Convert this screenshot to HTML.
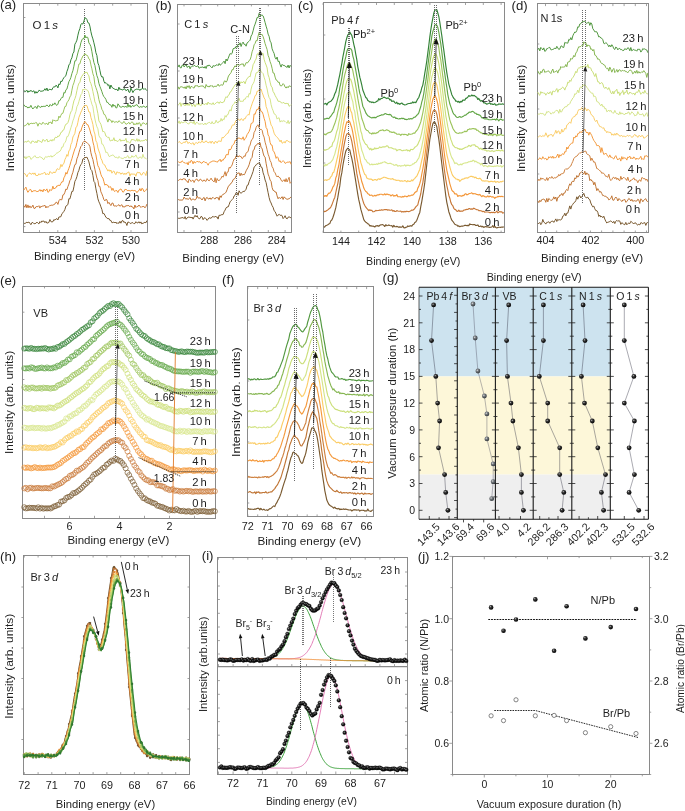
<!DOCTYPE html>
<html><head><meta charset="utf-8"><style>
html,body{margin:0;padding:0;background:#fff;}
svg{display:block;font-family:"Liberation Sans",sans-serif;will-change:transform;}
</style></head><body>
<svg width="685" height="811" viewBox="0 0 685 811">
<rect width="685" height="811" fill="#fff"/>
<rect x="23.5" y="3.5" width="124" height="229" fill="none" stroke="#8a8a8a" stroke-width="1.0"/>
<line x1="131" y1="3.5" x2="131" y2="5.7" stroke="#8a8a8a" stroke-width="0.8" />
<line x1="112.7" y1="3.5" x2="112.7" y2="5.7" stroke="#8a8a8a" stroke-width="0.8" />
<line x1="94.4" y1="3.5" x2="94.4" y2="5.7" stroke="#8a8a8a" stroke-width="0.8" />
<line x1="76.1" y1="3.5" x2="76.1" y2="5.7" stroke="#8a8a8a" stroke-width="0.8" />
<line x1="57.8" y1="3.5" x2="57.8" y2="5.7" stroke="#8a8a8a" stroke-width="0.8" />
<line x1="39.5" y1="3.5" x2="39.5" y2="5.7" stroke="#8a8a8a" stroke-width="0.8" />
<line x1="131" y1="232.3" x2="131" y2="230.1" stroke="#8a8a8a" stroke-width="0.8" />
<line x1="112.7" y1="232.3" x2="112.7" y2="230.1" stroke="#8a8a8a" stroke-width="0.8" />
<line x1="94.4" y1="232.3" x2="94.4" y2="230.1" stroke="#8a8a8a" stroke-width="0.8" />
<line x1="76.1" y1="232.3" x2="76.1" y2="230.1" stroke="#8a8a8a" stroke-width="0.8" />
<line x1="57.8" y1="232.3" x2="57.8" y2="230.1" stroke="#8a8a8a" stroke-width="0.8" />
<line x1="39.5" y1="232.3" x2="39.5" y2="230.1" stroke="#8a8a8a" stroke-width="0.8" />
<line x1="23.4" y1="17.5" x2="25.4" y2="17.5" stroke="#8a8a8a" stroke-width="0.8" />
<line x1="23.4" y1="91.8" x2="25.4" y2="91.8" stroke="#8a8a8a" stroke-width="0.8" />
<line x1="23.4" y1="157.3" x2="25.4" y2="157.3" stroke="#8a8a8a" stroke-width="0.8" />
<line x1="23.4" y1="226.6" x2="25.4" y2="226.6" stroke="#8a8a8a" stroke-width="0.8" />
<text x="57.8" y="243.5" font-size="10.8" fill="#1e1e1e" text-anchor="middle">534</text>
<text x="94.4" y="243.5" font-size="10.8" fill="#1e1e1e" text-anchor="middle">532</text>
<text x="131" y="243.5" font-size="10.8" fill="#1e1e1e" text-anchor="middle">530</text>
<line x1="84.5" y1="9" x2="84.5" y2="190" stroke="#444" stroke-width="0.8" stroke-dasharray="1 1"/>
<path d="M23.9,223.2L24.9,223.5 25.9,222.9 26.9,222.2 27.9,222.7 28.9,222 29.9,223.3 30.9,224.7 31.9,222.6 32.9,222.5 33.9,223.7 34.9,223.6 35.9,223.3 36.9,222.1 37.9,223.1 38.9,223.9 39.9,221.6 40.9,222.6 41.9,220.9 42.9,221.6 43.9,220.9 44.9,222.7 45.9,221.4 46.9,223.1 47.9,222.9 48.9,222.4 49.9,219.5 50.9,221.6 51.9,221.9 52.9,221.7 53.9,219.5 54.9,220.2 55.9,219.1 56.9,218.6 57.9,220 58.9,217 59.9,216.9 60.9,216.7 61.9,213.7 62.9,212.8 63.9,211.4 64.9,209.5 65.9,206.1 66.9,205.4 67.9,204.6 68.9,198.7 69.9,198.9 70.9,195.2 71.9,191.4 72.9,191.4 73.9,186.8 74.9,181.3 75.9,179.4 76.9,176.7 77.9,172.5 78.9,170.3 79.9,166.5 80.9,164.6 81.9,163.2 82.9,158.9 83.9,158.6 84.9,157.1 85.9,157.8 86.9,157.1 87.9,159.3 88.9,161.9 89.9,166 90.9,169.7 91.9,170.7 92.9,175.4 93.9,181.4 94.9,182.7 95.9,188.8 96.9,193.4 97.9,198.8 98.9,201.8 99.9,203.9 100.9,206.8 101.9,209.5 102.9,213.8 103.9,213.4 104.9,215.2 105.9,217.3 106.9,217.9 107.9,218.8 108.9,218.5 109.9,220.4 110.9,220.4 111.9,222.7 112.9,222.5 113.9,222 114.9,223 115.9,222 116.9,223.7 117.9,222.6 118.9,223.4 119.9,221.3 120.9,223.2 121.9,220.9 122.9,220.5 123.9,222.5 124.9,221.9 125.9,223.1 126.9,225.5 127.9,222 128.9,222.2 129.9,223.2 130.9,223.5 131.9,222.7 132.9,222.7 133.9,223.7 134.9,223.5 135.9,221.7 136.9,222.8 137.9,223 138.9,221.7 139.9,223.2 140.9,221.9 141.9,224 142.9,223.1 143.9,223 144.9,222.2 145.9,222.8 146.9,220.6" fill="none" stroke="#7a5a30" stroke-width="1.0" stroke-linejoin="round" />
<path d="M23.9,205.6L24.9,207.3 25.9,204.4 26.9,207.9 27.9,204.9 28.9,207.8 29.9,205.9 30.9,207.8 31.9,207 32.9,205.1 33.9,208.3 34.9,208.5 35.9,206.8 36.9,206.5 37.9,206.7 38.9,205.7 39.9,208.1 40.9,206.2 41.9,206.7 42.9,205.8 43.9,206 44.9,205.2 45.9,208 46.9,206.3 47.9,207.5 48.9,206.3 49.9,205.3 50.9,205.5 51.9,205 52.9,205.3 53.9,204.5 54.9,204.1 55.9,202.3 56.9,202.3 57.9,204.4 58.9,200.8 59.9,199.3 60.9,199.8 61.9,199.7 62.9,194.9 63.9,194.6 64.9,192.3 65.9,189 66.9,189.7 67.9,186.5 68.9,184.1 69.9,180.5 70.9,179.1 71.9,175 72.9,172.3 73.9,168 74.9,164.6 75.9,164.2 76.9,158.8 77.9,156.4 78.9,152.8 79.9,149.3 80.9,146.5 81.9,145.5 82.9,142.5 83.9,141.4 84.9,140.9 85.9,142.3 86.9,142.5 87.9,143.6 88.9,144.7 89.9,146.6 90.9,152.7 91.9,156.6 92.9,159.5 93.9,164.6 94.9,169.3 95.9,173.7 96.9,178 97.9,180.4 98.9,186.3 99.9,186.4 100.9,191.8 101.9,193.9 102.9,196.6 103.9,199.7 104.9,200.9 105.9,199.3 106.9,199.8 107.9,203.6 108.9,202.3 109.9,204.1 110.9,205.6 111.9,203.2 112.9,203 113.9,206 114.9,206 115.9,205.8 116.9,206.3 117.9,205.3 118.9,204.7 119.9,206.3 120.9,205.4 121.9,204.7 122.9,207.2 123.9,206.5 124.9,207.1 125.9,205.5 126.9,205.9 127.9,205.5 128.9,205.6 129.9,206.9 130.9,205.7 131.9,207 132.9,207 133.9,209 134.9,205 135.9,207.6 136.9,206.5 137.9,206.6 138.9,205 139.9,206.1 140.9,207.5 141.9,206.5 142.9,206.7 143.9,206.3 144.9,207.9 145.9,206.6 146.9,204.1" fill="none" stroke="#c87838" stroke-width="1.0" stroke-linejoin="round" />
<path d="M23.9,190L24.9,188.5 25.9,187.1 26.9,190.2 27.9,192.3 28.9,190.8 29.9,189.4 30.9,189.7 31.9,192.1 32.9,191 33.9,190.8 34.9,190.7 35.9,190.8 36.9,191.7 37.9,191.4 38.9,191 39.9,189.5 40.9,191.3 41.9,189.9 42.9,191.9 43.9,189.1 44.9,190.4 45.9,190.5 46.9,188.9 47.9,192.3 48.9,191.8 49.9,189.4 50.9,190.6 51.9,189.9 52.9,186.2 53.9,189 54.9,188.2 55.9,187.8 56.9,185.8 57.9,185.9 58.9,185.1 59.9,185.6 60.9,183.4 61.9,181.7 62.9,181.9 63.9,177.8 64.9,176.1 65.9,172.4 66.9,174.1 67.9,170.9 68.9,168.3 69.9,165.3 70.9,161.7 71.9,158.8 72.9,155.1 73.9,151.9 74.9,148.8 75.9,147 76.9,142.5 77.9,138.4 78.9,134.5 79.9,131.3 80.9,131.1 81.9,127.4 82.9,124.9 83.9,123.1 84.9,121.5 85.9,122.8 86.9,124.6 87.9,124.7 88.9,127.2 89.9,130.1 90.9,134 91.9,136 92.9,141.9 93.9,145.7 94.9,152.2 95.9,154.8 96.9,160.6 97.9,165.8 98.9,167.4 99.9,170.5 100.9,174.4 101.9,176.9 102.9,178 103.9,181.7 104.9,185.2 105.9,184 106.9,185.2 107.9,185.3 108.9,187.6 109.9,186.5 110.9,187.2 111.9,190.4 112.9,188.2 113.9,190.8 114.9,191.5 115.9,190.3 116.9,190.7 117.9,192.5 118.9,190.1 119.9,189.7 120.9,188.9 121.9,190.5 122.9,192.2 123.9,191.6 124.9,189.4 125.9,189.5 126.9,189.9 127.9,190.9 128.9,190.3 129.9,190.8 130.9,190.9 131.9,190.2 132.9,190.5 133.9,190.8 134.9,190.4 135.9,191.1 136.9,192.7 137.9,191.2 138.9,190.6 139.9,188.6 140.9,191 141.9,188.3 142.9,188.9 143.9,191.5 144.9,191.3 145.9,190.3 146.9,188.5" fill="none" stroke="#f39638" stroke-width="1.0" stroke-linejoin="round" />
<path d="M23.9,173.9L24.9,173.5 25.9,175 26.9,176.9 27.9,174.5 28.9,173.4 29.9,172.9 30.9,174.2 31.9,174.1 32.9,172.9 33.9,174.4 34.9,172.9 35.9,175.5 36.9,175.5 37.9,175.5 38.9,173.7 39.9,174.8 40.9,174 41.9,173.7 42.9,173.8 43.9,172.6 44.9,172.4 45.9,174.9 46.9,173.7 47.9,174 48.9,174.8 49.9,171.5 50.9,172.4 51.9,173.2 52.9,173.1 53.9,171.8 54.9,173 55.9,171.4 56.9,169.1 57.9,168.7 58.9,169.7 59.9,168.3 60.9,164.4 61.9,166.7 62.9,164.3 63.9,163.5 64.9,159.6 65.9,157.6 66.9,154.5 67.9,156.3 68.9,150.6 69.9,149.8 70.9,144.4 71.9,142.3 72.9,137 73.9,135.2 74.9,133.3 75.9,127.3 76.9,126.6 77.9,122.3 78.9,117.4 79.9,115 80.9,112.2 81.9,110.2 82.9,107.7 83.9,106.1 84.9,106 85.9,105.2 86.9,105.6 87.9,108.6 88.9,112 89.9,112.1 90.9,117.4 91.9,120.6 92.9,124.5 93.9,131.1 94.9,134.1 95.9,140.9 96.9,142.6 97.9,148 98.9,151 99.9,153.8 100.9,158.4 101.9,160.2 102.9,163.4 103.9,164.6 104.9,165.1 105.9,167.7 106.9,169 107.9,171.1 108.9,169.7 109.9,171.4 110.9,170 111.9,173.2 112.9,171.5 113.9,171 114.9,173.2 115.9,174.7 116.9,171.8 117.9,172.5 118.9,172.9 119.9,172.6 120.9,174.3 121.9,173 122.9,173.1 123.9,174.7 124.9,173.1 125.9,174.5 126.9,172.9 127.9,172.6 128.9,171.9 129.9,176.2 130.9,173.7 131.9,174.3 132.9,174 133.9,174.2 134.9,174.1 135.9,176.2 136.9,172.8 137.9,172.2 138.9,172.9 139.9,172.5 140.9,174.9 141.9,175 142.9,172.9 143.9,172.4 144.9,173.6 145.9,175.6 146.9,170.8" fill="none" stroke="#fbcb62" stroke-width="1.0" stroke-linejoin="round" />
<path d="M23.9,158.4L24.9,156.6 25.9,159 26.9,156.6 27.9,157.5 28.9,156.1 29.9,156.7 30.9,159.4 31.9,158.7 32.9,157.3 33.9,156.8 34.9,155.6 35.9,157.3 36.9,157.7 37.9,157.6 38.9,157.6 39.9,156.4 40.9,157.6 41.9,157.6 42.9,159.1 43.9,159.7 44.9,157.4 45.9,156.6 46.9,157.3 47.9,156.6 48.9,156.3 49.9,156.9 50.9,155.5 51.9,157.2 52.9,156 53.9,156 54.9,155 55.9,153.8 56.9,152.9 57.9,152.9 58.9,151.6 59.9,151.4 60.9,149.9 61.9,147 62.9,147.1 63.9,143.7 64.9,142.6 65.9,140.9 66.9,136.6 67.9,136.6 68.9,134.1 69.9,131 70.9,127.7 71.9,124.7 72.9,120.8 73.9,118.2 74.9,114.5 75.9,111.7 76.9,106.7 77.9,104.9 78.9,101.5 79.9,98 80.9,94.8 81.9,93.5 82.9,89 83.9,90.1 84.9,89.1 85.9,89.2 86.9,90.1 87.9,90.5 88.9,93.2 89.9,97.3 90.9,100.6 91.9,104.3 92.9,106.7 93.9,113.6 94.9,119 95.9,123.3 96.9,126.8 97.9,128.8 98.9,135.5 99.9,137.7 100.9,138.1 101.9,144.1 102.9,144.3 103.9,146.5 104.9,149 105.9,152.7 106.9,152 107.9,153.7 108.9,156.2 109.9,156.7 110.9,155.3 111.9,155.6 112.9,154.8 113.9,155.7 114.9,157.3 115.9,157.4 116.9,157.2 117.9,158.4 118.9,156.4 119.9,157.3 120.9,158.3 121.9,158.1 122.9,158.7 123.9,158 124.9,157.2 125.9,157.9 126.9,156.4 127.9,155.6 128.9,158.2 129.9,157.5 130.9,157.9 131.9,155.6 132.9,157.1 133.9,156.8 134.9,156.5 135.9,154.9 136.9,157.1 137.9,158.6 138.9,158 139.9,156.8 140.9,157.5 141.9,158.4 142.9,154.3 143.9,157.4 144.9,158.1 145.9,158.3 146.9,159.5" fill="none" stroke="#d8e78e" stroke-width="1.0" stroke-linejoin="round" />
<path d="M23.9,142.6L24.9,141.7 25.9,141.6 26.9,142.2 27.9,140.7 28.9,141.2 29.9,142.3 30.9,143.5 31.9,141.1 32.9,141.2 33.9,141.5 34.9,142.8 35.9,141.2 36.9,142.9 37.9,140.1 38.9,141 39.9,141 40.9,142.1 41.9,142.4 42.9,139.4 43.9,140 44.9,141.4 45.9,140.2 46.9,139.1 47.9,142 48.9,141.2 49.9,141 50.9,139.7 51.9,141.2 52.9,139.4 53.9,140.5 54.9,137.7 55.9,137.2 56.9,137.7 57.9,135.9 58.9,136.5 59.9,135 60.9,132.4 61.9,132.1 62.9,130.1 63.9,129.8 64.9,126.1 65.9,124.2 66.9,123.9 67.9,122.6 68.9,119.7 69.9,114.7 70.9,111.9 71.9,110.4 72.9,105.2 73.9,100.9 74.9,98.7 75.9,95.6 76.9,90.7 77.9,86.3 78.9,83.2 79.9,82.5 80.9,78 81.9,76.2 82.9,74.7 83.9,73.7 84.9,71.9 85.9,72.9 86.9,72.1 87.9,74.3 88.9,75.9 89.9,81.3 90.9,83.5 91.9,86.8 92.9,91.6 93.9,96.3 94.9,101.9 95.9,103.8 96.9,108.8 97.9,113.7 98.9,120.9 99.9,122.5 100.9,124.3 101.9,128 102.9,131.9 103.9,131.3 104.9,132.8 105.9,136.1 106.9,136.5 107.9,137.7 108.9,137.1 109.9,140.6 110.9,140.9 111.9,140 112.9,140.5 113.9,137.7 114.9,141 115.9,140.2 116.9,141.1 117.9,141.5 118.9,140.4 119.9,138.9 120.9,141.3 121.9,140.1 122.9,140.6 123.9,140.3 124.9,140.6 125.9,138.4 126.9,142.4 127.9,141.3 128.9,142.3 129.9,143.3 130.9,141.1 131.9,139 132.9,140 133.9,139.6 134.9,140.5 135.9,141.1 136.9,138.7 137.9,141.4 138.9,139.3 139.9,141.4 140.9,140.9 141.9,140.7 142.9,140.9 143.9,140.4 144.9,140.3 145.9,139.1 146.9,141" fill="none" stroke="#cde07a" stroke-width="1.0" stroke-linejoin="round" />
<path d="M23.9,125.7L24.9,125.9 25.9,125.1 26.9,124.4 27.9,122.8 28.9,125.2 29.9,123.5 30.9,123.5 31.9,123.2 32.9,123.7 33.9,123.1 34.9,123.5 35.9,122.3 36.9,123.1 37.9,126.2 38.9,123.5 39.9,123.2 40.9,124.1 41.9,124.3 42.9,122.2 43.9,123.2 44.9,124.4 45.9,123.6 46.9,123.3 47.9,124.9 48.9,122.2 49.9,122.8 50.9,121.9 51.9,124 52.9,119.7 53.9,120.7 54.9,120.4 55.9,121.2 56.9,120.4 57.9,120.5 58.9,116.1 59.9,117.7 60.9,115.3 61.9,113.4 62.9,113.3 63.9,109.8 64.9,106.5 65.9,106.4 66.9,102.8 67.9,101.3 68.9,99.8 69.9,96.9 70.9,95.4 71.9,90.2 72.9,85.4 73.9,82.9 74.9,79.2 75.9,75.4 76.9,73.7 77.9,69 78.9,64 79.9,63.9 80.9,60.1 81.9,58.2 82.9,55.9 83.9,55.1 84.9,53.7 85.9,55.1 86.9,55 87.9,56.5 88.9,58.9 89.9,59.8 90.9,64.9 91.9,68.8 92.9,73.8 93.9,76.6 94.9,84.7 95.9,87.6 96.9,90.5 97.9,94.1 98.9,99.6 99.9,103.3 100.9,105.7 101.9,109.4 102.9,110.9 103.9,114.3 104.9,114.6 105.9,116.9 106.9,119.2 107.9,122.1 108.9,118.8 109.9,120.1 110.9,120.2 111.9,122.6 112.9,120.7 113.9,121.8 114.9,122.5 115.9,121.6 116.9,121.8 117.9,122.5 118.9,120.7 119.9,121.5 120.9,122.7 121.9,123.4 122.9,123.1 123.9,121.3 124.9,122.8 125.9,124.2 126.9,124 127.9,123.2 128.9,122.3 129.9,124.1 130.9,122.7 131.9,122 132.9,122.4 133.9,125 134.9,123.6 135.9,124.7 136.9,122.8 137.9,124.4 138.9,122.6 139.9,123.1 140.9,126.2 141.9,124.2 142.9,122.7 143.9,123.2 144.9,123.7 145.9,124.7 146.9,122.7" fill="none" stroke="#9cc45c" stroke-width="1.0" stroke-linejoin="round" />
<path d="M23.9,104.6L24.9,106.3 25.9,106.6 26.9,106.7 27.9,108.1 28.9,107 29.9,107.5 30.9,105.3 31.9,107.6 32.9,109 33.9,107.5 34.9,106.9 35.9,106.7 36.9,108.6 37.9,105.5 38.9,106.4 39.9,107 40.9,107.4 41.9,106 42.9,106.8 43.9,106.1 44.9,106.5 45.9,106.1 46.9,104.9 47.9,106 48.9,106.9 49.9,104.6 50.9,105.2 51.9,106 52.9,103.7 53.9,104.7 54.9,102.8 55.9,104.7 56.9,105.4 57.9,104.2 58.9,100.7 59.9,100.7 60.9,98.8 61.9,97.3 62.9,97.4 63.9,92.4 64.9,93.1 65.9,89.8 66.9,89.1 67.9,85.3 68.9,81.6 69.9,79.9 70.9,77.4 71.9,73.5 72.9,70.7 73.9,66.2 74.9,60.8 75.9,60.8 76.9,57 77.9,52.9 78.9,49.4 79.9,47.3 80.9,42.7 81.9,39.9 82.9,38.5 83.9,38.7 84.9,35.1 85.9,38 86.9,36.8 87.9,37.8 88.9,42.9 89.9,44.3 90.9,46.6 91.9,51.7 92.9,57.6 93.9,62.5 94.9,65.4 95.9,70.9 96.9,75.7 97.9,78.3 98.9,83.3 99.9,86.4 100.9,88.9 101.9,91.7 102.9,94.7 103.9,96.7 104.9,97.8 105.9,99.4 106.9,102.4 107.9,102.4 108.9,104 109.9,105 110.9,104.9 111.9,107.3 112.9,104.1 113.9,106.3 114.9,105.2 115.9,107.9 116.9,107.8 117.9,103.8 118.9,105 119.9,106.9 120.9,107.1 121.9,107.1 122.9,106.2 123.9,106.8 124.9,107.1 125.9,106.2 126.9,107.5 127.9,103.7 128.9,107.1 129.9,105.1 130.9,107.4 131.9,106.1 132.9,105.3 133.9,106.8 134.9,105.3 135.9,105.3 136.9,104.5 137.9,106.3 138.9,106.9 139.9,107.5 140.9,106.2 141.9,107.5 142.9,106.3 143.9,106.2 144.9,107 145.9,107.5 146.9,105.9" fill="none" stroke="#62a646" stroke-width="1.0" stroke-linejoin="round" />
<path d="M23.9,91L24.9,91.1 25.9,91.4 26.9,90.2 27.9,92.4 28.9,90.8 29.9,91.7 30.9,90.2 31.9,91.6 32.9,91.6 33.9,90.7 34.9,93.4 35.9,91.5 36.9,93.1 37.9,92.2 38.9,90.3 39.9,90.6 40.9,91.5 41.9,91 42.9,91 43.9,90.5 44.9,88.7 45.9,90.4 46.9,88 47.9,90.9 48.9,89.5 49.9,89.3 50.9,89.6 51.9,89.9 52.9,87.6 53.9,86.8 54.9,87 55.9,85.3 56.9,85.8 57.9,87.9 58.9,83.9 59.9,84.7 60.9,81.1 61.9,81.6 62.9,79.3 63.9,77.7 64.9,76.5 65.9,75.7 66.9,71.5 67.9,68.9 68.9,64.9 69.9,63.8 70.9,59.8 71.9,57.8 72.9,53.5 73.9,52 74.9,44.2 75.9,42.5 76.9,40.2 77.9,35.2 78.9,31.2 79.9,28.6 80.9,24.3 81.9,23.5 82.9,24.1 83.9,21.2 84.9,17.9 85.9,18.1 86.9,19.5 87.9,22.7 88.9,23 89.9,26.2 90.9,31.7 91.9,35.9 92.9,38.9 93.9,42.8 94.9,47 95.9,52.7 96.9,55.5 97.9,63.1 98.9,65.5 99.9,70.3 100.9,75.1 101.9,77.1 102.9,76.8 103.9,81.2 104.9,83.3 105.9,82.6 106.9,83.6 107.9,85.6 108.9,84.7 109.9,88.9 110.9,85 111.9,87 112.9,88.3 113.9,88.6 114.9,89.3 115.9,89.6 116.9,89.2 117.9,90.9 118.9,87.2 119.9,89.7 120.9,88.9 121.9,89.9 122.9,90 123.9,88.7 124.9,89 125.9,90.7 126.9,90.2 127.9,89 128.9,92.1 129.9,92.4 130.9,88.1 131.9,90.1 132.9,92.6 133.9,90.6 134.9,89.9 135.9,89.4 136.9,89 137.9,89.4 138.9,89 139.9,90.5 140.9,89.1 141.9,89.1 142.9,88.2 143.9,89.5 144.9,88.5 145.9,89.3 146.9,90.7" fill="none" stroke="#338236" stroke-width="1.0" stroke-linejoin="round" />
<text x="132.2" y="219" font-size="11.2" fill="#1e1e1e" text-anchor="middle">0 h</text>
<text x="132.2" y="201.4" font-size="11.2" fill="#1e1e1e" text-anchor="middle">2 h</text>
<text x="132.2" y="184.8" font-size="11.2" fill="#1e1e1e" text-anchor="middle">4 h</text>
<text x="132.2" y="168.1" font-size="11.2" fill="#1e1e1e" text-anchor="middle">7 h</text>
<text x="133.3" y="152.4" font-size="11.2" fill="#1e1e1e" text-anchor="middle">10 h</text>
<text x="133.3" y="134.9" font-size="11.2" fill="#1e1e1e" text-anchor="middle">12 h</text>
<text x="133.3" y="120.1" font-size="11.2" fill="#1e1e1e" text-anchor="middle">15 h</text>
<text x="133.3" y="104" font-size="11.2" fill="#1e1e1e" text-anchor="middle">19 h</text>
<text x="133.3" y="87.7" font-size="11.2" fill="#1e1e1e" text-anchor="middle">23 h</text>
<text x="32.4" y="28.6" font-size="11.5" fill="#1e1e1e">O 1 <tspan font-style="italic">s</tspan></text>
<rect x="177.5" y="4.5" width="114" height="228" fill="none" stroke="#8a8a8a" stroke-width="1.0"/>
<line x1="285.1" y1="4.2" x2="285.1" y2="6.4" stroke="#8a8a8a" stroke-width="0.8" />
<line x1="268.3" y1="4.2" x2="268.3" y2="6.4" stroke="#8a8a8a" stroke-width="0.8" />
<line x1="251.4" y1="4.2" x2="251.4" y2="6.4" stroke="#8a8a8a" stroke-width="0.8" />
<line x1="234.6" y1="4.2" x2="234.6" y2="6.4" stroke="#8a8a8a" stroke-width="0.8" />
<line x1="217.7" y1="4.2" x2="217.7" y2="6.4" stroke="#8a8a8a" stroke-width="0.8" />
<line x1="200.9" y1="4.2" x2="200.9" y2="6.4" stroke="#8a8a8a" stroke-width="0.8" />
<line x1="184" y1="4.2" x2="184" y2="6.4" stroke="#8a8a8a" stroke-width="0.8" />
<line x1="285.1" y1="232.2" x2="285.1" y2="230" stroke="#8a8a8a" stroke-width="0.8" />
<line x1="268.3" y1="232.2" x2="268.3" y2="230" stroke="#8a8a8a" stroke-width="0.8" />
<line x1="251.4" y1="232.2" x2="251.4" y2="230" stroke="#8a8a8a" stroke-width="0.8" />
<line x1="234.6" y1="232.2" x2="234.6" y2="230" stroke="#8a8a8a" stroke-width="0.8" />
<line x1="217.7" y1="232.2" x2="217.7" y2="230" stroke="#8a8a8a" stroke-width="0.8" />
<line x1="200.9" y1="232.2" x2="200.9" y2="230" stroke="#8a8a8a" stroke-width="0.8" />
<line x1="184" y1="232.2" x2="184" y2="230" stroke="#8a8a8a" stroke-width="0.8" />
<line x1="177.6" y1="24" x2="179.6" y2="24" stroke="#8a8a8a" stroke-width="0.8" />
<line x1="177.6" y1="71" x2="179.6" y2="71" stroke="#8a8a8a" stroke-width="0.8" />
<line x1="177.6" y1="118" x2="179.6" y2="118" stroke="#8a8a8a" stroke-width="0.8" />
<line x1="177.6" y1="165" x2="179.6" y2="165" stroke="#8a8a8a" stroke-width="0.8" />
<line x1="177.6" y1="212" x2="179.6" y2="212" stroke="#8a8a8a" stroke-width="0.8" />
<text x="209.3" y="244.4" font-size="10.8" fill="#1e1e1e" text-anchor="middle">288</text>
<text x="243" y="244.4" font-size="10.8" fill="#1e1e1e" text-anchor="middle">286</text>
<text x="276.7" y="244.4" font-size="10.8" fill="#1e1e1e" text-anchor="middle">284</text>
<path d="M178.1,218.2L179.1,218.4 180.1,218.2 181.1,217.9 182.1,217.7 183.1,217.5 184.1,218.7 185.1,216.6 186.1,219.3 187.1,217.9 188.1,217 189.1,217.3 190.1,217.1 191.1,218 192.1,217 193.1,219.1 194.1,216.9 195.1,215.3 196.1,217 197.1,215.6 198.1,217.7 199.1,218.9 200.1,218.5 201.1,216.3 202.1,216.9 203.1,219.7 204.1,218.1 205.1,217.7 206.1,218.9 207.1,220.4 208.1,219.1 209.1,217.8 210.1,218 211.1,218.3 212.1,216.9 213.1,216.3 214.1,217.4 215.1,216.2 216.1,217 217.1,216.9 218.1,219.1 219.1,215.2 220.1,215.5 221.1,214.8 222.1,214.7 223.1,214.5 224.1,211.7 225.1,210.1 226.1,207.8 227.1,207 228.1,207 229.1,204.7 230.1,201.8 231.1,200.8 232.1,199.6 233.1,198.6 234.1,196 235.1,195.2 236.1,192.6 237.1,192.7 238.1,195.3 239.1,190.8 240.1,192.7 241.1,193.2 242.1,192.3 243.1,191.4 244.1,191.6 245.1,190.7 246.1,189.2 247.1,185.4 248.1,185.1 249.1,181.7 250.1,179.1 251.1,176.9 252.1,174.2 253.1,171.4 254.1,167.1 255.1,166.3 256.1,164.8 257.1,163.7 258.1,163.7 259.1,162.6 260.1,164 261.1,167.2 262.1,167.6 263.1,172.8 264.1,175.7 265.1,180 266.1,182.6 267.1,187.7 268.1,192.7 269.1,197.5 270.1,201.1 271.1,203 272.1,205.7 273.1,207.3 274.1,210.7 275.1,211.6 276.1,213.9 277.1,216.2 278.1,215.1 279.1,214.2 280.1,215.4 281.1,215.1 282.1,215.6 283.1,218.6 284.1,217.5 285.1,215.7 286.1,218.2 287.1,218.9 288.1,217.2 289.1,216.9 290.1,217.3 291.1,218" fill="none" stroke="#7a5a30" stroke-width="1.0" stroke-linejoin="round" />
<path d="M178.1,199.4L179.1,200 180.1,200.1 181.1,200 182.1,200.2 183.1,199.5 184.1,197 185.1,198.6 186.1,199.1 187.1,198.3 188.1,199.7 189.1,198.3 190.1,197.7 191.1,200.3 192.1,199.4 193.1,198.9 194.1,199.7 195.1,199.9 196.1,199.1 197.1,196 198.1,197.9 199.1,198.2 200.1,197.6 201.1,198.9 202.1,200 203.1,198.1 204.1,197.4 205.1,200.9 206.1,198.1 207.1,197.3 208.1,198.9 209.1,199 210.1,197.8 211.1,199.4 212.1,197.9 213.1,197.4 214.1,198.5 215.1,199 216.1,197.3 217.1,198.1 218.1,197.4 219.1,200.2 220.1,195.8 221.1,197.5 222.1,195.2 223.1,194.2 224.1,194.1 225.1,193.1 226.1,192.1 227.1,189.6 228.1,186.9 229.1,185.3 230.1,184.7 231.1,183 232.1,182.3 233.1,179.6 234.1,179 235.1,178.3 236.1,175.9 237.1,173.4 238.1,173.3 239.1,172.7 240.1,175.9 241.1,173.1 242.1,175.3 243.1,174.2 244.1,174.9 245.1,173.3 246.1,170.8 247.1,169 248.1,167.2 249.1,164.8 250.1,161.2 251.1,158.6 252.1,157.3 253.1,150.5 254.1,149.8 255.1,146 256.1,145.2 257.1,144.6 258.1,143.1 259.1,144.3 260.1,142.8 261.1,147.7 262.1,148.4 263.1,153 264.1,156.2 265.1,157.1 266.1,163.3 267.1,168.6 268.1,174.1 269.1,176.6 270.1,180.1 271.1,181.5 272.1,187.5 273.1,190.4 274.1,190.6 275.1,192.1 276.1,192 277.1,195.9 278.1,198.8 279.1,197.3 280.1,198.5 281.1,198.1 282.1,196.7 283.1,199.5 284.1,196.8 285.1,198 286.1,198.7 287.1,199.4 288.1,198.9 289.1,198.9 290.1,197.7 291.1,197.1" fill="none" stroke="#c07636" stroke-width="1.0" stroke-linejoin="round" />
<path d="M178.1,180.7L179.1,179.9 180.1,179.2 181.1,179.2 182.1,180.1 183.1,178.6 184.1,179.1 185.1,178.8 186.1,180.8 187.1,181.1 188.1,182.8 189.1,179 190.1,179.9 191.1,181.6 192.1,180.4 193.1,180.2 194.1,182.5 195.1,180.2 196.1,179.3 197.1,179.1 198.1,181 199.1,180.9 200.1,179.1 201.1,179.5 202.1,181.1 203.1,181.2 204.1,179.8 205.1,181.2 206.1,181.2 207.1,178.6 208.1,180.2 209.1,180.9 210.1,179.8 211.1,178.1 212.1,180.1 213.1,181.1 214.1,182 215.1,177.7 216.1,182.8 217.1,178.5 218.1,180.5 219.1,180.5 220.1,179.7 221.1,178.2 222.1,176.1 223.1,177.2 224.1,174.7 225.1,171.6 226.1,176.1 227.1,172.3 228.1,172 229.1,167.3 230.1,168.2 231.1,166.6 232.1,165 233.1,161.7 234.1,159 235.1,158.9 236.1,155.8 237.1,155.6 238.1,157.1 239.1,155.7 240.1,156.5 241.1,156.5 242.1,158.6 243.1,157.7 244.1,155.8 245.1,156.5 246.1,153.1 247.1,152.1 248.1,151.5 249.1,146.8 250.1,145.1 251.1,141 252.1,139.4 253.1,138 254.1,132.4 255.1,130.9 256.1,127.5 257.1,125.7 258.1,124.8 259.1,127.8 260.1,129.6 261.1,129.2 262.1,130.2 263.1,134.8 264.1,137.1 265.1,142.2 266.1,145.7 267.1,149.8 268.1,154.2 269.1,156.8 270.1,160.6 271.1,162.4 272.1,166.7 273.1,168.2 274.1,171.8 275.1,172.8 276.1,175.4 277.1,177 278.1,175.9 279.1,177.4 280.1,177.8 281.1,180.1 282.1,181.5 283.1,180.8 284.1,179.6 285.1,181.8 286.1,178.6 287.1,182 288.1,179.6 289.1,177.3 290.1,183.3 291.1,182.2" fill="none" stroke="#cf8240" stroke-width="1.0" stroke-linejoin="round" />
<path d="M178.1,161.3L179.1,162.6 180.1,162.2 181.1,162.5 182.1,160.8 183.1,161.7 184.1,162.9 185.1,162.7 186.1,163.7 187.1,162.5 188.1,165 189.1,161.6 190.1,162.7 191.1,160.3 192.1,161 193.1,163.9 194.1,161.4 195.1,163 196.1,162.3 197.1,161.2 198.1,162 199.1,161.8 200.1,161.8 201.1,163.2 202.1,163.1 203.1,161.7 204.1,161.4 205.1,162.7 206.1,162.2 207.1,163.4 208.1,165.2 209.1,163.2 210.1,162.2 211.1,162 212.1,161.2 213.1,161.1 214.1,160.9 215.1,161.5 216.1,161.3 217.1,162.4 218.1,160.9 219.1,160.7 220.1,159.2 221.1,161.8 222.1,159.8 223.1,160.4 224.1,158.4 225.1,158 226.1,154.8 227.1,154.4 228.1,155 229.1,149.1 230.1,150 231.1,148.9 232.1,145.8 233.1,144.6 234.1,143.8 235.1,140.4 236.1,140.6 237.1,138.5 238.1,138.2 239.1,138 240.1,138.5 241.1,138.8 242.1,139.1 243.1,136.8 244.1,140.3 245.1,138.7 246.1,137.3 247.1,134.6 248.1,133.1 249.1,131.5 250.1,128.7 251.1,123.5 252.1,123.1 253.1,122.4 254.1,113.9 255.1,114.4 256.1,111.3 257.1,109.1 258.1,109.7 259.1,106.6 260.1,108.7 261.1,111.5 262.1,111.8 263.1,114.3 264.1,118.3 265.1,121.4 266.1,127.6 267.1,129 268.1,135 269.1,136.6 270.1,142.4 271.1,145 272.1,145.2 273.1,150.8 274.1,151.9 275.1,154.6 276.1,158.4 277.1,156.7 278.1,157.8 279.1,161.5 280.1,160.6 281.1,162.7 282.1,161.7 283.1,160.6 284.1,161.7 285.1,163.3 286.1,163.1 287.1,162.1 288.1,162.2 289.1,162.1 290.1,161.6 291.1,164.4" fill="none" stroke="#f49a3e" stroke-width="1.0" stroke-linejoin="round" />
<path d="M178.1,142.7L179.1,141.5 180.1,142.2 181.1,143.6 182.1,143.5 183.1,142.6 184.1,142 185.1,142.8 186.1,140.8 187.1,141.3 188.1,143.6 189.1,142.2 190.1,143.1 191.1,144.1 192.1,143.4 193.1,142.7 194.1,145.1 195.1,143.5 196.1,142.3 197.1,143.5 198.1,143.1 199.1,141.7 200.1,142.8 201.1,142.5 202.1,140.4 203.1,142.5 204.1,142.3 205.1,142.1 206.1,140.8 207.1,142.2 208.1,142.6 209.1,142.7 210.1,141.3 211.1,143.3 212.1,141.1 213.1,142.2 214.1,143.8 215.1,141.5 216.1,141.5 217.1,143.1 218.1,141.2 219.1,141 220.1,141.2 221.1,141.6 222.1,137.3 223.1,138 224.1,136.9 225.1,135.7 226.1,134.8 227.1,133.4 228.1,133.2 229.1,130.2 230.1,129.7 231.1,128.3 232.1,125.4 233.1,124.8 234.1,125.1 235.1,122.4 236.1,120.4 237.1,120.3 238.1,118.8 239.1,119.9 240.1,120.5 241.1,118.6 242.1,119.3 243.1,120.7 244.1,118.6 245.1,118.9 246.1,116.7 247.1,115.6 248.1,114.3 249.1,115.1 250.1,109.8 251.1,106.8 252.1,103.8 253.1,101.1 254.1,98.9 255.1,95.6 256.1,95.2 257.1,91.2 258.1,91.3 259.1,89.5 260.1,90.2 261.1,89 262.1,92.4 263.1,95 264.1,97.9 265.1,99.4 266.1,106.6 267.1,109.2 268.1,113.2 269.1,117.3 270.1,121 271.1,125.1 272.1,126.4 273.1,129.5 274.1,133.2 275.1,135.1 276.1,136.2 277.1,137.4 278.1,138.2 279.1,139.9 280.1,141.9 281.1,140 282.1,143.2 283.1,142.8 284.1,141.5 285.1,143.1 286.1,140.7 287.1,140.5 288.1,141 289.1,142 290.1,142.2 291.1,142" fill="none" stroke="#fbcd68" stroke-width="1.0" stroke-linejoin="round" />
<path d="M178.1,123.4L179.1,120.9 180.1,123.8 181.1,121.7 182.1,122.5 183.1,122.8 184.1,122 185.1,121.7 186.1,122.1 187.1,123.2 188.1,123.9 189.1,123.8 190.1,122.1 191.1,122.3 192.1,122.2 193.1,123.7 194.1,121 195.1,124.6 196.1,122.7 197.1,122.3 198.1,123.6 199.1,124.3 200.1,123.6 201.1,124.3 202.1,123.3 203.1,124.5 204.1,124.5 205.1,123 206.1,124.7 207.1,123.3 208.1,123.2 209.1,122.1 210.1,122.8 211.1,123.9 212.1,121.6 213.1,123.7 214.1,123.3 215.1,123.1 216.1,120.2 217.1,122.4 218.1,122.9 219.1,121.1 220.1,121.6 221.1,118.4 222.1,121.1 223.1,118.9 224.1,119.7 225.1,115.6 226.1,117.2 227.1,114.8 228.1,114.5 229.1,111 230.1,109.7 231.1,111.1 232.1,106.1 233.1,104.7 234.1,103.7 235.1,101.7 236.1,103.1 237.1,102.9 238.1,99.7 239.1,98.3 240.1,101.4 241.1,101.4 242.1,101.1 243.1,101.5 244.1,99.1 245.1,99.4 246.1,97.4 247.1,96.2 248.1,97.3 249.1,93.4 250.1,94.3 251.1,89.1 252.1,85.3 253.1,83.7 254.1,81.7 255.1,77.3 256.1,72.9 257.1,72.5 258.1,72.1 259.1,69.3 260.1,69 261.1,71.8 262.1,72.5 263.1,73.5 264.1,77.2 265.1,80.3 266.1,85.2 267.1,89 268.1,94.1 269.1,97.6 270.1,98.9 271.1,104.6 272.1,108.3 273.1,110.7 274.1,113.8 275.1,114.2 276.1,115.6 277.1,119.1 278.1,118.1 279.1,117.8 280.1,122.1 281.1,120.7 282.1,121.6 283.1,120.7 284.1,121 285.1,121.4 286.1,122.4 287.1,123.3 288.1,120.4 289.1,123.8 290.1,121.7 291.1,121.9" fill="none" stroke="#d4e488" stroke-width="1.0" stroke-linejoin="round" />
<path d="M178.1,105.1L179.1,104.3 180.1,102.6 181.1,106.4 182.1,103.4 183.1,104.6 184.1,104.6 185.1,105.9 186.1,103.8 187.1,105.4 188.1,103.5 189.1,105.6 190.1,103.5 191.1,103.9 192.1,106.4 193.1,104.7 194.1,104.4 195.1,106.8 196.1,104.7 197.1,103.4 198.1,105.1 199.1,103 200.1,105.5 201.1,105.6 202.1,103.6 203.1,103.6 204.1,104.5 205.1,104.3 206.1,103.2 207.1,104.9 208.1,102 209.1,103.7 210.1,103.7 211.1,103.9 212.1,104.5 213.1,102.7 214.1,104.7 215.1,103.7 216.1,103.1 217.1,102.1 218.1,102.1 219.1,103.5 220.1,101.7 221.1,102.3 222.1,102.8 223.1,102.1 224.1,101.8 225.1,98.7 226.1,96.7 227.1,97.7 228.1,95.5 229.1,94.8 230.1,92 231.1,91.6 232.1,89.6 233.1,87.9 234.1,86.3 235.1,84.9 236.1,83.7 237.1,82.9 238.1,83.2 239.1,81.3 240.1,83.7 241.1,81.7 242.1,83 243.1,81.8 244.1,81.6 245.1,83.8 246.1,80.6 247.1,78.5 248.1,77.8 249.1,76.3 250.1,76.8 251.1,72 252.1,69.9 253.1,64.7 254.1,63.1 255.1,60.5 256.1,59 257.1,54 258.1,53.8 259.1,52.5 260.1,50.8 261.1,52.4 262.1,53.5 263.1,53.4 264.1,59.3 265.1,62.5 266.1,65 267.1,67.9 268.1,74.9 269.1,77.5 270.1,82.1 271.1,86.1 272.1,87.2 273.1,91.6 274.1,93 275.1,95.4 276.1,97.2 277.1,98.9 278.1,101.3 279.1,101.2 280.1,101.7 281.1,102.2 282.1,103.3 283.1,102.3 284.1,103 285.1,103.7 286.1,103.2 287.1,103.8 288.1,103.3 289.1,106.3 290.1,105.6 291.1,104.6" fill="none" stroke="#cbdf7a" stroke-width="1.0" stroke-linejoin="round" />
<path d="M178.1,86.7L179.1,89.2 180.1,87.1 181.1,86.6 182.1,87.1 183.1,87.1 184.1,88.3 185.1,86.7 186.1,89 187.1,85.8 188.1,87.5 189.1,85.6 190.1,88.7 191.1,86.4 192.1,86.6 193.1,87.7 194.1,88.1 195.1,85.5 196.1,86.3 197.1,85.2 198.1,86.8 199.1,86.6 200.1,86.3 201.1,85.9 202.1,86.2 203.1,85.8 204.1,87.2 205.1,88.3 206.1,84.5 207.1,86.5 208.1,86.2 209.1,87.1 210.1,85.5 211.1,86.4 212.1,85.4 213.1,87.2 214.1,86.5 215.1,86.2 216.1,86.6 217.1,85.8 218.1,84.1 219.1,86.2 220.1,85.5 221.1,84.6 222.1,85.3 223.1,84.8 224.1,81.4 225.1,80.8 226.1,82.2 227.1,80.8 228.1,77 229.1,75 230.1,73.9 231.1,72.5 232.1,69.6 233.1,69.8 234.1,67 235.1,65.8 236.1,67 237.1,64.5 238.1,64.6 239.1,65.1 240.1,65.2 241.1,63.9 242.1,64.5 243.1,63.6 244.1,66.5 245.1,65 246.1,62.6 247.1,62.9 248.1,62.4 249.1,60.5 250.1,59.8 251.1,56.7 252.1,51.8 253.1,49.2 254.1,44.8 255.1,43.4 256.1,40.5 257.1,40.9 258.1,36.1 259.1,32.5 260.1,33.6 261.1,34.7 262.1,34.4 263.1,36.6 264.1,39.7 265.1,43.6 266.1,46.6 267.1,49.5 268.1,55.3 269.1,57.8 270.1,61.7 271.1,64.3 272.1,68.3 273.1,73 274.1,73.1 275.1,77.1 276.1,80 277.1,80.4 278.1,82.4 279.1,82 280.1,85.5 281.1,85.9 282.1,85.5 283.1,83.6 284.1,84.7 285.1,87.1 286.1,88.1 287.1,86.6 288.1,87.8 289.1,85.8 290.1,86.3 291.1,86.5" fill="none" stroke="#86b652" stroke-width="1.0" stroke-linejoin="round" />
<path d="M178.1,67L179.1,64.9 180.1,67.6 181.1,68 182.1,65.3 183.1,65 184.1,66.9 185.1,65.8 186.1,63.9 187.1,67.4 188.1,66.7 189.1,66 190.1,68.8 191.1,66.7 192.1,65.7 193.1,66.6 194.1,65.4 195.1,65.7 196.1,66.9 197.1,65.9 198.1,66 199.1,68.3 200.1,67.4 201.1,67.4 202.1,67.1 203.1,67 204.1,68.1 205.1,66.4 206.1,68.5 207.1,65.4 208.1,66.1 209.1,64.9 210.1,66 211.1,66.9 212.1,67.9 213.1,65.6 214.1,66.2 215.1,65.8 216.1,65.2 217.1,64.6 218.1,65.7 219.1,63.5 220.1,65.2 221.1,64.6 222.1,63.4 223.1,62.3 224.1,61.1 225.1,63.7 226.1,59 227.1,61 228.1,58.5 229.1,55.9 230.1,53.5 231.1,54.2 232.1,53.4 233.1,48.8 234.1,48.1 235.1,48.3 236.1,46.4 237.1,47.4 238.1,44 239.1,44.9 240.1,42.8 241.1,46.5 242.1,43.6 243.1,42.1 244.1,44.4 245.1,44.3 246.1,46.2 247.1,42.9 248.1,42.1 249.1,41.2 250.1,40.2 251.1,36 252.1,34.4 253.1,30.8 254.1,26.8 255.1,24.1 256.1,21.1 257.1,17.5 258.1,17.7 259.1,13.4 260.1,15.5 261.1,15.3 262.1,15 263.1,15.9 264.1,18.8 265.1,22.5 266.1,26.2 267.1,29.4 268.1,34.1 269.1,36.3 270.1,41.1 271.1,42.8 272.1,48.8 273.1,51.3 274.1,53.4 275.1,57.6 276.1,59.2 277.1,57 278.1,61.6 279.1,61.1 280.1,64.8 281.1,67.1 282.1,64.3 283.1,65.4 284.1,65.3 285.1,66.2 286.1,66.7 287.1,67.5 288.1,65.1 289.1,68 290.1,65.3 291.1,66.6" fill="none" stroke="#529840" stroke-width="1.0" stroke-linejoin="round" />
<line x1="236.5" y1="36" x2="236.5" y2="213" stroke="#444" stroke-width="0.8" stroke-dasharray="1 1"/>
<line x1="238.5" y1="36" x2="238.5" y2="80" stroke="#444" stroke-width="0.8" stroke-dasharray="1 1"/>
<line x1="259.5" y1="8" x2="259.5" y2="186" stroke="#444" stroke-width="0.8" stroke-dasharray="1 1"/>
<line x1="260.5" y1="8" x2="260.5" y2="50" stroke="#444" stroke-width="0.8" stroke-dasharray="1 1"/>
<line x1="236.8" y1="157" x2="238.3" y2="85.7" stroke="#1a1a1a" stroke-width="0.65" />
<path d="M238.4,80.3L240.4,85.7 236.2,85.7Z" fill="#1a1a1a"/>
<line x1="259.5" y1="126" x2="260.4" y2="55.3" stroke="#1a1a1a" stroke-width="0.65" />
<path d="M260.5,49.9L262.5,55.3 258.3,55.3Z" fill="#1a1a1a"/>
<text x="183.3" y="213.7" font-size="11.2" fill="#1e1e1e">0 h</text>
<text x="183.3" y="196.1" font-size="11.2" fill="#1e1e1e">2 h</text>
<text x="183.3" y="177.3" font-size="11.2" fill="#1e1e1e">4 h</text>
<text x="183.3" y="158.2" font-size="11.2" fill="#1e1e1e">7 h</text>
<text x="182.6" y="139.5" font-size="11.2" fill="#1e1e1e">10 h</text>
<text x="182.6" y="121.1" font-size="11.2" fill="#1e1e1e">12 h</text>
<text x="182.6" y="103.9" font-size="11.2" fill="#1e1e1e">15 h</text>
<text x="182.6" y="83.4" font-size="11.2" fill="#1e1e1e">19 h</text>
<text x="182.6" y="64.5" font-size="11.2" fill="#1e1e1e">23 h</text>
<text x="184.2" y="28.2" font-size="11" fill="#1e1e1e">C 1 <tspan font-style="italic">s</tspan></text>
<text x="230.3" y="33.3" font-size="11" fill="#1e1e1e">C-N</text>
<rect x="323.5" y="2.5" width="181" height="230" fill="none" stroke="#8a8a8a" stroke-width="1.0"/>
<line x1="501.1" y1="2.8" x2="501.1" y2="5" stroke="#8a8a8a" stroke-width="0.8" />
<line x1="483.3" y1="2.8" x2="483.3" y2="5" stroke="#8a8a8a" stroke-width="0.8" />
<line x1="465.5" y1="2.8" x2="465.5" y2="5" stroke="#8a8a8a" stroke-width="0.8" />
<line x1="447.7" y1="2.8" x2="447.7" y2="5" stroke="#8a8a8a" stroke-width="0.8" />
<line x1="429.9" y1="2.8" x2="429.9" y2="5" stroke="#8a8a8a" stroke-width="0.8" />
<line x1="412.1" y1="2.8" x2="412.1" y2="5" stroke="#8a8a8a" stroke-width="0.8" />
<line x1="394.3" y1="2.8" x2="394.3" y2="5" stroke="#8a8a8a" stroke-width="0.8" />
<line x1="376.5" y1="2.8" x2="376.5" y2="5" stroke="#8a8a8a" stroke-width="0.8" />
<line x1="358.7" y1="2.8" x2="358.7" y2="5" stroke="#8a8a8a" stroke-width="0.8" />
<line x1="340.9" y1="2.8" x2="340.9" y2="5" stroke="#8a8a8a" stroke-width="0.8" />
<line x1="323.1" y1="2.8" x2="323.1" y2="5" stroke="#8a8a8a" stroke-width="0.8" />
<line x1="501.1" y1="232.8" x2="501.1" y2="230.6" stroke="#8a8a8a" stroke-width="0.8" />
<line x1="483.3" y1="232.8" x2="483.3" y2="230.6" stroke="#8a8a8a" stroke-width="0.8" />
<line x1="465.5" y1="232.8" x2="465.5" y2="230.6" stroke="#8a8a8a" stroke-width="0.8" />
<line x1="447.7" y1="232.8" x2="447.7" y2="230.6" stroke="#8a8a8a" stroke-width="0.8" />
<line x1="429.9" y1="232.8" x2="429.9" y2="230.6" stroke="#8a8a8a" stroke-width="0.8" />
<line x1="412.1" y1="232.8" x2="412.1" y2="230.6" stroke="#8a8a8a" stroke-width="0.8" />
<line x1="394.3" y1="232.8" x2="394.3" y2="230.6" stroke="#8a8a8a" stroke-width="0.8" />
<line x1="376.5" y1="232.8" x2="376.5" y2="230.6" stroke="#8a8a8a" stroke-width="0.8" />
<line x1="358.7" y1="232.8" x2="358.7" y2="230.6" stroke="#8a8a8a" stroke-width="0.8" />
<line x1="340.9" y1="232.8" x2="340.9" y2="230.6" stroke="#8a8a8a" stroke-width="0.8" />
<line x1="323.1" y1="232.8" x2="323.1" y2="230.6" stroke="#8a8a8a" stroke-width="0.8" />
<line x1="323.3" y1="35" x2="325.3" y2="35" stroke="#8a8a8a" stroke-width="0.8" />
<line x1="323.3" y1="99" x2="325.3" y2="99" stroke="#8a8a8a" stroke-width="0.8" />
<line x1="323.3" y1="163" x2="325.3" y2="163" stroke="#8a8a8a" stroke-width="0.8" />
<line x1="323.3" y1="227" x2="325.3" y2="227" stroke="#8a8a8a" stroke-width="0.8" />
<text x="340.9" y="245.1" font-size="10.8" fill="#1e1e1e" text-anchor="middle">144</text>
<text x="376.5" y="245.1" font-size="10.8" fill="#1e1e1e" text-anchor="middle">142</text>
<text x="412.1" y="245.1" font-size="10.8" fill="#1e1e1e" text-anchor="middle">140</text>
<text x="447.7" y="245.1" font-size="10.8" fill="#1e1e1e" text-anchor="middle">138</text>
<text x="483.3" y="245.1" font-size="10.8" fill="#1e1e1e" text-anchor="middle">136</text>
<path d="M323.8,227.2L324.8,226.7 325.8,225.6 326.8,225.2 327.8,224.7 328.8,224.1 329.8,223.6 330.8,220.9 331.8,220 332.8,217.7 333.8,214.8 334.8,211.3 335.8,207.7 336.8,202.5 337.8,197.4 338.8,191.4 339.8,185.9 340.8,177.6 341.8,172.9 342.8,166 343.8,160.4 344.8,155.3 345.8,151.1 346.8,149.3 347.8,148.1 348.8,149.1 349.8,150 350.8,154.7 351.8,158.4 352.8,163.4 353.8,169.1 354.8,175.4 355.8,181.6 356.8,188.2 357.8,194.4 358.8,199.9 359.8,204.2 360.8,209.2 361.8,212.6 362.8,216.2 363.8,219.6 364.8,221.1 365.8,222.2 366.8,222.8 367.8,223.8 368.8,224.3 369.8,226 370.8,225.6 371.8,226.2 372.8,226 373.8,226.4 374.8,227 375.8,225.9 376.8,225.9 377.8,225.6 378.8,226.3 379.8,225.2 380.8,224.9 381.8,224.7 382.8,224.6 383.8,225.4 384.8,226.5 385.8,224.7 386.8,225.7 387.8,225.5 388.8,224.9 389.8,225.5 390.8,225.7 391.8,225.6 392.8,227.1 393.8,225.4 394.8,226.7 395.8,226.7 396.8,226.4 397.8,226.8 398.8,227.3 399.8,226.9 400.8,227.1 401.8,227.2 402.8,225.9 403.8,227.6 404.8,228 405.8,227.3 406.8,227.2 407.8,225.9 408.8,226.4 409.8,225.9 410.8,225.7 411.8,226.1 412.8,224.7 413.8,224.3 414.8,222.4 415.8,221.9 416.8,220.3 417.8,217.6 418.8,214.7 419.8,212.4 420.8,206.4 421.8,201.3 422.8,195.4 423.8,189.5 424.8,182.4 425.8,173.4 426.8,164.4 427.8,155.9 428.8,148.3 429.8,139.6 430.8,134 431.8,128.4 432.8,123.9 433.8,122.1 434.8,122 435.8,124.3 436.8,126.7 437.8,133.2 438.8,139.1 439.8,146.6 440.8,155.3 441.8,163.8 442.8,171.9 443.8,179.8 444.8,187.8 445.8,195.9 446.8,202.3 447.8,206.9 448.8,211.7 449.8,214.5 450.8,217.7 451.8,220.2 452.8,221.3 453.8,222.8 454.8,224.3 455.8,224.8 456.8,225 457.8,226.1 458.8,225.9 459.8,226.7 460.8,226.2 461.8,226 462.8,226.1 463.8,225.8 464.8,225.4 465.8,225.3 466.8,225.7 467.8,225.4 468.8,225.6 469.8,223.9 470.8,224.5 471.8,224.5 472.8,224.8 473.8,224.5 474.8,224.6 475.8,225.5 476.8,225.4 477.8,224.9 478.8,226.4 479.8,226.5 480.8,225.9 481.8,226.9 482.8,226.3 483.8,227.4 484.8,226.8 485.8,226.6 486.8,226.9 487.8,226.8 488.8,227.3 489.8,227.4 490.8,227.3 491.8,227 492.8,225.5 493.8,227.4 494.8,226.4 495.8,227.5 496.8,227.9 497.8,227.5 498.8,227.2 499.8,227.3 500.8,227.3 501.8,227.1 502.8,227.1 503.8,226.9" fill="none" stroke="#7a5a30" stroke-width="1.15" stroke-linejoin="round" />
<path d="M323.8,212L324.8,211.2 325.8,211.4 326.8,210.4 327.8,209.9 328.8,209 329.8,208.3 330.8,207.1 331.8,205.1 332.8,202.4 333.8,199.6 334.8,197.4 335.8,192.5 336.8,187.9 337.8,183.6 338.8,177.7 339.8,171.3 340.8,164.5 341.8,159.5 342.8,152.3 343.8,146.7 344.8,141.3 345.8,136.8 346.8,134.1 347.8,133.6 348.8,133.7 349.8,134.9 350.8,137.4 351.8,141.4 352.8,147.1 353.8,152.3 354.8,159.7 355.8,166.2 356.8,173.4 357.8,178.5 358.8,183.4 359.8,188.3 360.8,191.5 361.8,196.8 362.8,200.3 363.8,203.5 364.8,205.5 365.8,207.2 366.8,208.3 367.8,209.5 368.8,210.6 369.8,209.8 370.8,210.5 371.8,210.2 372.8,211.8 373.8,211.7 374.8,211.3 375.8,210.3 376.8,210.8 377.8,210.5 378.8,210.4 379.8,210.1 380.8,210.3 381.8,209.7 382.8,210.2 383.8,209.8 384.8,209.5 385.8,209.6 386.8,209.5 387.8,210.2 388.8,209.8 389.8,210.3 390.8,210.2 391.8,209.8 392.8,211.2 393.8,210.5 394.8,211.5 395.8,211.5 396.8,210.6 397.8,211 398.8,211.3 399.8,211.2 400.8,211.1 401.8,212.1 402.8,211.6 403.8,211.9 404.8,211.4 405.8,211.8 406.8,211.2 407.8,211.5 408.8,211.6 409.8,211.2 410.8,210.7 411.8,210 412.8,210.2 413.8,209.6 414.8,208.4 415.8,206.9 416.8,205.9 417.8,204.8 418.8,200.7 419.8,197.6 420.8,193.5 421.8,187.2 422.8,182.8 423.8,175.9 424.8,169.7 425.8,161 426.8,152.6 427.8,144.5 428.8,136.5 429.8,128.5 430.8,121.9 431.8,115.6 432.8,112.1 433.8,110.2 434.8,110.3 435.8,111.1 436.8,114.2 437.8,119.5 438.8,125.7 439.8,133.3 440.8,141 441.8,148.7 442.8,157.2 443.8,165.2 444.8,172.9 445.8,179.7 446.8,185.3 447.8,190 448.8,195.2 449.8,198.2 450.8,202.3 451.8,204.7 452.8,205.7 453.8,208.3 454.8,209.4 455.8,209.8 456.8,211.1 457.8,211.5 458.8,210.2 459.8,211.4 460.8,211.1 461.8,211 462.8,211.1 463.8,210.1 464.8,210 465.8,209.6 466.8,209.4 467.8,209.5 468.8,208.6 469.8,208.6 470.8,209.3 471.8,208.9 472.8,209.2 473.8,208.1 474.8,208.8 475.8,209.2 476.8,209.7 477.8,209.7 478.8,210.7 479.8,210.5 480.8,210.8 481.8,211.1 482.8,211.7 483.8,211.3 484.8,212.2 485.8,212 486.8,212 487.8,212 488.8,212.3 489.8,212.6 490.8,212.6 491.8,212.3 492.8,212.6 493.8,212.2 494.8,212.8 495.8,212.1 496.8,211.1 497.8,212.8 498.8,212.2 499.8,211.6 500.8,212.1 501.8,211.7 502.8,213.2 503.8,212.4" fill="none" stroke="#c87838" stroke-width="1.15" stroke-linejoin="round" />
<path d="M323.8,195.4L324.8,196.3 325.8,195.5 326.8,196.3 327.8,194.3 328.8,193 329.8,193.2 330.8,191.7 331.8,190.1 332.8,187.2 333.8,185.9 334.8,183.4 335.8,177.9 336.8,175.2 337.8,169.4 338.8,165.5 339.8,158.7 340.8,152.3 341.8,146.8 342.8,140.5 343.8,134.3 344.8,130.1 345.8,125.4 346.8,121.9 347.8,122.2 348.8,120.9 349.8,122 350.8,125 351.8,127.9 352.8,132.7 353.8,138.6 354.8,144.5 355.8,150.9 356.8,157.6 357.8,162.7 358.8,168.7 359.8,173.7 360.8,177.3 361.8,181.8 362.8,184.5 363.8,188.1 364.8,190 365.8,191.5 366.8,192.1 367.8,193.8 368.8,194.1 369.8,195.4 370.8,195.3 371.8,195.1 372.8,196.1 373.8,196 374.8,195.3 375.8,196 376.8,195.1 377.8,194.9 378.8,194.9 379.8,194.3 380.8,194.2 381.8,194.2 382.8,194.9 383.8,194.7 384.8,193.8 385.8,194.8 386.8,194 387.8,194.4 388.8,194.8 389.8,194.7 390.8,196 391.8,195.2 392.8,194.7 393.8,196.2 394.8,195.5 395.8,195.8 396.8,194.6 397.8,196.7 398.8,196.7 399.8,196.7 400.8,196.9 401.8,197.2 402.8,196.4 403.8,196.9 404.8,196 405.8,196.2 406.8,196.8 407.8,196.4 408.8,195.4 409.8,196.1 410.8,195.6 411.8,195 412.8,195.2 413.8,194.1 414.8,192.7 415.8,191.8 416.8,191.7 417.8,188.1 418.8,186.4 419.8,183.5 420.8,179.6 421.8,174 422.8,169 423.8,163 424.8,156.4 425.8,148.1 426.8,139.9 427.8,132.8 428.8,124.7 429.8,116.7 430.8,109.3 431.8,104.1 432.8,99.5 433.8,97.2 434.8,95.3 435.8,97.1 436.8,99.8 437.8,103.8 438.8,110.4 439.8,117.3 440.8,124.8 441.8,133.3 442.8,140.6 443.8,149.2 444.8,157 445.8,163.8 446.8,170.3 447.8,174.6 448.8,179 449.8,183.6 450.8,186.8 451.8,190.1 452.8,191.3 453.8,192 454.8,193.9 455.8,193.9 456.8,194.1 457.8,196.5 458.8,195.6 459.8,195.8 460.8,195.8 461.8,196.3 462.8,195.3 463.8,195.6 464.8,194.2 465.8,193.7 466.8,194.8 467.8,194.6 468.8,193.8 469.8,193.5 470.8,193.3 471.8,192.8 472.8,194 473.8,193.6 474.8,193.7 475.8,193.9 476.8,194.5 477.8,194.6 478.8,195 479.8,194.4 480.8,195.6 481.8,196.7 482.8,195.6 483.8,196 484.8,196.7 485.8,196.9 486.8,196.9 487.8,195.8 488.8,197 489.8,196.2 490.8,196.4 491.8,197.1 492.8,196.7 493.8,197.2 494.8,198.4 495.8,197.2 496.8,197.2 497.8,196.4 498.8,196.6 499.8,196.3 500.8,196.6 501.8,196.3 502.8,196.6 503.8,196.8" fill="none" stroke="#f39638" stroke-width="1.15" stroke-linejoin="round" />
<path d="M323.8,180.4L324.8,180 325.8,179.8 326.8,180.4 327.8,179.7 328.8,179.5 329.8,178.6 330.8,176.8 331.8,175.8 332.8,172.8 333.8,172.2 334.8,168.7 335.8,164.5 336.8,159.9 337.8,156 338.8,149.6 339.8,144.5 340.8,139.3 341.8,132.9 342.8,126.6 343.8,121.7 344.8,115.7 345.8,112.2 346.8,108.7 347.8,106.7 348.8,106.9 349.8,107.1 350.8,110.9 351.8,113.1 352.8,118.9 353.8,122.6 354.8,129.3 355.8,134.4 356.8,140.4 357.8,147 358.8,152.8 359.8,156.9 360.8,162.6 361.8,165.5 362.8,169.3 363.8,172.1 364.8,174.5 365.8,175 366.8,178.1 367.8,178.6 368.8,178.9 369.8,179.1 370.8,179.1 371.8,179.4 372.8,180.5 373.8,180 374.8,179.5 375.8,179.6 376.8,180.4 377.8,179.2 378.8,178.8 379.8,179.5 380.8,178.8 381.8,178.3 382.8,177.8 383.8,177.2 384.8,177.3 385.8,177.7 386.8,177.9 387.8,178.4 388.8,178.7 389.8,178.8 390.8,179.1 391.8,178.9 392.8,178.6 393.8,179.7 394.8,179.7 395.8,180.1 396.8,180.5 397.8,180.2 398.8,180.3 399.8,180.9 400.8,181.1 401.8,180.8 402.8,181.3 403.8,181 404.8,180.6 405.8,181.1 406.8,181.9 407.8,180.6 408.8,181.4 409.8,181.4 410.8,181.2 411.8,179.8 412.8,180.8 413.8,179.3 414.8,178.3 415.8,177.2 416.8,176.2 417.8,174.1 418.8,171.6 419.8,169.4 420.8,164.7 421.8,160.1 422.8,155.8 423.8,149.8 424.8,143.3 425.8,134.9 426.8,128.1 427.8,119.8 428.8,112.4 429.8,103.3 430.8,97 431.8,90.8 432.8,85.6 433.8,83 434.8,82.7 435.8,82.6 436.8,84.9 437.8,89.9 438.8,95.5 439.8,102.2 440.8,108.8 441.8,117.1 442.8,125.7 443.8,132.8 444.8,140.2 445.8,147.9 446.8,154.5 447.8,158.6 448.8,162.5 449.8,167 450.8,170.4 451.8,173.4 452.8,175.7 453.8,176.9 454.8,177.7 455.8,179 456.8,179 457.8,179.8 458.8,179.6 459.8,181.4 460.8,180.4 461.8,179.4 462.8,179.1 463.8,179 464.8,178.1 465.8,178.1 466.8,177.8 467.8,178.2 468.8,177.2 469.8,176.8 470.8,176.3 471.8,176.3 472.8,176.9 473.8,176.9 474.8,177.8 475.8,177.2 476.8,178.5 477.8,178.5 478.8,178.8 479.8,178.2 480.8,179 481.8,180.4 482.8,181 483.8,180.7 484.8,181.2 485.8,180.8 486.8,181 487.8,181 488.8,181.9 489.8,181.6 490.8,181.4 491.8,181.3 492.8,181.8 493.8,181.7 494.8,181.1 495.8,182.4 496.8,181.7 497.8,181.6 498.8,182.3 499.8,182.1 500.8,181.5 501.8,181.9 502.8,181.1 503.8,181.3" fill="none" stroke="#fbcb62" stroke-width="1.15" stroke-linejoin="round" />
<path d="M323.8,164.5L324.8,166.1 325.8,164.3 326.8,165.3 327.8,164.1 328.8,163.4 329.8,163 330.8,162.1 331.8,160.9 332.8,159.6 333.8,156.6 334.8,154.1 335.8,150 336.8,146.7 337.8,141.9 338.8,136.5 339.8,131.2 340.8,125.3 341.8,119.5 342.8,113.6 343.8,107.6 344.8,102.3 345.8,98.8 346.8,94.3 347.8,92.8 348.8,93.1 349.8,91.6 350.8,94.7 351.8,98.6 352.8,101.7 353.8,108.9 354.8,111.9 355.8,119.8 356.8,125.9 357.8,131.4 358.8,136.4 359.8,141.7 360.8,145.7 361.8,150.5 362.8,152.9 363.8,156.1 364.8,159.1 365.8,159.8 366.8,161.6 367.8,163 368.8,163 369.8,164.8 370.8,164.7 371.8,164 372.8,164.8 373.8,164.4 374.8,164.3 375.8,164.5 376.8,163.8 377.8,164.4 378.8,163.2 379.8,163.7 380.8,162.9 381.8,163.1 382.8,162.2 383.8,162 384.8,161.7 385.8,162.6 386.8,162.9 387.8,163.6 388.8,163.5 389.8,163.3 390.8,163.4 391.8,164 392.8,164.2 393.8,165.2 394.8,165.3 395.8,164.6 396.8,164.9 397.8,166.1 398.8,165.7 399.8,165.6 400.8,166.3 401.8,165.6 402.8,165.7 403.8,165.6 404.8,164.8 405.8,166.2 406.8,165.1 407.8,165.4 408.8,165.2 409.8,165.8 410.8,165.2 411.8,165 412.8,163.8 413.8,164 414.8,162.6 415.8,162.5 416.8,161.2 417.8,159.3 418.8,158.1 419.8,154.5 420.8,151 421.8,146.6 422.8,141.4 423.8,136.2 424.8,129.8 425.8,121.4 426.8,114.9 427.8,106.7 428.8,99 429.8,91.1 430.8,83.2 431.8,77.1 432.8,73.7 433.8,69.7 434.8,67.3 435.8,68.4 436.8,70.2 437.8,73.2 438.8,78.2 439.8,85 440.8,93.2 441.8,100.9 442.8,108.7 443.8,116.9 444.8,124.6 445.8,130.2 446.8,137.4 447.8,142.7 448.8,147.2 449.8,151.6 450.8,155.1 451.8,157.6 452.8,159.1 453.8,161.2 454.8,163.6 455.8,162.9 456.8,163.2 457.8,164.5 458.8,164.9 459.8,164.8 460.8,164 461.8,164.8 462.8,163.7 463.8,163.2 464.8,163 465.8,162.9 466.8,162.8 467.8,162.4 468.8,161.7 469.8,161.8 470.8,161.2 471.8,161.5 472.8,160.4 473.8,160.4 474.8,161.9 475.8,161.1 476.8,162.1 477.8,162.7 478.8,162.9 479.8,163.4 480.8,164.8 481.8,163.3 482.8,165.3 483.8,166.4 484.8,165.5 485.8,165.7 486.8,166.2 487.8,166.9 488.8,165.5 489.8,166.2 490.8,166.1 491.8,166.5 492.8,166.3 493.8,166.6 494.8,166 495.8,166.3 496.8,165.9 497.8,165.9 498.8,166.2 499.8,166.2 500.8,165.7 501.8,167.1 502.8,166.2 503.8,165.6" fill="none" stroke="#d8e78e" stroke-width="1.15" stroke-linejoin="round" />
<path d="M323.8,150.7L324.8,149.7 325.8,150.1 326.8,149.5 327.8,149.3 328.8,148.6 329.8,147.5 330.8,146.8 331.8,146.5 332.8,142.6 333.8,141.6 334.8,139.1 335.8,135.2 336.8,131.2 337.8,128.6 338.8,122.5 339.8,118.3 340.8,111.9 341.8,105.7 342.8,100.1 343.8,94.5 344.8,89.6 345.8,84.8 346.8,81.2 347.8,78.9 348.8,78.6 349.8,78.7 350.8,79.5 351.8,82.6 352.8,87.1 353.8,91.5 354.8,97.1 355.8,102.6 356.8,108.9 357.8,115 358.8,120.8 359.8,125.4 360.8,131.1 361.8,134 362.8,139.1 363.8,140.9 364.8,143 365.8,144.4 366.8,144.7 367.8,147.1 368.8,148.1 369.8,149.6 370.8,148.3 371.8,150.1 372.8,149.1 373.8,149.5 374.8,147.8 375.8,148.9 376.8,148.3 377.8,148.5 378.8,147.9 379.8,146.9 380.8,147.6 381.8,147.2 382.8,146.9 383.8,146.9 384.8,146.9 385.8,146.4 386.8,145.8 387.8,146 388.8,147.7 389.8,147.7 390.8,147.8 391.8,147.9 392.8,148.5 393.8,148.9 394.8,149 395.8,149.1 396.8,150.8 397.8,150 398.8,149.7 399.8,149.5 400.8,149.9 401.8,150.6 402.8,150.7 403.8,150.2 404.8,150.3 405.8,150.1 406.8,149.7 407.8,150.8 408.8,150.3 409.8,151.2 410.8,149.4 411.8,149.5 412.8,149.6 413.8,148.6 414.8,147.3 415.8,146.6 416.8,145.9 417.8,144.4 418.8,142.1 419.8,139.9 420.8,136.6 421.8,132.3 422.8,127.3 423.8,121.6 424.8,115.7 425.8,108.9 426.8,101 427.8,93.4 428.8,85.1 429.8,76.9 430.8,70 431.8,64.6 432.8,59.3 433.8,56.3 434.8,53.7 435.8,54 436.8,55.9 437.8,59.2 438.8,63.3 439.8,69.7 440.8,76.9 441.8,84 442.8,92.6 443.8,100.7 444.8,107.5 445.8,115.8 446.8,121 447.8,126.7 448.8,131.5 449.8,135.4 450.8,139.4 451.8,141.9 452.8,144.9 453.8,146 454.8,147.2 455.8,147.7 456.8,147.7 457.8,148.7 458.8,148.5 459.8,149.5 460.8,148.9 461.8,149.5 462.8,148.8 463.8,148.4 464.8,147.7 465.8,147.2 466.8,147 467.8,146.6 468.8,145.4 469.8,145.7 470.8,146.5 471.8,145 472.8,145 473.8,144.9 474.8,144.8 475.8,146.5 476.8,146.4 477.8,147 478.8,148.3 479.8,149.2 480.8,148 481.8,149.4 482.8,149.6 483.8,149.8 484.8,150.1 485.8,150.1 486.8,151.1 487.8,150.7 488.8,150.7 489.8,151.2 490.8,151.1 491.8,150.9 492.8,150.9 493.8,151.6 494.8,151 495.8,150.7 496.8,150.3 497.8,150.6 498.8,150.3 499.8,150.8 500.8,150.9 501.8,149.8 502.8,150.8 503.8,151.1" fill="none" stroke="#cde07a" stroke-width="1.15" stroke-linejoin="round" />
<path d="M323.8,134.7L324.8,134 325.8,134.9 326.8,133.7 327.8,133 328.8,132.6 329.8,132.4 330.8,131.9 331.8,130.8 332.8,128.7 333.8,125.9 334.8,123.6 335.8,120.4 336.8,117.2 337.8,112.1 338.8,108.3 339.8,103.4 340.8,97.4 341.8,91.8 342.8,85.3 343.8,79.3 344.8,74.5 345.8,70.8 346.8,67.1 347.8,63.9 348.8,63.5 349.8,62.8 350.8,65.2 351.8,67.4 352.8,70.7 353.8,76 354.8,80.5 355.8,86.2 356.8,91.8 357.8,98.4 358.8,103.8 359.8,109 360.8,113.5 361.8,118.5 362.8,121.1 363.8,124 364.8,127.4 365.8,129.4 366.8,130.4 367.8,130.5 368.8,132 369.8,133.2 370.8,133.2 371.8,134.2 372.8,132.8 373.8,133.7 374.8,132.9 375.8,133.6 376.8,132.6 377.8,132.7 378.8,131.4 379.8,130.6 380.8,130.4 381.8,130.3 382.8,129.8 383.8,130.7 384.8,130.7 385.8,130.2 386.8,129.7 387.8,130.4 388.8,130.5 389.8,131.9 390.8,131.8 391.8,132.4 392.8,132.4 393.8,132 394.8,133 395.8,133.1 396.8,134.2 397.8,134.2 398.8,134 399.8,134.3 400.8,135.4 401.8,134.2 402.8,134.2 403.8,134.6 404.8,134.4 405.8,134.5 406.8,134.9 407.8,135.5 408.8,133.6 409.8,134.4 410.8,134.3 411.8,134 412.8,133.6 413.8,133.1 414.8,133.1 415.8,131.5 416.8,130.5 417.8,129.1 418.8,127.1 419.8,124.5 420.8,121.9 421.8,117.5 422.8,113 423.8,107.6 424.8,101 425.8,94.3 426.8,86.9 427.8,79.8 428.8,71.5 429.8,63.7 430.8,57.2 431.8,50.9 432.8,44.5 433.8,42.3 434.8,39.3 435.8,38.8 436.8,40.7 437.8,43.3 438.8,47.5 439.8,54.8 440.8,60 441.8,68 442.8,76.2 443.8,83.1 444.8,91.1 445.8,98.4 446.8,105.8 447.8,109.9 448.8,115.3 449.8,119.9 450.8,123.1 451.8,125.3 452.8,128.3 453.8,129.9 454.8,131.3 455.8,132.6 456.8,133.1 457.8,133.2 458.8,133.4 459.8,132.7 460.8,133 461.8,132.9 462.8,132.3 463.8,132 464.8,131.1 465.8,131.7 466.8,131.4 467.8,129.6 468.8,129.5 469.8,128.8 470.8,129.2 471.8,128.7 472.8,128.5 473.8,128.6 474.8,129.1 475.8,128.9 476.8,130.3 477.8,130.2 478.8,131.5 479.8,131.9 480.8,132.9 481.8,132.9 482.8,133.9 483.8,133.4 484.8,134.5 485.8,134.3 486.8,134.7 487.8,134.8 488.8,135.4 489.8,134 490.8,135.2 491.8,134.3 492.8,135.7 493.8,134.1 494.8,134.6 495.8,134.3 496.8,136 497.8,134.5 498.8,135.2 499.8,134.9 500.8,134.3 501.8,135 502.8,135.5 503.8,135.1" fill="none" stroke="#9cc45c" stroke-width="1.15" stroke-linejoin="round" />
<path d="M323.8,119.6L324.8,118.8 325.8,118.8 326.8,118.4 327.8,118.4 328.8,118.7 329.8,117.2 330.8,116.3 331.8,114.7 332.8,113.1 333.8,112.2 334.8,108.5 335.8,105.7 336.8,102.6 337.8,98.4 338.8,94.9 339.8,87.7 340.8,83.5 341.8,77.9 342.8,71.2 343.8,65.7 344.8,60.9 345.8,56.9 346.8,51.8 347.8,48.7 348.8,48.5 349.8,48.6 350.8,48.8 351.8,50.4 352.8,55.8 353.8,59.4 354.8,65.2 355.8,70.3 356.8,75.9 357.8,81.7 358.8,88.2 359.8,93.4 360.8,96.4 361.8,101.2 362.8,106.2 363.8,108.2 364.8,110.2 365.8,112.9 366.8,114.4 367.8,115.7 368.8,116.3 369.8,117 370.8,117.4 371.8,117.9 372.8,117.4 373.8,117.6 374.8,117.4 375.8,117.8 376.8,116.9 377.8,116.2 378.8,116.1 379.8,115.5 380.8,115.4 381.8,114.7 382.8,115 383.8,114.5 384.8,113.7 385.8,113.6 386.8,114.4 387.8,114.5 388.8,114.6 389.8,114.4 390.8,114.7 391.8,116.4 392.8,117.1 393.8,117.6 394.8,117 395.8,118.5 396.8,118.1 397.8,118.8 398.8,119 399.8,118.6 400.8,118.8 401.8,118.1 402.8,118.7 403.8,118.3 404.8,119.4 405.8,119.2 406.8,119.6 407.8,119.3 408.8,118.7 409.8,119.1 410.8,118.6 411.8,118.9 412.8,118.4 413.8,117.4 414.8,117.3 415.8,116.5 416.8,115.2 417.8,114.4 418.8,112.9 419.8,109.5 420.8,106.5 421.8,101.9 422.8,98.6 423.8,93.3 424.8,86.5 425.8,81.2 426.8,74.2 427.8,66 428.8,58.4 429.8,50.5 430.8,44.1 431.8,36.4 432.8,31.6 433.8,28.6 434.8,25.1 435.8,24.5 436.8,25.2 437.8,27.4 438.8,32.2 439.8,38 440.8,43.9 441.8,51.9 442.8,60 443.8,67.6 444.8,73.8 445.8,81.2 446.8,87.4 447.8,94.6 448.8,99.4 449.8,103.8 450.8,106.6 451.8,109.4 452.8,112.3 453.8,114.1 454.8,114.9 455.8,116.4 456.8,117.3 457.8,117.5 458.8,117 459.8,116.5 460.8,117.2 461.8,117.1 462.8,116.5 463.8,115.9 464.8,115.1 465.8,115.2 466.8,114.1 467.8,113.6 468.8,112.4 469.8,112.1 470.8,112.2 471.8,111.5 472.8,111.4 473.8,112 474.8,113.2 475.8,113.2 476.8,114.4 477.8,114.3 478.8,114.9 479.8,115.1 480.8,116.2 481.8,117.8 482.8,117.8 483.8,118.5 484.8,118.9 485.8,118.8 486.8,118.9 487.8,119.3 488.8,119.7 489.8,119.7 490.8,119.8 491.8,119.7 492.8,119.2 493.8,119.5 494.8,119.2 495.8,120.2 496.8,118.6 497.8,119.6 498.8,120.9 499.8,119.5 500.8,119.1 501.8,119.7 502.8,120.3 503.8,119.6" fill="none" stroke="#62a646" stroke-width="1.15" stroke-linejoin="round" />
<path d="M323.8,104.2L324.8,103.8 325.8,103.4 326.8,104.9 327.8,103.1 328.8,102.3 329.8,101.7 330.8,101.3 331.8,100.2 332.8,98.9 333.8,96.8 334.8,93.7 335.8,91.9 336.8,88.1 337.8,84.2 338.8,79.1 339.8,74.6 340.8,69.1 341.8,63.8 342.8,57.3 343.8,52.4 344.8,47.1 345.8,41.7 346.8,38 347.8,34.9 348.8,34 349.8,31.9 350.8,33.9 351.8,35.4 352.8,39.4 353.8,44.3 354.8,48.5 355.8,54.4 356.8,59.7 357.8,66.8 358.8,71.9 359.8,77.2 360.8,80.8 361.8,85.2 362.8,90 363.8,92.5 364.8,95.1 365.8,97.5 366.8,98.3 367.8,100.6 368.8,101.1 369.8,102 370.8,101.8 371.8,102.6 372.8,102 373.8,102.7 374.8,102.5 375.8,102 376.8,101.3 377.8,100.9 378.8,98.6 379.8,99.8 380.8,98.7 381.8,98.4 382.8,97.9 383.8,97.1 384.8,97.4 385.8,98 386.8,98.6 387.8,97.9 388.8,98.2 389.8,99.9 390.8,99.4 391.8,101.4 392.8,101 393.8,101.1 394.8,102.6 395.8,103.4 396.8,102.2 397.8,104 398.8,103.3 399.8,104.4 400.8,103.5 401.8,103 402.8,104.1 403.8,104.4 404.8,105 405.8,104.8 406.8,104.2 407.8,103.7 408.8,103.5 409.8,103.5 410.8,103.1 411.8,103.2 412.8,101.8 413.8,102.8 414.8,102.1 415.8,102.7 416.8,100.7 417.8,98.8 418.8,97.5 419.8,94.4 420.8,91.8 421.8,87.7 422.8,85.1 423.8,79.7 424.8,73.1 425.8,67.3 426.8,60.8 427.8,53.1 428.8,45.4 429.8,37.1 430.8,29.9 431.8,23.6 432.8,18.3 433.8,13.1 434.8,10.1 435.8,10 436.8,9.6 437.8,13 438.8,16.5 439.8,22.2 440.8,29 441.8,35.6 442.8,43.2 443.8,50.1 444.8,57.7 445.8,65.6 446.8,72.6 447.8,78.5 448.8,84.1 449.8,87.6 450.8,91.2 451.8,94.7 452.8,96.6 453.8,98.4 454.8,99.3 455.8,101.3 456.8,101 457.8,102.2 458.8,101.3 459.8,102.6 460.8,101.3 461.8,101.9 462.8,100.1 463.8,100.1 464.8,100.2 465.8,98.4 466.8,98.1 467.8,97.1 468.8,95.5 469.8,96.3 470.8,96 471.8,95 472.8,95.9 473.8,95.4 474.8,95.8 475.8,96.8 476.8,97.2 477.8,99.5 478.8,98.4 479.8,100.3 480.8,101.2 481.8,100.5 482.8,101.2 483.8,102.9 484.8,102.8 485.8,103.6 486.8,104.2 487.8,103.7 488.8,103.5 489.8,102.8 490.8,104.3 491.8,103.8 492.8,104.5 493.8,104.4 494.8,103.7 495.8,105.2 496.8,104.9 497.8,104.8 498.8,103.8 499.8,104.2 500.8,104.1 501.8,104.2 502.8,103.8 503.8,104.6" fill="none" stroke="#338236" stroke-width="1.15" stroke-linejoin="round" />
<line x1="348.5" y1="28" x2="348.5" y2="166" stroke="#444" stroke-width="0.8" stroke-dasharray="1 1"/>
<line x1="349.5" y1="28" x2="349.5" y2="62" stroke="#444" stroke-width="0.8" stroke-dasharray="1 1"/>
<line x1="434.5" y1="5" x2="434.5" y2="132" stroke="#444" stroke-width="0.8" stroke-dasharray="1 1"/>
<line x1="436.5" y1="5" x2="436.5" y2="38" stroke="#444" stroke-width="0.8" stroke-dasharray="1 1"/>
<line x1="348.3" y1="118" x2="349.3" y2="68.1" stroke="#111" stroke-width="0.8" />
<path d="M349.4,61.6L351.9,68.1 346.7,68Z" fill="#111"/>
<line x1="434.8" y1="96.2" x2="436.1" y2="44.4" stroke="#111" stroke-width="0.8" />
<path d="M436.3,37.9L438.7,44.5 433.5,44.3Z" fill="#111"/>
<text x="492.1" y="225.5" font-size="11.2" fill="#1e1e1e" text-anchor="middle">0 h</text>
<text x="492.1" y="210.9" font-size="11.2" fill="#1e1e1e" text-anchor="middle">2 h</text>
<text x="492.1" y="194.4" font-size="11.2" fill="#1e1e1e" text-anchor="middle">4 h</text>
<text x="492.1" y="178.7" font-size="11.2" fill="#1e1e1e" text-anchor="middle">7 h</text>
<text x="492.1" y="163.9" font-size="11.2" fill="#1e1e1e" text-anchor="middle">10 h</text>
<text x="492.1" y="148.7" font-size="11.2" fill="#1e1e1e" text-anchor="middle">12 h</text>
<text x="492.1" y="133.6" font-size="11.2" fill="#1e1e1e" text-anchor="middle">15 h</text>
<text x="492.1" y="117.8" font-size="11.2" fill="#1e1e1e" text-anchor="middle">19 h</text>
<text x="492.1" y="101.9" font-size="11.2" fill="#1e1e1e" text-anchor="middle">23 h</text>
<text x="331.3" y="24.4" font-size="11" fill="#1e1e1e">Pb 4 <tspan font-style="italic">f</tspan></text>
<text x="353" y="37.7" font-size="11" fill="#1e1e1e">Pb<tspan font-size="7.5" dy="-4">2+</tspan></text>
<text x="445.5" y="28.6" font-size="11" fill="#1e1e1e">Pb<tspan font-size="7.5" dy="-4">2+</tspan></text>
<text x="380.6" y="96.5" font-size="11" fill="#1e1e1e">Pb<tspan font-size="7.5" dy="-4">0</tspan></text>
<text x="463.6" y="91.2" font-size="11" fill="#1e1e1e">Pb<tspan font-size="7.5" dy="-4">0</tspan></text>
<rect x="537.5" y="3.5" width="111" height="229" fill="none" stroke="#8a8a8a" stroke-width="1.0"/>
<line x1="646.5" y1="3.9" x2="646.5" y2="6.1" stroke="#8a8a8a" stroke-width="0.8" />
<line x1="635.3" y1="3.9" x2="635.3" y2="6.1" stroke="#8a8a8a" stroke-width="0.8" />
<line x1="624.1" y1="3.9" x2="624.1" y2="6.1" stroke="#8a8a8a" stroke-width="0.8" />
<line x1="612.9" y1="3.9" x2="612.9" y2="6.1" stroke="#8a8a8a" stroke-width="0.8" />
<line x1="601.6" y1="3.9" x2="601.6" y2="6.1" stroke="#8a8a8a" stroke-width="0.8" />
<line x1="590.4" y1="3.9" x2="590.4" y2="6.1" stroke="#8a8a8a" stroke-width="0.8" />
<line x1="579.2" y1="3.9" x2="579.2" y2="6.1" stroke="#8a8a8a" stroke-width="0.8" />
<line x1="567.9" y1="3.9" x2="567.9" y2="6.1" stroke="#8a8a8a" stroke-width="0.8" />
<line x1="556.7" y1="3.9" x2="556.7" y2="6.1" stroke="#8a8a8a" stroke-width="0.8" />
<line x1="545.5" y1="3.9" x2="545.5" y2="6.1" stroke="#8a8a8a" stroke-width="0.8" />
<line x1="646.5" y1="232.7" x2="646.5" y2="230.5" stroke="#8a8a8a" stroke-width="0.8" />
<line x1="635.3" y1="232.7" x2="635.3" y2="230.5" stroke="#8a8a8a" stroke-width="0.8" />
<line x1="624.1" y1="232.7" x2="624.1" y2="230.5" stroke="#8a8a8a" stroke-width="0.8" />
<line x1="612.9" y1="232.7" x2="612.9" y2="230.5" stroke="#8a8a8a" stroke-width="0.8" />
<line x1="601.6" y1="232.7" x2="601.6" y2="230.5" stroke="#8a8a8a" stroke-width="0.8" />
<line x1="590.4" y1="232.7" x2="590.4" y2="230.5" stroke="#8a8a8a" stroke-width="0.8" />
<line x1="579.2" y1="232.7" x2="579.2" y2="230.5" stroke="#8a8a8a" stroke-width="0.8" />
<line x1="567.9" y1="232.7" x2="567.9" y2="230.5" stroke="#8a8a8a" stroke-width="0.8" />
<line x1="556.7" y1="232.7" x2="556.7" y2="230.5" stroke="#8a8a8a" stroke-width="0.8" />
<line x1="545.5" y1="232.7" x2="545.5" y2="230.5" stroke="#8a8a8a" stroke-width="0.8" />
<line x1="537.3" y1="44" x2="539.3" y2="44" stroke="#8a8a8a" stroke-width="0.8" />
<line x1="537.3" y1="109" x2="539.3" y2="109" stroke="#8a8a8a" stroke-width="0.8" />
<line x1="537.3" y1="174" x2="539.3" y2="174" stroke="#8a8a8a" stroke-width="0.8" />
<text x="545.5" y="243.9" font-size="10.8" fill="#1e1e1e" text-anchor="middle">404</text>
<text x="590.4" y="243.9" font-size="10.8" fill="#1e1e1e" text-anchor="middle">402</text>
<text x="635.3" y="243.9" font-size="10.8" fill="#1e1e1e" text-anchor="middle">400</text>
<path d="M537.8,223.4L538.8,223.5 539.8,222.4 540.8,224.7 541.8,223.2 542.8,219.4 543.8,222.1 544.8,222.8 545.8,224.1 546.8,222.3 547.8,222.3 548.8,221.7 549.8,223.3 550.8,221.7 551.8,221.3 552.8,221 553.8,222.4 554.8,220.7 555.8,218.9 556.8,221.5 557.8,219.3 558.8,220.2 559.8,219.6 560.8,220 561.8,219.1 562.8,216.1 563.8,215.7 564.8,213.2 565.8,215.9 566.8,213.1 567.8,213.1 568.8,209.5 569.8,205.9 570.8,209.1 571.8,205.7 572.8,204.3 573.8,202.8 574.8,202.2 575.8,200.7 576.8,196.8 577.8,199.2 578.8,196.2 579.8,195.6 580.8,198 581.8,196.7 582.8,195.1 583.8,193.3 584.8,196.4 585.8,197.6 586.8,197.7 587.8,197.2 588.8,199 589.8,199.7 590.8,203 591.8,205.2 592.8,206.9 593.8,206.1 594.8,208.8 595.8,210.6 596.8,210.6 597.8,212.3 598.8,216.5 599.8,215.1 600.8,217 601.8,216.3 602.8,217.7 603.8,216.2 604.8,219.1 605.8,221.3 606.8,223 607.8,222.2 608.8,222 609.8,221.5 610.8,220.9 611.8,221.7 612.8,222.9 613.8,221.3 614.8,223.6 615.8,221.3 616.8,220.3 617.8,221.4 618.8,220.6 619.8,221.1 620.8,224.4 621.8,222.7 622.8,223.3 623.8,224.5 624.8,224.7 625.8,222.4 626.8,224.8 627.8,223.6 628.8,223.1 629.8,223.7 630.8,221.3 631.8,222.1 632.8,223 633.8,224 634.8,222.7 635.8,223 636.8,224.5 637.8,225.1 638.8,224.2 639.8,224.9 640.8,222.7 641.8,222.9 642.8,223.7 643.8,222.9 644.8,222.6 645.8,225.4 646.8,223 647.8,222" fill="none" stroke="#7a5a30" stroke-width="1.0" stroke-linejoin="round" />
<path d="M537.8,200.8L538.8,202.6 539.8,200.3 540.8,201.7 541.8,199.5 542.8,199.4 543.8,199.1 544.8,199.8 545.8,202.3 546.8,198.4 547.8,201.9 548.8,198.4 549.8,199.3 550.8,200.5 551.8,200.1 552.8,199.5 553.8,196.8 554.8,199.1 555.8,197 556.8,201.3 557.8,197.3 558.8,197.3 559.8,195 560.8,195.2 561.8,193.4 562.8,195.6 563.8,193.1 564.8,193.1 565.8,190.4 566.8,189.5 567.8,190.6 568.8,186.3 569.8,183.8 570.8,185.3 571.8,181.8 572.8,181.3 573.8,181.6 574.8,177.9 575.8,178.8 576.8,175.5 577.8,177.2 578.8,176.1 579.8,173 580.8,172.8 581.8,171.6 582.8,172.9 583.8,174.2 584.8,171.2 585.8,174.9 586.8,172.8 587.8,174.4 588.8,174.3 589.8,180.6 590.8,179.3 591.8,181 592.8,181.2 593.8,184.9 594.8,182.3 595.8,186.5 596.8,190.7 597.8,188.6 598.8,190.4 599.8,192.4 600.8,191.5 601.8,193.6 602.8,195.7 603.8,195.5 604.8,196.4 605.8,196.1 606.8,197.5 607.8,197.7 608.8,199.9 609.8,199.3 610.8,198.4 611.8,195.8 612.8,200.1 613.8,200.3 614.8,198.3 615.8,197 616.8,198.2 617.8,201 618.8,198.5 619.8,199.3 620.8,200.3 621.8,201.6 622.8,200 623.8,200 624.8,199.4 625.8,202.3 626.8,201.6 627.8,200.1 628.8,198.4 629.8,199.2 630.8,201 631.8,199.3 632.8,201.4 633.8,200.8 634.8,200.7 635.8,201.2 636.8,201 637.8,199.2 638.8,199.9 639.8,203.4 640.8,198.8 641.8,199.7 642.8,201.8 643.8,200.2 644.8,199.3 645.8,198.7 646.8,201.1 647.8,201.7" fill="none" stroke="#c07636" stroke-width="1.0" stroke-linejoin="round" />
<path d="M537.8,181L538.8,179.2 539.8,180.5 540.8,177.8 541.8,179.3 542.8,178.2 543.8,179.3 544.8,180 545.8,180.3 546.8,177.6 547.8,180.5 548.8,178.1 549.8,177.3 550.8,178.3 551.8,176.5 552.8,178.2 553.8,178.4 554.8,177.5 555.8,178.1 556.8,176.7 557.8,176.7 558.8,174.4 559.8,175.8 560.8,174 561.8,173.8 562.8,173.5 563.8,173 564.8,169.7 565.8,168.7 566.8,169.2 567.8,169 568.8,167.6 569.8,166.9 570.8,166 571.8,163.5 572.8,161.4 573.8,158.6 574.8,157.3 575.8,156.6 576.8,156.2 577.8,155 578.8,153.7 579.8,152.7 580.8,153 581.8,152.1 582.8,152 583.8,152.1 584.8,151.2 585.8,151.1 586.8,153.8 587.8,154.6 588.8,154.9 589.8,155.8 590.8,160.6 591.8,158.1 592.8,160.2 593.8,162.3 594.8,161.9 595.8,165 596.8,168.6 597.8,168.8 598.8,169.7 599.8,170.8 600.8,171.3 601.8,173.4 602.8,172.9 603.8,173.4 604.8,174.8 605.8,176.5 606.8,176.4 607.8,177.3 608.8,174.2 609.8,178.8 610.8,180.6 611.8,179.6 612.8,177.7 613.8,177.2 614.8,178.8 615.8,177.3 616.8,179.6 617.8,178.1 618.8,180.1 619.8,180.7 620.8,176.3 621.8,179.4 622.8,178.1 623.8,177.3 624.8,178.3 625.8,178.9 626.8,180.5 627.8,177.2 628.8,180.6 629.8,181.8 630.8,180 631.8,180 632.8,179.2 633.8,177.8 634.8,180 635.8,179.8 636.8,180.3 637.8,182.7 638.8,180.3 639.8,179.9 640.8,181.4 641.8,177.6 642.8,177.9 643.8,178.9 644.8,178.5 645.8,180.3 646.8,179 647.8,181.7" fill="none" stroke="#cf8240" stroke-width="1.0" stroke-linejoin="round" />
<path d="M537.8,160.2L538.8,159.2 539.8,157.7 540.8,158.9 541.8,159.2 542.8,156.7 543.8,158.5 544.8,158.9 545.8,158.2 546.8,160 547.8,159.4 548.8,156.7 549.8,157.8 550.8,156.5 551.8,158.2 552.8,156.1 553.8,158.3 554.8,157.3 555.8,157.8 556.8,156.1 557.8,154 558.8,157.7 559.8,154.7 560.8,156.1 561.8,154.3 562.8,153.8 563.8,154.5 564.8,151.6 565.8,152 566.8,147.1 567.8,149 568.8,146.3 569.8,145.1 570.8,143.9 571.8,142.9 572.8,143.1 573.8,137.1 574.8,138.1 575.8,135.8 576.8,136.9 577.8,133.6 578.8,133.7 579.8,131.7 580.8,132.3 581.8,132.3 582.8,130.1 583.8,130.7 584.8,129 585.8,131.6 586.8,133 587.8,132 588.8,135.2 589.8,132.2 590.8,133.8 591.8,135.7 592.8,138.3 593.8,140.4 594.8,141.8 595.8,143.2 596.8,145.7 597.8,145.5 598.8,145.7 599.8,147 600.8,152.5 601.8,147.7 602.8,151.5 603.8,154.5 604.8,154 605.8,153 606.8,154.7 607.8,156.4 608.8,157.3 609.8,154.9 610.8,157.4 611.8,157.1 612.8,158.4 613.8,159 614.8,156.9 615.8,155.6 616.8,158.1 617.8,160 618.8,158.7 619.8,158.2 620.8,161.1 621.8,156.6 622.8,159.2 623.8,157.3 624.8,158.2 625.8,158.2 626.8,160.1 627.8,157 628.8,157.5 629.8,156.1 630.8,158.9 631.8,157.7 632.8,158.8 633.8,156.9 634.8,157.8 635.8,159.6 636.8,158.1 637.8,159.1 638.8,159 639.8,157.9 640.8,156.3 641.8,159.6 642.8,158.6 643.8,159.6 644.8,155.8 645.8,156.2 646.8,155.6 647.8,157.3" fill="none" stroke="#f49a3e" stroke-width="1.0" stroke-linejoin="round" />
<path d="M537.8,137.3L538.8,136.6 539.8,135.8 540.8,136 541.8,136.8 542.8,135.4 543.8,136.3 544.8,135.9 545.8,132.8 546.8,135.1 547.8,137.3 548.8,135 549.8,135.2 550.8,134.5 551.8,134.6 552.8,136.5 553.8,134.5 554.8,133.3 555.8,130.3 556.8,133.3 557.8,131.2 558.8,130.9 559.8,133.9 560.8,133.2 561.8,129.2 562.8,132.1 563.8,130.7 564.8,128.2 565.8,129.2 566.8,125.1 567.8,124.5 568.8,122.9 569.8,122.1 570.8,123.3 571.8,119 572.8,117.8 573.8,116.5 574.8,116.6 575.8,114.5 576.8,114.7 577.8,111.4 578.8,109.5 579.8,109.6 580.8,109.5 581.8,107.6 582.8,108.8 583.8,110.7 584.8,107.6 585.8,108.8 586.8,111 587.8,109.2 588.8,109.9 589.8,110.7 590.8,113.8 591.8,115.3 592.8,115.9 593.8,117.6 594.8,120.6 595.8,121.5 596.8,120 597.8,123.2 598.8,124.7 599.8,126.7 600.8,126.7 601.8,127.2 602.8,128.5 603.8,127.7 604.8,130.7 605.8,130.7 606.8,132.8 607.8,131.4 608.8,132.6 609.8,132.3 610.8,132.6 611.8,135.2 612.8,133.9 613.8,135.4 614.8,133.5 615.8,135.2 616.8,133 617.8,134.7 618.8,134.8 619.8,136.3 620.8,135.8 621.8,135.4 622.8,136.8 623.8,136 624.8,136.4 625.8,136.8 626.8,135.7 627.8,135.4 628.8,136.3 629.8,135.3 630.8,136.4 631.8,137.3 632.8,137 633.8,135.4 634.8,134.3 635.8,135.9 636.8,135.8 637.8,137.4 638.8,135.5 639.8,135.7 640.8,136.9 641.8,135.4 642.8,135.8 643.8,138.2 644.8,137.9 645.8,136.8 646.8,136.4 647.8,134.8" fill="none" stroke="#fbcd68" stroke-width="1.0" stroke-linejoin="round" />
<path d="M537.8,114.6L538.8,113.9 539.8,114.1 540.8,113.1 541.8,113.8 542.8,113.5 543.8,114.1 544.8,115.5 545.8,114.1 546.8,111.5 547.8,112.3 548.8,111.4 549.8,112.4 550.8,114 551.8,113.7 552.8,112.3 553.8,113.2 554.8,111.7 555.8,110.6 556.8,110.4 557.8,110.7 558.8,113.3 559.8,109.3 560.8,112.1 561.8,111.7 562.8,109 563.8,108.5 564.8,106.9 565.8,106.7 566.8,106.6 567.8,104.6 568.8,104.7 569.8,103.7 570.8,101.3 571.8,99.9 572.8,98 573.8,97.1 574.8,93.7 575.8,94.3 576.8,92.7 577.8,90 578.8,92.8 579.8,87.7 580.8,87 581.8,87.8 582.8,84.5 583.8,85.7 584.8,84.8 585.8,85.7 586.8,87.3 587.8,88.6 588.8,90.4 589.8,91.1 590.8,92.7 591.8,93.2 592.8,93.2 593.8,96.7 594.8,96 595.8,97.3 596.8,101.5 597.8,101.9 598.8,102.5 599.8,104.5 600.8,105.8 601.8,104 602.8,106.7 603.8,106.2 604.8,108.7 605.8,108.4 606.8,111.7 607.8,111.2 608.8,110 609.8,111.5 610.8,110.3 611.8,112.2 612.8,113.2 613.8,113 614.8,110.4 615.8,112.6 616.8,113.8 617.8,113.7 618.8,114.9 619.8,111.8 620.8,114.2 621.8,112.8 622.8,113.9 623.8,114.2 624.8,114.6 625.8,113 626.8,114 627.8,112.3 628.8,112 629.8,114.6 630.8,113.8 631.8,111.8 632.8,112.8 633.8,113.9 634.8,115.9 635.8,115.3 636.8,115 637.8,111.6 638.8,113.8 639.8,114.6 640.8,114.5 641.8,114.5 642.8,113.7 643.8,116.3 644.8,115.9 645.8,113.9 646.8,112.7 647.8,116.7" fill="none" stroke="#d4e488" stroke-width="1.0" stroke-linejoin="round" />
<path d="M537.8,92.1L538.8,94.4 539.8,95.3 540.8,91.6 541.8,93.2 542.8,92.3 543.8,93.4 544.8,93.1 545.8,95.2 546.8,93.4 547.8,92.5 548.8,94 549.8,92.1 550.8,91.9 551.8,95.1 552.8,91 553.8,91.3 554.8,91.8 555.8,90.2 556.8,88.5 557.8,92.3 558.8,89.6 559.8,89.5 560.8,89.2 561.8,87.9 562.8,87.1 563.8,88 564.8,90.1 565.8,87.1 566.8,86.1 567.8,82.1 568.8,82.9 569.8,80.1 570.8,81.4 571.8,78.7 572.8,77.6 573.8,76.1 574.8,74 575.8,71.3 576.8,72.7 577.8,68.8 578.8,67.9 579.8,68 580.8,66.5 581.8,67 582.8,67.4 583.8,66.1 584.8,66 585.8,65.9 586.8,67.4 587.8,64.4 588.8,68.1 589.8,67.4 590.8,68.1 591.8,71 592.8,71.8 593.8,74.4 594.8,76.5 595.8,73.5 596.8,77.9 597.8,81.9 598.8,81.8 599.8,83.9 600.8,83.3 601.8,82.5 602.8,83.9 603.8,87.3 604.8,88.5 605.8,87 606.8,88.3 607.8,89.6 608.8,87.6 609.8,89.9 610.8,92.8 611.8,93.9 612.8,91.2 613.8,94 614.8,91.1 615.8,90.9 616.8,89.2 617.8,93.5 618.8,91.9 619.8,95.5 620.8,92.9 621.8,92.8 622.8,90.3 623.8,94.6 624.8,92.2 625.8,92.5 626.8,89.9 627.8,94 628.8,94.1 629.8,92 630.8,93 631.8,93.4 632.8,94.1 633.8,93 634.8,95.1 635.8,92.6 636.8,92.1 637.8,92.3 638.8,89.6 639.8,91.9 640.8,94.3 641.8,93.3 642.8,91.9 643.8,93.4 644.8,90.4 645.8,92.6 646.8,93.7 647.8,93.9" fill="none" stroke="#cbdf7a" stroke-width="1.0" stroke-linejoin="round" />
<path d="M537.8,70.9L538.8,73 539.8,74.3 540.8,71.3 541.8,72.8 542.8,69.7 543.8,69.2 544.8,72.5 545.8,71.7 546.8,71.9 547.8,70.8 548.8,71.1 549.8,72.5 550.8,73.6 551.8,71 552.8,69 553.8,72.7 554.8,71.6 555.8,71.5 556.8,70.6 557.8,73.1 558.8,69.9 559.8,70 560.8,66.5 561.8,67.6 562.8,66.9 563.8,67.1 564.8,66.8 565.8,64.5 566.8,66.8 567.8,62.1 568.8,61.8 569.8,61.5 570.8,58.3 571.8,59.3 572.8,58 573.8,55.4 574.8,56.8 575.8,53 576.8,51.8 577.8,48.9 578.8,46.7 579.8,46.9 580.8,46.4 581.8,45.4 582.8,46.3 583.8,41.8 584.8,43.3 585.8,42.4 586.8,46.8 587.8,44.9 588.8,45.6 589.8,45.8 590.8,49.4 591.8,48.9 592.8,51 593.8,49.5 594.8,55.1 595.8,55.5 596.8,57.1 597.8,59.4 598.8,58.9 599.8,60.3 600.8,62.7 601.8,63.5 602.8,63.7 603.8,65 604.8,65.2 605.8,67.6 606.8,68.7 607.8,68.1 608.8,71.1 609.8,67.1 610.8,69.3 611.8,72.2 612.8,69.7 613.8,68.4 614.8,72.6 615.8,71.6 616.8,69.5 617.8,72.2 618.8,70 619.8,69.7 620.8,71.3 621.8,70.9 622.8,70.2 623.8,71.2 624.8,70.4 625.8,71.8 626.8,71.7 627.8,72.8 628.8,71.2 629.8,70.1 630.8,70.1 631.8,71.5 632.8,73.9 633.8,73 634.8,71.1 635.8,73.2 636.8,70.4 637.8,73.3 638.8,71.5 639.8,73 640.8,72.8 641.8,71.6 642.8,72.4 643.8,70.6 644.8,71.9 645.8,73.4 646.8,77.4 647.8,72.9" fill="none" stroke="#86b652" stroke-width="1.0" stroke-linejoin="round" />
<path d="M537.8,49.7L538.8,48.2 539.8,50.9 540.8,47.4 541.8,48.5 542.8,50 543.8,47.9 544.8,51.4 545.8,50.8 546.8,48.6 547.8,48.6 548.8,47.5 549.8,47.4 550.8,49.7 551.8,49.8 552.8,49.4 553.8,49.1 554.8,47.9 555.8,48.9 556.8,46.3 557.8,47.9 558.8,49.5 559.8,49 560.8,46.2 561.8,45.9 562.8,47.5 563.8,47.4 564.8,42.4 565.8,42.9 566.8,42.9 567.8,43.2 568.8,39.4 569.8,40.1 570.8,37.6 571.8,39.8 572.8,35.9 573.8,33.7 574.8,32 575.8,32.4 576.8,30.5 577.8,26.8 578.8,27.2 579.8,24 580.8,23.7 581.8,22.1 582.8,21.3 583.8,21.7 584.8,21 585.8,22.9 586.8,23.5 587.8,22.6 588.8,22.1 589.8,25.4 590.8,22.7 591.8,24 592.8,28.7 593.8,30 594.8,31.8 595.8,31.7 596.8,31.8 597.8,34.2 598.8,37 599.8,36.6 600.8,38 601.8,38.3 602.8,39.7 603.8,43.4 604.8,43.8 605.8,42.5 606.8,43.4 607.8,44.8 608.8,46.8 609.8,45.1 610.8,46.9 611.8,44.7 612.8,46.2 613.8,48.7 614.8,49.5 615.8,47 616.8,47.7 617.8,49.9 618.8,48.5 619.8,48.4 620.8,49.8 621.8,49.5 622.8,50.7 623.8,50.4 624.8,48.6 625.8,49.3 626.8,49.4 627.8,47.7 628.8,48.2 629.8,50.8 630.8,47.5 631.8,50.9 632.8,50 633.8,49.4 634.8,50.3 635.8,50.2 636.8,51.2 637.8,49.1 638.8,49.4 639.8,49.3 640.8,52.1 641.8,50.9 642.8,48.5 643.8,49.3 644.8,48.8 645.8,49.7 646.8,50 647.8,52.7" fill="none" stroke="#529840" stroke-width="1.0" stroke-linejoin="round" />
<line x1="582.5" y1="10" x2="582.5" y2="203" stroke="#444" stroke-width="0.8" stroke-dasharray="1 1"/>
<line x1="585.5" y1="10" x2="585.5" y2="66" stroke="#444" stroke-width="0.8" stroke-dasharray="1 1"/>
<line x1="583" y1="152.8" x2="585.3" y2="71.4" stroke="#1a1a1a" stroke-width="0.65" />
<path d="M585.4,66L587.3,71.5 583.2,71.3Z" fill="#1a1a1a"/>
<text x="633" y="213" font-size="11.2" fill="#1e1e1e" text-anchor="middle">0 h</text>
<text x="634" y="194.4" font-size="11.2" fill="#1e1e1e" text-anchor="middle">2 h</text>
<text x="635.1" y="172.8" font-size="11.2" fill="#1e1e1e" text-anchor="middle">4 h</text>
<text x="634.5" y="150.4" font-size="11.2" fill="#1e1e1e" text-anchor="middle">7 h</text>
<text x="636" y="131.2" font-size="11.2" fill="#1e1e1e" text-anchor="middle">10 h</text>
<text x="636" y="109.5" font-size="11.2" fill="#1e1e1e" text-anchor="middle">12 h</text>
<text x="634.5" y="89.1" font-size="11.2" fill="#1e1e1e" text-anchor="middle">15 h</text>
<text x="633.6" y="67.5" font-size="11.2" fill="#1e1e1e" text-anchor="middle">19 h</text>
<text x="633" y="42.2" font-size="11.2" fill="#1e1e1e" text-anchor="middle">23 h</text>
<text x="540.5" y="22.3" font-size="11" fill="#1e1e1e">N 1s</text>
<text x="10" y="121.8" font-size="11.3" fill="#1e1e1e" text-anchor="middle" textLength="107.2" lengthAdjust="spacingAndGlyphs" transform="rotate(-90 10 117.8)">Intensity (arb. units)</text>
<text x="162.8" y="122" font-size="11.3" fill="#1e1e1e" text-anchor="middle" textLength="107.5" lengthAdjust="spacingAndGlyphs" transform="rotate(-90 162.8 118)">Intensity (arb. units)</text>
<text x="307.3" y="122.4" font-size="11.3" fill="#1e1e1e" text-anchor="middle" textLength="99.3" lengthAdjust="spacingAndGlyphs" transform="rotate(-90 307.3 118.4)">Intensity (arb. units)</text>
<text x="521" y="122.3" font-size="11.3" fill="#1e1e1e" text-anchor="middle" textLength="107.5" lengthAdjust="spacingAndGlyphs" transform="rotate(-90 521 118.3)">Intensity (arb. units)</text>
<text x="84.5" y="259.5" font-size="11" fill="#1e1e1e" text-anchor="middle" textLength="101.1" lengthAdjust="spacingAndGlyphs">Binding energy (eV)</text>
<text x="233.2" y="261.6" font-size="11" fill="#1e1e1e" text-anchor="middle" textLength="101.7" lengthAdjust="spacingAndGlyphs">Binding energy (eV)</text>
<text x="413.2" y="264.8" font-size="11" fill="#1e1e1e" text-anchor="middle" textLength="94.3" lengthAdjust="spacingAndGlyphs">Binding energy (eV)</text>
<text x="592" y="261.9" font-size="11" fill="#1e1e1e" text-anchor="middle" textLength="102.1" lengthAdjust="spacingAndGlyphs">Binding energy (eV)</text>
<text x="0" y="9.3" font-size="13.2" fill="#1e1e1e">(a)</text>
<text x="155.5" y="9.8" font-size="13.2" fill="#1e1e1e">(b)</text>
<text x="298" y="10" font-size="13.2" fill="#1e1e1e">(c)</text>
<text x="511.6" y="10.4" font-size="13.2" fill="#1e1e1e">(d)</text>
<text x="0" y="284.8" font-size="13.2" fill="#1e1e1e">(e)</text>
<text x="222" y="284" font-size="13.2" fill="#1e1e1e">(f)</text>
<text x="382.6" y="282.2" font-size="13.2" fill="#1e1e1e">(g)</text>
<text x="0" y="560.5" font-size="13.2" fill="#1e1e1e">(h)</text>
<text x="201.8" y="560.3" font-size="13.2" fill="#1e1e1e">(i)</text>
<text x="417.8" y="561.3" font-size="13.2" fill="#1e1e1e">(j)</text>
<rect x="22.5" y="286.5" width="193" height="232" fill="none" stroke="#8a8a8a" stroke-width="1.0"/>
<line x1="194.5" y1="286.2" x2="194.5" y2="288.4" stroke="#8a8a8a" stroke-width="0.8" />
<line x1="169.5" y1="286.2" x2="169.5" y2="288.4" stroke="#8a8a8a" stroke-width="0.8" />
<line x1="144.5" y1="286.2" x2="144.5" y2="288.4" stroke="#8a8a8a" stroke-width="0.8" />
<line x1="119.5" y1="286.2" x2="119.5" y2="288.4" stroke="#8a8a8a" stroke-width="0.8" />
<line x1="94.5" y1="286.2" x2="94.5" y2="288.4" stroke="#8a8a8a" stroke-width="0.8" />
<line x1="69.5" y1="286.2" x2="69.5" y2="288.4" stroke="#8a8a8a" stroke-width="0.8" />
<line x1="44.5" y1="286.2" x2="44.5" y2="288.4" stroke="#8a8a8a" stroke-width="0.8" />
<line x1="194.5" y1="518" x2="194.5" y2="515.8" stroke="#8a8a8a" stroke-width="0.8" />
<line x1="169.5" y1="518" x2="169.5" y2="515.8" stroke="#8a8a8a" stroke-width="0.8" />
<line x1="144.5" y1="518" x2="144.5" y2="515.8" stroke="#8a8a8a" stroke-width="0.8" />
<line x1="119.5" y1="518" x2="119.5" y2="515.8" stroke="#8a8a8a" stroke-width="0.8" />
<line x1="94.5" y1="518" x2="94.5" y2="515.8" stroke="#8a8a8a" stroke-width="0.8" />
<line x1="69.5" y1="518" x2="69.5" y2="515.8" stroke="#8a8a8a" stroke-width="0.8" />
<line x1="44.5" y1="518" x2="44.5" y2="515.8" stroke="#8a8a8a" stroke-width="0.8" />
<line x1="22.4" y1="312.2" x2="24.4" y2="312.2" stroke="#8a8a8a" stroke-width="0.8" />
<line x1="22.4" y1="379.5" x2="24.4" y2="379.5" stroke="#8a8a8a" stroke-width="0.8" />
<line x1="22.4" y1="445.1" x2="24.4" y2="445.1" stroke="#8a8a8a" stroke-width="0.8" />
<line x1="22.4" y1="510.3" x2="24.4" y2="510.3" stroke="#8a8a8a" stroke-width="0.8" />
<text x="69.5" y="530.4" font-size="10.8" fill="#1e1e1e" text-anchor="middle">6</text>
<text x="119.5" y="530.4" font-size="10.8" fill="#1e1e1e" text-anchor="middle">4</text>
<text x="169.5" y="530.4" font-size="10.8" fill="#1e1e1e" text-anchor="middle">2</text>
<g fill="none" stroke="#7a5a30" stroke-width="0.7"><circle cx="24.2" cy="507.2" r="2.5"/><circle cx="25.9" cy="508.4" r="2.5"/><circle cx="27.7" cy="508.2" r="2.5"/><circle cx="29.4" cy="507.7" r="2.5"/><circle cx="31.2" cy="507.9" r="2.5"/><circle cx="33" cy="507.8" r="2.5"/><circle cx="34.7" cy="508" r="2.5"/><circle cx="36.5" cy="508.4" r="2.5"/><circle cx="38.2" cy="507.3" r="2.5"/><circle cx="40" cy="508.6" r="2.5"/><circle cx="41.7" cy="507.8" r="2.5"/><circle cx="43.5" cy="508.7" r="2.5"/><circle cx="45.2" cy="508.2" r="2.5"/><circle cx="47" cy="508.5" r="2.5"/><circle cx="48.7" cy="508.2" r="2.5"/><circle cx="50.5" cy="508.5" r="2.5"/><circle cx="52.2" cy="507.6" r="2.5"/><circle cx="54" cy="506.4" r="2.5"/><circle cx="55.7" cy="506.1" r="2.5"/><circle cx="57.5" cy="505" r="2.5"/><circle cx="59.2" cy="504.6" r="2.5"/><circle cx="61" cy="501.6" r="2.5"/><circle cx="62.7" cy="501.2" r="2.5"/><circle cx="64.5" cy="500.4" r="2.5"/><circle cx="66.2" cy="497.9" r="2.5"/><circle cx="68" cy="497" r="2.5"/><circle cx="69.7" cy="496.7" r="2.5"/><circle cx="71.5" cy="495.2" r="2.5"/><circle cx="73.2" cy="493.1" r="2.5"/><circle cx="75" cy="493" r="2.5"/><circle cx="76.7" cy="491.9" r="2.5"/><circle cx="78.5" cy="490.6" r="2.5"/><circle cx="80.2" cy="489.2" r="2.5"/><circle cx="82" cy="487.7" r="2.5"/><circle cx="83.7" cy="485.7" r="2.5"/><circle cx="85.5" cy="484.1" r="2.5"/><circle cx="87.2" cy="482.7" r="2.5"/><circle cx="89" cy="480.6" r="2.5"/><circle cx="90.7" cy="479.5" r="2.5"/><circle cx="92.5" cy="476.8" r="2.5"/><circle cx="94.2" cy="474.4" r="2.5"/><circle cx="96" cy="473.8" r="2.5"/><circle cx="97.7" cy="472.6" r="2.5"/><circle cx="99.5" cy="471.3" r="2.5"/><circle cx="101.2" cy="469.7" r="2.5"/><circle cx="103" cy="467.9" r="2.5"/><circle cx="104.7" cy="467.4" r="2.5"/><circle cx="106.5" cy="464.7" r="2.5"/><circle cx="108.2" cy="463.7" r="2.5"/><circle cx="110" cy="461.9" r="2.5"/><circle cx="111.7" cy="460.5" r="2.5"/><circle cx="113.5" cy="460.9" r="2.5"/><circle cx="115.2" cy="458.6" r="2.5"/><circle cx="117" cy="459.3" r="2.5"/><circle cx="118.7" cy="460.5" r="2.5"/><circle cx="120.5" cy="461" r="2.5"/><circle cx="122.2" cy="462.9" r="2.5"/><circle cx="124" cy="465.2" r="2.5"/><circle cx="125.7" cy="468.3" r="2.5"/><circle cx="127.5" cy="472.7" r="2.5"/><circle cx="129.2" cy="475.1" r="2.5"/><circle cx="130.9" cy="478.7" r="2.5"/><circle cx="132.7" cy="481.6" r="2.5"/><circle cx="134.4" cy="484.8" r="2.5"/><circle cx="136.2" cy="488.4" r="2.5"/><circle cx="137.9" cy="491" r="2.5"/><circle cx="139.7" cy="493.4" r="2.5"/><circle cx="141.4" cy="495.6" r="2.5"/><circle cx="143.2" cy="498.2" r="2.5"/><circle cx="144.9" cy="498.3" r="2.5"/><circle cx="146.7" cy="500" r="2.5"/><circle cx="148.4" cy="500.9" r="2.5"/><circle cx="150.2" cy="501.4" r="2.5"/><circle cx="151.9" cy="502.6" r="2.5"/><circle cx="153.7" cy="503" r="2.5"/><circle cx="155.4" cy="503.7" r="2.5"/><circle cx="157.2" cy="505.7" r="2.5"/><circle cx="158.9" cy="505.9" r="2.5"/><circle cx="160.7" cy="506.8" r="2.5"/><circle cx="162.4" cy="506.9" r="2.5"/><circle cx="164.2" cy="508" r="2.5"/><circle cx="165.9" cy="508.6" r="2.5"/><circle cx="167.7" cy="509.4" r="2.5"/><circle cx="169.4" cy="510.5" r="2.5"/><circle cx="171.2" cy="509.7" r="2.5"/><circle cx="172.9" cy="510.3" r="2.5"/><circle cx="174.7" cy="510.4" r="2.5"/><circle cx="176.4" cy="509" r="2.5"/><circle cx="178.2" cy="510.2" r="2.5"/><circle cx="179.9" cy="510.9" r="2.5"/><circle cx="181.7" cy="511.2" r="2.5"/><circle cx="183.4" cy="510.7" r="2.5"/><circle cx="185.2" cy="511.5" r="2.5"/><circle cx="186.9" cy="511.6" r="2.5"/><circle cx="188.7" cy="510.9" r="2.5"/><circle cx="190.4" cy="511.8" r="2.5"/><circle cx="192.2" cy="511.9" r="2.5"/><circle cx="193.9" cy="511.4" r="2.5"/><circle cx="195.7" cy="510.8" r="2.5"/><circle cx="197.4" cy="511.9" r="2.5"/><circle cx="199.2" cy="511.2" r="2.5"/><circle cx="200.9" cy="511.1" r="2.5"/><circle cx="202.7" cy="511.3" r="2.5"/><circle cx="204.4" cy="511" r="2.5"/><circle cx="206.2" cy="511.8" r="2.5"/><circle cx="207.9" cy="511.7" r="2.5"/><circle cx="209.7" cy="511.9" r="2.5"/><circle cx="211.4" cy="511.6" r="2.5"/><circle cx="213.2" cy="511" r="2.5"/><circle cx="214.9" cy="511.3" r="2.5"/></g>
<g fill="none" stroke="#c87838" stroke-width="0.7"><circle cx="24.2" cy="488.4" r="2.5"/><circle cx="25.9" cy="487.8" r="2.5"/><circle cx="27.7" cy="489.3" r="2.5"/><circle cx="29.4" cy="487.9" r="2.5"/><circle cx="31.2" cy="487.7" r="2.5"/><circle cx="33" cy="488.5" r="2.5"/><circle cx="34.7" cy="488.3" r="2.5"/><circle cx="36.5" cy="488" r="2.5"/><circle cx="38.2" cy="487.9" r="2.5"/><circle cx="40" cy="488.2" r="2.5"/><circle cx="41.7" cy="488.4" r="2.5"/><circle cx="43.5" cy="488.3" r="2.5"/><circle cx="45.2" cy="487.9" r="2.5"/><circle cx="47" cy="488.2" r="2.5"/><circle cx="48.7" cy="488.4" r="2.5"/><circle cx="50.5" cy="488.3" r="2.5"/><circle cx="52.2" cy="486.3" r="2.5"/><circle cx="54" cy="486.6" r="2.5"/><circle cx="55.7" cy="485.7" r="2.5"/><circle cx="57.5" cy="484.8" r="2.5"/><circle cx="59.2" cy="484" r="2.5"/><circle cx="61" cy="483.2" r="2.5"/><circle cx="62.7" cy="481.9" r="2.5"/><circle cx="64.5" cy="480.2" r="2.5"/><circle cx="66.2" cy="478.9" r="2.5"/><circle cx="68" cy="478.3" r="2.5"/><circle cx="69.7" cy="475.9" r="2.5"/><circle cx="71.5" cy="475.1" r="2.5"/><circle cx="73.2" cy="474.5" r="2.5"/><circle cx="75" cy="472.9" r="2.5"/><circle cx="76.7" cy="470.7" r="2.5"/><circle cx="78.5" cy="470.6" r="2.5"/><circle cx="80.2" cy="469.1" r="2.5"/><circle cx="82" cy="467.9" r="2.5"/><circle cx="83.7" cy="466.8" r="2.5"/><circle cx="85.5" cy="464.8" r="2.5"/><circle cx="87.2" cy="462.7" r="2.5"/><circle cx="89" cy="461.4" r="2.5"/><circle cx="90.7" cy="459.3" r="2.5"/><circle cx="92.5" cy="457.5" r="2.5"/><circle cx="94.2" cy="456" r="2.5"/><circle cx="96" cy="454.4" r="2.5"/><circle cx="97.7" cy="452.7" r="2.5"/><circle cx="99.5" cy="451.2" r="2.5"/><circle cx="101.2" cy="450" r="2.5"/><circle cx="103" cy="448" r="2.5"/><circle cx="104.7" cy="446.3" r="2.5"/><circle cx="106.5" cy="445.8" r="2.5"/><circle cx="108.2" cy="443.5" r="2.5"/><circle cx="110" cy="442.3" r="2.5"/><circle cx="111.7" cy="441.3" r="2.5"/><circle cx="113.5" cy="440.6" r="2.5"/><circle cx="115.2" cy="440.1" r="2.5"/><circle cx="117" cy="440.2" r="2.5"/><circle cx="118.7" cy="440.3" r="2.5"/><circle cx="120.5" cy="442" r="2.5"/><circle cx="122.2" cy="442.7" r="2.5"/><circle cx="124" cy="446.2" r="2.5"/><circle cx="125.7" cy="448" r="2.5"/><circle cx="127.5" cy="451.5" r="2.5"/><circle cx="129.2" cy="455.9" r="2.5"/><circle cx="130.9" cy="458.9" r="2.5"/><circle cx="132.7" cy="461.9" r="2.5"/><circle cx="134.4" cy="465.4" r="2.5"/><circle cx="136.2" cy="467.6" r="2.5"/><circle cx="137.9" cy="470.7" r="2.5"/><circle cx="139.7" cy="472.2" r="2.5"/><circle cx="141.4" cy="475.4" r="2.5"/><circle cx="143.2" cy="477.2" r="2.5"/><circle cx="144.9" cy="479" r="2.5"/><circle cx="146.7" cy="480.2" r="2.5"/><circle cx="148.4" cy="480.3" r="2.5"/><circle cx="150.2" cy="482.2" r="2.5"/><circle cx="151.9" cy="482" r="2.5"/><circle cx="153.7" cy="482.2" r="2.5"/><circle cx="155.4" cy="482.8" r="2.5"/><circle cx="157.2" cy="485.4" r="2.5"/><circle cx="158.9" cy="485.4" r="2.5"/><circle cx="160.7" cy="485.8" r="2.5"/><circle cx="162.4" cy="486.4" r="2.5"/><circle cx="164.2" cy="486.9" r="2.5"/><circle cx="165.9" cy="488.7" r="2.5"/><circle cx="167.7" cy="488.7" r="2.5"/><circle cx="169.4" cy="490.1" r="2.5"/><circle cx="171.2" cy="489.7" r="2.5"/><circle cx="172.9" cy="489.1" r="2.5"/><circle cx="174.7" cy="490.8" r="2.5"/><circle cx="176.4" cy="490.5" r="2.5"/><circle cx="178.2" cy="490.7" r="2.5"/><circle cx="179.9" cy="491.6" r="2.5"/><circle cx="181.7" cy="490.9" r="2.5"/><circle cx="183.4" cy="491.6" r="2.5"/><circle cx="185.2" cy="491.1" r="2.5"/><circle cx="186.9" cy="490.8" r="2.5"/><circle cx="188.7" cy="491.4" r="2.5"/><circle cx="190.4" cy="490.9" r="2.5"/><circle cx="192.2" cy="491.8" r="2.5"/><circle cx="193.9" cy="491.7" r="2.5"/><circle cx="195.7" cy="491.3" r="2.5"/><circle cx="197.4" cy="491.6" r="2.5"/><circle cx="199.2" cy="491.6" r="2.5"/><circle cx="200.9" cy="491.2" r="2.5"/><circle cx="202.7" cy="491.8" r="2.5"/><circle cx="204.4" cy="491.3" r="2.5"/><circle cx="206.2" cy="491.7" r="2.5"/><circle cx="207.9" cy="491" r="2.5"/><circle cx="209.7" cy="491.5" r="2.5"/><circle cx="211.4" cy="491.6" r="2.5"/><circle cx="213.2" cy="491.1" r="2.5"/><circle cx="214.9" cy="491.3" r="2.5"/></g>
<g fill="none" stroke="#f39638" stroke-width="0.7"><circle cx="24.2" cy="467.5" r="2.5"/><circle cx="25.9" cy="468" r="2.5"/><circle cx="27.7" cy="467.4" r="2.5"/><circle cx="29.4" cy="467.9" r="2.5"/><circle cx="31.2" cy="468.4" r="2.5"/><circle cx="33" cy="467.9" r="2.5"/><circle cx="34.7" cy="467" r="2.5"/><circle cx="36.5" cy="467.8" r="2.5"/><circle cx="38.2" cy="468.2" r="2.5"/><circle cx="40" cy="467.6" r="2.5"/><circle cx="41.7" cy="468.2" r="2.5"/><circle cx="43.5" cy="468" r="2.5"/><circle cx="45.2" cy="467.9" r="2.5"/><circle cx="47" cy="467.6" r="2.5"/><circle cx="48.7" cy="467.5" r="2.5"/><circle cx="50.5" cy="467.6" r="2.5"/><circle cx="52.2" cy="467.4" r="2.5"/><circle cx="54" cy="467" r="2.5"/><circle cx="55.7" cy="466.1" r="2.5"/><circle cx="57.5" cy="464.7" r="2.5"/><circle cx="59.2" cy="463.9" r="2.5"/><circle cx="61" cy="462.9" r="2.5"/><circle cx="62.7" cy="460.9" r="2.5"/><circle cx="64.5" cy="459.9" r="2.5"/><circle cx="66.2" cy="458.6" r="2.5"/><circle cx="68" cy="457.5" r="2.5"/><circle cx="69.7" cy="456.1" r="2.5"/><circle cx="71.5" cy="454.9" r="2.5"/><circle cx="73.2" cy="453.4" r="2.5"/><circle cx="75" cy="453" r="2.5"/><circle cx="76.7" cy="451.7" r="2.5"/><circle cx="78.5" cy="449.7" r="2.5"/><circle cx="80.2" cy="449.2" r="2.5"/><circle cx="82" cy="447.4" r="2.5"/><circle cx="83.7" cy="447.1" r="2.5"/><circle cx="85.5" cy="444.5" r="2.5"/><circle cx="87.2" cy="442.7" r="2.5"/><circle cx="89" cy="441.1" r="2.5"/><circle cx="90.7" cy="439.2" r="2.5"/><circle cx="92.5" cy="437.5" r="2.5"/><circle cx="94.2" cy="436.6" r="2.5"/><circle cx="96" cy="434.5" r="2.5"/><circle cx="97.7" cy="433.2" r="2.5"/><circle cx="99.5" cy="431.9" r="2.5"/><circle cx="101.2" cy="429.4" r="2.5"/><circle cx="103" cy="429.1" r="2.5"/><circle cx="104.7" cy="427.1" r="2.5"/><circle cx="106.5" cy="425.6" r="2.5"/><circle cx="108.2" cy="423.2" r="2.5"/><circle cx="110" cy="422.7" r="2.5"/><circle cx="111.7" cy="421.5" r="2.5"/><circle cx="113.5" cy="420.3" r="2.5"/><circle cx="115.2" cy="421.2" r="2.5"/><circle cx="117" cy="420.5" r="2.5"/><circle cx="118.7" cy="420.6" r="2.5"/><circle cx="120.5" cy="421.7" r="2.5"/><circle cx="122.2" cy="423.6" r="2.5"/><circle cx="124" cy="426.4" r="2.5"/><circle cx="125.7" cy="429.1" r="2.5"/><circle cx="127.5" cy="432.5" r="2.5"/><circle cx="129.2" cy="436" r="2.5"/><circle cx="130.9" cy="438.2" r="2.5"/><circle cx="132.7" cy="441.7" r="2.5"/><circle cx="134.4" cy="444.4" r="2.5"/><circle cx="136.2" cy="447.6" r="2.5"/><circle cx="137.9" cy="450.8" r="2.5"/><circle cx="139.7" cy="452.9" r="2.5"/><circle cx="141.4" cy="454.4" r="2.5"/><circle cx="143.2" cy="456.6" r="2.5"/><circle cx="144.9" cy="458.4" r="2.5"/><circle cx="146.7" cy="458.8" r="2.5"/><circle cx="148.4" cy="459.9" r="2.5"/><circle cx="150.2" cy="460.9" r="2.5"/><circle cx="151.9" cy="460.7" r="2.5"/><circle cx="153.7" cy="462.7" r="2.5"/><circle cx="155.4" cy="463.3" r="2.5"/><circle cx="157.2" cy="464.2" r="2.5"/><circle cx="158.9" cy="464.2" r="2.5"/><circle cx="160.7" cy="465" r="2.5"/><circle cx="162.4" cy="465.8" r="2.5"/><circle cx="164.2" cy="466.8" r="2.5"/><circle cx="165.9" cy="467.4" r="2.5"/><circle cx="167.7" cy="468.1" r="2.5"/><circle cx="169.4" cy="469.4" r="2.5"/><circle cx="171.2" cy="469.7" r="2.5"/><circle cx="172.9" cy="469.2" r="2.5"/><circle cx="174.7" cy="469.6" r="2.5"/><circle cx="176.4" cy="470.9" r="2.5"/><circle cx="178.2" cy="470.1" r="2.5"/><circle cx="179.9" cy="471" r="2.5"/><circle cx="181.7" cy="471.2" r="2.5"/><circle cx="183.4" cy="470.3" r="2.5"/><circle cx="185.2" cy="470.4" r="2.5"/><circle cx="186.9" cy="470.6" r="2.5"/><circle cx="188.7" cy="470.2" r="2.5"/><circle cx="190.4" cy="470.2" r="2.5"/><circle cx="192.2" cy="470.5" r="2.5"/><circle cx="193.9" cy="471.1" r="2.5"/><circle cx="195.7" cy="470.5" r="2.5"/><circle cx="197.4" cy="470.6" r="2.5"/><circle cx="199.2" cy="470.5" r="2.5"/><circle cx="200.9" cy="470.2" r="2.5"/><circle cx="202.7" cy="471.5" r="2.5"/><circle cx="204.4" cy="469.7" r="2.5"/><circle cx="206.2" cy="470.5" r="2.5"/><circle cx="207.9" cy="471.1" r="2.5"/><circle cx="209.7" cy="470.2" r="2.5"/><circle cx="211.4" cy="471.1" r="2.5"/><circle cx="213.2" cy="471.4" r="2.5"/><circle cx="214.9" cy="470.5" r="2.5"/></g>
<g fill="none" stroke="#fbcb62" stroke-width="0.7"><circle cx="24.2" cy="447.8" r="2.5"/><circle cx="25.9" cy="447.2" r="2.5"/><circle cx="27.7" cy="447.9" r="2.5"/><circle cx="29.4" cy="447.7" r="2.5"/><circle cx="31.2" cy="447.8" r="2.5"/><circle cx="33" cy="448.3" r="2.5"/><circle cx="34.7" cy="447.9" r="2.5"/><circle cx="36.5" cy="448.3" r="2.5"/><circle cx="38.2" cy="448" r="2.5"/><circle cx="40" cy="447.2" r="2.5"/><circle cx="41.7" cy="447.8" r="2.5"/><circle cx="43.5" cy="447.9" r="2.5"/><circle cx="45.2" cy="447.1" r="2.5"/><circle cx="47" cy="448.3" r="2.5"/><circle cx="48.7" cy="447.7" r="2.5"/><circle cx="50.5" cy="447.9" r="2.5"/><circle cx="52.2" cy="447.1" r="2.5"/><circle cx="54" cy="446.9" r="2.5"/><circle cx="55.7" cy="446.2" r="2.5"/><circle cx="57.5" cy="445" r="2.5"/><circle cx="59.2" cy="444.1" r="2.5"/><circle cx="61" cy="442.1" r="2.5"/><circle cx="62.7" cy="442.5" r="2.5"/><circle cx="64.5" cy="440.1" r="2.5"/><circle cx="66.2" cy="438.3" r="2.5"/><circle cx="68" cy="437.5" r="2.5"/><circle cx="69.7" cy="436.2" r="2.5"/><circle cx="71.5" cy="435.6" r="2.5"/><circle cx="73.2" cy="433.7" r="2.5"/><circle cx="75" cy="433.1" r="2.5"/><circle cx="76.7" cy="431.4" r="2.5"/><circle cx="78.5" cy="431.7" r="2.5"/><circle cx="80.2" cy="429.7" r="2.5"/><circle cx="82" cy="429" r="2.5"/><circle cx="83.7" cy="426.2" r="2.5"/><circle cx="85.5" cy="425.3" r="2.5"/><circle cx="87.2" cy="422.9" r="2.5"/><circle cx="89" cy="421.8" r="2.5"/><circle cx="90.7" cy="420" r="2.5"/><circle cx="92.5" cy="417.3" r="2.5"/><circle cx="94.2" cy="415.8" r="2.5"/><circle cx="96" cy="414.2" r="2.5"/><circle cx="97.7" cy="412.5" r="2.5"/><circle cx="99.5" cy="411.4" r="2.5"/><circle cx="101.2" cy="409.7" r="2.5"/><circle cx="103" cy="407.9" r="2.5"/><circle cx="104.7" cy="407" r="2.5"/><circle cx="106.5" cy="405.6" r="2.5"/><circle cx="108.2" cy="403.3" r="2.5"/><circle cx="110" cy="402.4" r="2.5"/><circle cx="111.7" cy="401.6" r="2.5"/><circle cx="113.5" cy="400.8" r="2.5"/><circle cx="115.2" cy="400.3" r="2.5"/><circle cx="117" cy="401" r="2.5"/><circle cx="118.7" cy="401.5" r="2.5"/><circle cx="120.5" cy="402.4" r="2.5"/><circle cx="122.2" cy="403.7" r="2.5"/><circle cx="124" cy="407.3" r="2.5"/><circle cx="125.7" cy="410.1" r="2.5"/><circle cx="127.5" cy="412.2" r="2.5"/><circle cx="129.2" cy="415.6" r="2.5"/><circle cx="130.9" cy="419.5" r="2.5"/><circle cx="132.7" cy="421.7" r="2.5"/><circle cx="134.4" cy="425.2" r="2.5"/><circle cx="136.2" cy="427.7" r="2.5"/><circle cx="137.9" cy="429.9" r="2.5"/><circle cx="139.7" cy="432.4" r="2.5"/><circle cx="141.4" cy="434.1" r="2.5"/><circle cx="143.2" cy="436.3" r="2.5"/><circle cx="144.9" cy="436.9" r="2.5"/><circle cx="146.7" cy="440" r="2.5"/><circle cx="148.4" cy="440.6" r="2.5"/><circle cx="150.2" cy="441.3" r="2.5"/><circle cx="151.9" cy="441.8" r="2.5"/><circle cx="153.7" cy="442.9" r="2.5"/><circle cx="155.4" cy="443.9" r="2.5"/><circle cx="157.2" cy="444.6" r="2.5"/><circle cx="158.9" cy="445.3" r="2.5"/><circle cx="160.7" cy="445.2" r="2.5"/><circle cx="162.4" cy="446.5" r="2.5"/><circle cx="164.2" cy="446.8" r="2.5"/><circle cx="165.9" cy="447.2" r="2.5"/><circle cx="167.7" cy="447.9" r="2.5"/><circle cx="169.4" cy="449.2" r="2.5"/><circle cx="171.2" cy="450.1" r="2.5"/><circle cx="172.9" cy="449.4" r="2.5"/><circle cx="174.7" cy="451.2" r="2.5"/><circle cx="176.4" cy="451.4" r="2.5"/><circle cx="178.2" cy="450.7" r="2.5"/><circle cx="179.9" cy="450.8" r="2.5"/><circle cx="181.7" cy="451.1" r="2.5"/><circle cx="183.4" cy="451.6" r="2.5"/><circle cx="185.2" cy="451.1" r="2.5"/><circle cx="186.9" cy="450.8" r="2.5"/><circle cx="188.7" cy="451.5" r="2.5"/><circle cx="190.4" cy="450.4" r="2.5"/><circle cx="192.2" cy="451.5" r="2.5"/><circle cx="193.9" cy="452" r="2.5"/><circle cx="195.7" cy="451.6" r="2.5"/><circle cx="197.4" cy="451.8" r="2.5"/><circle cx="199.2" cy="451.7" r="2.5"/><circle cx="200.9" cy="451.9" r="2.5"/><circle cx="202.7" cy="451.6" r="2.5"/><circle cx="204.4" cy="451.2" r="2.5"/><circle cx="206.2" cy="451.5" r="2.5"/><circle cx="207.9" cy="451.6" r="2.5"/><circle cx="209.7" cy="452.2" r="2.5"/><circle cx="211.4" cy="452.3" r="2.5"/><circle cx="213.2" cy="451.8" r="2.5"/><circle cx="214.9" cy="451.3" r="2.5"/></g>
<g fill="none" stroke="#d8e78e" stroke-width="0.7"><circle cx="24.2" cy="427.6" r="2.5"/><circle cx="25.9" cy="427.8" r="2.5"/><circle cx="27.7" cy="428.5" r="2.5"/><circle cx="29.4" cy="428.1" r="2.5"/><circle cx="31.2" cy="427.9" r="2.5"/><circle cx="33" cy="427.6" r="2.5"/><circle cx="34.7" cy="428.3" r="2.5"/><circle cx="36.5" cy="428" r="2.5"/><circle cx="38.2" cy="427.9" r="2.5"/><circle cx="40" cy="427.9" r="2.5"/><circle cx="41.7" cy="428.7" r="2.5"/><circle cx="43.5" cy="427.8" r="2.5"/><circle cx="45.2" cy="428.7" r="2.5"/><circle cx="47" cy="428.5" r="2.5"/><circle cx="48.7" cy="427.9" r="2.5"/><circle cx="50.5" cy="428.3" r="2.5"/><circle cx="52.2" cy="427.6" r="2.5"/><circle cx="54" cy="426.9" r="2.5"/><circle cx="55.7" cy="426.4" r="2.5"/><circle cx="57.5" cy="425.1" r="2.5"/><circle cx="59.2" cy="424.7" r="2.5"/><circle cx="61" cy="423.5" r="2.5"/><circle cx="62.7" cy="422.6" r="2.5"/><circle cx="64.5" cy="421.5" r="2.5"/><circle cx="66.2" cy="418.4" r="2.5"/><circle cx="68" cy="418.6" r="2.5"/><circle cx="69.7" cy="416.4" r="2.5"/><circle cx="71.5" cy="416" r="2.5"/><circle cx="73.2" cy="414.3" r="2.5"/><circle cx="75" cy="413.5" r="2.5"/><circle cx="76.7" cy="412.9" r="2.5"/><circle cx="78.5" cy="410.4" r="2.5"/><circle cx="80.2" cy="410" r="2.5"/><circle cx="82" cy="408.5" r="2.5"/><circle cx="83.7" cy="406.3" r="2.5"/><circle cx="85.5" cy="405.8" r="2.5"/><circle cx="87.2" cy="403.9" r="2.5"/><circle cx="89" cy="401.9" r="2.5"/><circle cx="90.7" cy="400" r="2.5"/><circle cx="92.5" cy="400.1" r="2.5"/><circle cx="94.2" cy="396.8" r="2.5"/><circle cx="96" cy="394.5" r="2.5"/><circle cx="97.7" cy="393.3" r="2.5"/><circle cx="99.5" cy="392" r="2.5"/><circle cx="101.2" cy="390.4" r="2.5"/><circle cx="103" cy="388.9" r="2.5"/><circle cx="104.7" cy="386.9" r="2.5"/><circle cx="106.5" cy="386" r="2.5"/><circle cx="108.2" cy="384.1" r="2.5"/><circle cx="110" cy="382.5" r="2.5"/><circle cx="111.7" cy="381.7" r="2.5"/><circle cx="113.5" cy="381.3" r="2.5"/><circle cx="115.2" cy="381.6" r="2.5"/><circle cx="117" cy="381.5" r="2.5"/><circle cx="118.7" cy="381.5" r="2.5"/><circle cx="120.5" cy="382.7" r="2.5"/><circle cx="122.2" cy="384.5" r="2.5"/><circle cx="124" cy="387.9" r="2.5"/><circle cx="125.7" cy="389.5" r="2.5"/><circle cx="127.5" cy="393" r="2.5"/><circle cx="129.2" cy="396.4" r="2.5"/><circle cx="130.9" cy="398.8" r="2.5"/><circle cx="132.7" cy="402.4" r="2.5"/><circle cx="134.4" cy="405.2" r="2.5"/><circle cx="136.2" cy="407.6" r="2.5"/><circle cx="137.9" cy="410.4" r="2.5"/><circle cx="139.7" cy="412.9" r="2.5"/><circle cx="141.4" cy="415.1" r="2.5"/><circle cx="143.2" cy="416.2" r="2.5"/><circle cx="144.9" cy="417.7" r="2.5"/><circle cx="146.7" cy="419.7" r="2.5"/><circle cx="148.4" cy="419.2" r="2.5"/><circle cx="150.2" cy="420.7" r="2.5"/><circle cx="151.9" cy="421.8" r="2.5"/><circle cx="153.7" cy="422.4" r="2.5"/><circle cx="155.4" cy="423.4" r="2.5"/><circle cx="157.2" cy="424" r="2.5"/><circle cx="158.9" cy="425.1" r="2.5"/><circle cx="160.7" cy="426" r="2.5"/><circle cx="162.4" cy="426.1" r="2.5"/><circle cx="164.2" cy="427" r="2.5"/><circle cx="165.9" cy="427.5" r="2.5"/><circle cx="167.7" cy="428.1" r="2.5"/><circle cx="169.4" cy="428.9" r="2.5"/><circle cx="171.2" cy="429" r="2.5"/><circle cx="172.9" cy="430.4" r="2.5"/><circle cx="174.7" cy="431.2" r="2.5"/><circle cx="176.4" cy="431.5" r="2.5"/><circle cx="178.2" cy="431.5" r="2.5"/><circle cx="179.9" cy="430.6" r="2.5"/><circle cx="181.7" cy="431.8" r="2.5"/><circle cx="183.4" cy="430.9" r="2.5"/><circle cx="185.2" cy="431.2" r="2.5"/><circle cx="186.9" cy="432.1" r="2.5"/><circle cx="188.7" cy="430.9" r="2.5"/><circle cx="190.4" cy="431.8" r="2.5"/><circle cx="192.2" cy="431.5" r="2.5"/><circle cx="193.9" cy="431.4" r="2.5"/><circle cx="195.7" cy="431.1" r="2.5"/><circle cx="197.4" cy="431.7" r="2.5"/><circle cx="199.2" cy="431.3" r="2.5"/><circle cx="200.9" cy="432" r="2.5"/><circle cx="202.7" cy="432.1" r="2.5"/><circle cx="204.4" cy="430.9" r="2.5"/><circle cx="206.2" cy="431.4" r="2.5"/><circle cx="207.9" cy="431.5" r="2.5"/><circle cx="209.7" cy="431.1" r="2.5"/><circle cx="211.4" cy="431.1" r="2.5"/><circle cx="213.2" cy="431.7" r="2.5"/><circle cx="214.9" cy="431.5" r="2.5"/></g>
<g fill="none" stroke="#cde07a" stroke-width="0.7"><circle cx="24.2" cy="407.8" r="2.5"/><circle cx="25.9" cy="408.3" r="2.5"/><circle cx="27.7" cy="408.7" r="2.5"/><circle cx="29.4" cy="408" r="2.5"/><circle cx="31.2" cy="408.1" r="2.5"/><circle cx="33" cy="409.2" r="2.5"/><circle cx="34.7" cy="409.1" r="2.5"/><circle cx="36.5" cy="407.8" r="2.5"/><circle cx="38.2" cy="407.9" r="2.5"/><circle cx="40" cy="408.7" r="2.5"/><circle cx="41.7" cy="408" r="2.5"/><circle cx="43.5" cy="408.4" r="2.5"/><circle cx="45.2" cy="408.3" r="2.5"/><circle cx="47" cy="408.8" r="2.5"/><circle cx="48.7" cy="407.4" r="2.5"/><circle cx="50.5" cy="407.5" r="2.5"/><circle cx="52.2" cy="407.8" r="2.5"/><circle cx="54" cy="408.4" r="2.5"/><circle cx="55.7" cy="407.2" r="2.5"/><circle cx="57.5" cy="405.6" r="2.5"/><circle cx="59.2" cy="405.6" r="2.5"/><circle cx="61" cy="404.7" r="2.5"/><circle cx="62.7" cy="403.2" r="2.5"/><circle cx="64.5" cy="401.9" r="2.5"/><circle cx="66.2" cy="401" r="2.5"/><circle cx="68" cy="400" r="2.5"/><circle cx="69.7" cy="398.2" r="2.5"/><circle cx="71.5" cy="397.1" r="2.5"/><circle cx="73.2" cy="395.6" r="2.5"/><circle cx="75" cy="394.2" r="2.5"/><circle cx="76.7" cy="392.8" r="2.5"/><circle cx="78.5" cy="392.1" r="2.5"/><circle cx="80.2" cy="390.6" r="2.5"/><circle cx="82" cy="389.3" r="2.5"/><circle cx="83.7" cy="388.4" r="2.5"/><circle cx="85.5" cy="386.7" r="2.5"/><circle cx="87.2" cy="385.2" r="2.5"/><circle cx="89" cy="382.4" r="2.5"/><circle cx="90.7" cy="381.7" r="2.5"/><circle cx="92.5" cy="379.4" r="2.5"/><circle cx="94.2" cy="377.6" r="2.5"/><circle cx="96" cy="375.9" r="2.5"/><circle cx="97.7" cy="375.2" r="2.5"/><circle cx="99.5" cy="373.4" r="2.5"/><circle cx="101.2" cy="371.1" r="2.5"/><circle cx="103" cy="369.2" r="2.5"/><circle cx="104.7" cy="368.1" r="2.5"/><circle cx="106.5" cy="366.4" r="2.5"/><circle cx="108.2" cy="365.9" r="2.5"/><circle cx="110" cy="363.3" r="2.5"/><circle cx="111.7" cy="362.1" r="2.5"/><circle cx="113.5" cy="362.2" r="2.5"/><circle cx="115.2" cy="362.1" r="2.5"/><circle cx="117" cy="362.3" r="2.5"/><circle cx="118.7" cy="363" r="2.5"/><circle cx="120.5" cy="364.6" r="2.5"/><circle cx="122.2" cy="365.3" r="2.5"/><circle cx="124" cy="367.7" r="2.5"/><circle cx="125.7" cy="369.9" r="2.5"/><circle cx="127.5" cy="373.7" r="2.5"/><circle cx="129.2" cy="377.2" r="2.5"/><circle cx="130.9" cy="379.8" r="2.5"/><circle cx="132.7" cy="383.4" r="2.5"/><circle cx="134.4" cy="385.7" r="2.5"/><circle cx="136.2" cy="388.9" r="2.5"/><circle cx="137.9" cy="390.6" r="2.5"/><circle cx="139.7" cy="392.2" r="2.5"/><circle cx="141.4" cy="394.4" r="2.5"/><circle cx="143.2" cy="395.6" r="2.5"/><circle cx="144.9" cy="396.8" r="2.5"/><circle cx="146.7" cy="398.8" r="2.5"/><circle cx="148.4" cy="400.1" r="2.5"/><circle cx="150.2" cy="401.5" r="2.5"/><circle cx="151.9" cy="401.5" r="2.5"/><circle cx="153.7" cy="402.3" r="2.5"/><circle cx="155.4" cy="402.7" r="2.5"/><circle cx="157.2" cy="404.5" r="2.5"/><circle cx="158.9" cy="405" r="2.5"/><circle cx="160.7" cy="405.3" r="2.5"/><circle cx="162.4" cy="406.5" r="2.5"/><circle cx="164.2" cy="407.2" r="2.5"/><circle cx="165.9" cy="406.8" r="2.5"/><circle cx="167.7" cy="408.6" r="2.5"/><circle cx="169.4" cy="409" r="2.5"/><circle cx="171.2" cy="409.4" r="2.5"/><circle cx="172.9" cy="410" r="2.5"/><circle cx="174.7" cy="411.4" r="2.5"/><circle cx="176.4" cy="411.5" r="2.5"/><circle cx="178.2" cy="411.8" r="2.5"/><circle cx="179.9" cy="410.7" r="2.5"/><circle cx="181.7" cy="411" r="2.5"/><circle cx="183.4" cy="411.8" r="2.5"/><circle cx="185.2" cy="410.9" r="2.5"/><circle cx="186.9" cy="411.1" r="2.5"/><circle cx="188.7" cy="410.7" r="2.5"/><circle cx="190.4" cy="412.4" r="2.5"/><circle cx="192.2" cy="412" r="2.5"/><circle cx="193.9" cy="411.8" r="2.5"/><circle cx="195.7" cy="411.7" r="2.5"/><circle cx="197.4" cy="411.4" r="2.5"/><circle cx="199.2" cy="411.5" r="2.5"/><circle cx="200.9" cy="411.9" r="2.5"/><circle cx="202.7" cy="411.4" r="2.5"/><circle cx="204.4" cy="412.2" r="2.5"/><circle cx="206.2" cy="411.5" r="2.5"/><circle cx="207.9" cy="411.3" r="2.5"/><circle cx="209.7" cy="412.3" r="2.5"/><circle cx="211.4" cy="411.7" r="2.5"/><circle cx="213.2" cy="412" r="2.5"/><circle cx="214.9" cy="411.6" r="2.5"/></g>
<g fill="none" stroke="#9cc45c" stroke-width="0.7"><circle cx="24.2" cy="387.3" r="2.5"/><circle cx="25.9" cy="388.5" r="2.5"/><circle cx="27.7" cy="387.7" r="2.5"/><circle cx="29.4" cy="388.8" r="2.5"/><circle cx="31.2" cy="387.6" r="2.5"/><circle cx="33" cy="387.5" r="2.5"/><circle cx="34.7" cy="388.4" r="2.5"/><circle cx="36.5" cy="388.5" r="2.5"/><circle cx="38.2" cy="388.3" r="2.5"/><circle cx="40" cy="387.8" r="2.5"/><circle cx="41.7" cy="388.7" r="2.5"/><circle cx="43.5" cy="387.6" r="2.5"/><circle cx="45.2" cy="388.1" r="2.5"/><circle cx="47" cy="387.9" r="2.5"/><circle cx="48.7" cy="388.1" r="2.5"/><circle cx="50.5" cy="388.7" r="2.5"/><circle cx="52.2" cy="387.9" r="2.5"/><circle cx="54" cy="388.1" r="2.5"/><circle cx="55.7" cy="387.6" r="2.5"/><circle cx="57.5" cy="385.6" r="2.5"/><circle cx="59.2" cy="384.9" r="2.5"/><circle cx="61" cy="384.3" r="2.5"/><circle cx="62.7" cy="383.1" r="2.5"/><circle cx="64.5" cy="382.4" r="2.5"/><circle cx="66.2" cy="380.1" r="2.5"/><circle cx="68" cy="380" r="2.5"/><circle cx="69.7" cy="378.6" r="2.5"/><circle cx="71.5" cy="376.9" r="2.5"/><circle cx="73.2" cy="375.1" r="2.5"/><circle cx="75" cy="374.5" r="2.5"/><circle cx="76.7" cy="373" r="2.5"/><circle cx="78.5" cy="372.3" r="2.5"/><circle cx="80.2" cy="370.8" r="2.5"/><circle cx="82" cy="369.8" r="2.5"/><circle cx="83.7" cy="367.9" r="2.5"/><circle cx="85.5" cy="367.2" r="2.5"/><circle cx="87.2" cy="364" r="2.5"/><circle cx="89" cy="362.9" r="2.5"/><circle cx="90.7" cy="361.9" r="2.5"/><circle cx="92.5" cy="359.2" r="2.5"/><circle cx="94.2" cy="358.5" r="2.5"/><circle cx="96" cy="355.9" r="2.5"/><circle cx="97.7" cy="354.8" r="2.5"/><circle cx="99.5" cy="352.7" r="2.5"/><circle cx="101.2" cy="351.2" r="2.5"/><circle cx="103" cy="349.8" r="2.5"/><circle cx="104.7" cy="348.1" r="2.5"/><circle cx="106.5" cy="346.4" r="2.5"/><circle cx="108.2" cy="346.2" r="2.5"/><circle cx="110" cy="344.1" r="2.5"/><circle cx="111.7" cy="342.7" r="2.5"/><circle cx="113.5" cy="342.9" r="2.5"/><circle cx="115.2" cy="342.7" r="2.5"/><circle cx="117" cy="343" r="2.5"/><circle cx="118.7" cy="343.6" r="2.5"/><circle cx="120.5" cy="343.5" r="2.5"/><circle cx="122.2" cy="346.3" r="2.5"/><circle cx="124" cy="348.8" r="2.5"/><circle cx="125.7" cy="350.9" r="2.5"/><circle cx="127.5" cy="353.9" r="2.5"/><circle cx="129.2" cy="355.6" r="2.5"/><circle cx="130.9" cy="359.7" r="2.5"/><circle cx="132.7" cy="363.6" r="2.5"/><circle cx="134.4" cy="364.8" r="2.5"/><circle cx="136.2" cy="367.8" r="2.5"/><circle cx="137.9" cy="370.4" r="2.5"/><circle cx="139.7" cy="372.6" r="2.5"/><circle cx="141.4" cy="375" r="2.5"/><circle cx="143.2" cy="375.1" r="2.5"/><circle cx="144.9" cy="377.2" r="2.5"/><circle cx="146.7" cy="378.8" r="2.5"/><circle cx="148.4" cy="378.8" r="2.5"/><circle cx="150.2" cy="380.4" r="2.5"/><circle cx="151.9" cy="382.1" r="2.5"/><circle cx="153.7" cy="382.8" r="2.5"/><circle cx="155.4" cy="383.3" r="2.5"/><circle cx="157.2" cy="382.7" r="2.5"/><circle cx="158.9" cy="384.6" r="2.5"/><circle cx="160.7" cy="385.6" r="2.5"/><circle cx="162.4" cy="386" r="2.5"/><circle cx="164.2" cy="386.9" r="2.5"/><circle cx="165.9" cy="389" r="2.5"/><circle cx="167.7" cy="388.2" r="2.5"/><circle cx="169.4" cy="388.6" r="2.5"/><circle cx="171.2" cy="389.8" r="2.5"/><circle cx="172.9" cy="390.2" r="2.5"/><circle cx="174.7" cy="390.7" r="2.5"/><circle cx="176.4" cy="391" r="2.5"/><circle cx="178.2" cy="391.6" r="2.5"/><circle cx="179.9" cy="391.6" r="2.5"/><circle cx="181.7" cy="391" r="2.5"/><circle cx="183.4" cy="391.6" r="2.5"/><circle cx="185.2" cy="392" r="2.5"/><circle cx="186.9" cy="391.6" r="2.5"/><circle cx="188.7" cy="392.4" r="2.5"/><circle cx="190.4" cy="392.2" r="2.5"/><circle cx="192.2" cy="391.5" r="2.5"/><circle cx="193.9" cy="392.1" r="2.5"/><circle cx="195.7" cy="392.9" r="2.5"/><circle cx="197.4" cy="392.7" r="2.5"/><circle cx="199.2" cy="392" r="2.5"/><circle cx="200.9" cy="392.4" r="2.5"/><circle cx="202.7" cy="391.7" r="2.5"/><circle cx="204.4" cy="391.4" r="2.5"/><circle cx="206.2" cy="392.3" r="2.5"/><circle cx="207.9" cy="392.2" r="2.5"/><circle cx="209.7" cy="392.3" r="2.5"/><circle cx="211.4" cy="392.1" r="2.5"/><circle cx="213.2" cy="392.3" r="2.5"/><circle cx="214.9" cy="391.9" r="2.5"/></g>
<g fill="none" stroke="#62a646" stroke-width="0.7"><circle cx="24.2" cy="368.3" r="2.5"/><circle cx="25.9" cy="368.5" r="2.5"/><circle cx="27.7" cy="368.1" r="2.5"/><circle cx="29.4" cy="368.5" r="2.5"/><circle cx="31.2" cy="367.3" r="2.5"/><circle cx="33" cy="367.7" r="2.5"/><circle cx="34.7" cy="368.8" r="2.5"/><circle cx="36.5" cy="368.9" r="2.5"/><circle cx="38.2" cy="368.2" r="2.5"/><circle cx="40" cy="368.1" r="2.5"/><circle cx="41.7" cy="367.5" r="2.5"/><circle cx="43.5" cy="368.3" r="2.5"/><circle cx="45.2" cy="368.5" r="2.5"/><circle cx="47" cy="367.4" r="2.5"/><circle cx="48.7" cy="368.4" r="2.5"/><circle cx="50.5" cy="368.3" r="2.5"/><circle cx="52.2" cy="368.3" r="2.5"/><circle cx="54" cy="367.3" r="2.5"/><circle cx="55.7" cy="367.5" r="2.5"/><circle cx="57.5" cy="365.7" r="2.5"/><circle cx="59.2" cy="366.1" r="2.5"/><circle cx="61" cy="364.6" r="2.5"/><circle cx="62.7" cy="363" r="2.5"/><circle cx="64.5" cy="363" r="2.5"/><circle cx="66.2" cy="361.6" r="2.5"/><circle cx="68" cy="359.5" r="2.5"/><circle cx="69.7" cy="359.4" r="2.5"/><circle cx="71.5" cy="356.7" r="2.5"/><circle cx="73.2" cy="356" r="2.5"/><circle cx="75" cy="355.1" r="2.5"/><circle cx="76.7" cy="352.3" r="2.5"/><circle cx="78.5" cy="352.5" r="2.5"/><circle cx="80.2" cy="350.8" r="2.5"/><circle cx="82" cy="349.5" r="2.5"/><circle cx="83.7" cy="347.7" r="2.5"/><circle cx="85.5" cy="346.9" r="2.5"/><circle cx="87.2" cy="344.7" r="2.5"/><circle cx="89" cy="343.2" r="2.5"/><circle cx="90.7" cy="341.7" r="2.5"/><circle cx="92.5" cy="339.6" r="2.5"/><circle cx="94.2" cy="339" r="2.5"/><circle cx="96" cy="336" r="2.5"/><circle cx="97.7" cy="334.5" r="2.5"/><circle cx="99.5" cy="333" r="2.5"/><circle cx="101.2" cy="331.5" r="2.5"/><circle cx="103" cy="330.1" r="2.5"/><circle cx="104.7" cy="328.5" r="2.5"/><circle cx="106.5" cy="326.5" r="2.5"/><circle cx="108.2" cy="325.1" r="2.5"/><circle cx="110" cy="324.2" r="2.5"/><circle cx="111.7" cy="323.5" r="2.5"/><circle cx="113.5" cy="322.9" r="2.5"/><circle cx="115.2" cy="322.3" r="2.5"/><circle cx="117" cy="321.7" r="2.5"/><circle cx="118.7" cy="324" r="2.5"/><circle cx="120.5" cy="324.6" r="2.5"/><circle cx="122.2" cy="326.3" r="2.5"/><circle cx="124" cy="328.7" r="2.5"/><circle cx="125.7" cy="330.8" r="2.5"/><circle cx="127.5" cy="333.4" r="2.5"/><circle cx="129.2" cy="336.8" r="2.5"/><circle cx="130.9" cy="339.7" r="2.5"/><circle cx="132.7" cy="342.4" r="2.5"/><circle cx="134.4" cy="344.7" r="2.5"/><circle cx="136.2" cy="347.6" r="2.5"/><circle cx="137.9" cy="350.2" r="2.5"/><circle cx="139.7" cy="351.7" r="2.5"/><circle cx="141.4" cy="353.8" r="2.5"/><circle cx="143.2" cy="354.4" r="2.5"/><circle cx="144.9" cy="356.5" r="2.5"/><circle cx="146.7" cy="357.7" r="2.5"/><circle cx="148.4" cy="358.3" r="2.5"/><circle cx="150.2" cy="359.1" r="2.5"/><circle cx="151.9" cy="361" r="2.5"/><circle cx="153.7" cy="361.3" r="2.5"/><circle cx="155.4" cy="362.8" r="2.5"/><circle cx="157.2" cy="363.2" r="2.5"/><circle cx="158.9" cy="364.5" r="2.5"/><circle cx="160.7" cy="364.9" r="2.5"/><circle cx="162.4" cy="365.1" r="2.5"/><circle cx="164.2" cy="366.4" r="2.5"/><circle cx="165.9" cy="367" r="2.5"/><circle cx="167.7" cy="368.2" r="2.5"/><circle cx="169.4" cy="368.5" r="2.5"/><circle cx="171.2" cy="369.2" r="2.5"/><circle cx="172.9" cy="370.4" r="2.5"/><circle cx="174.7" cy="371.1" r="2.5"/><circle cx="176.4" cy="371.2" r="2.5"/><circle cx="178.2" cy="371.5" r="2.5"/><circle cx="179.9" cy="371.4" r="2.5"/><circle cx="181.7" cy="371.7" r="2.5"/><circle cx="183.4" cy="371.9" r="2.5"/><circle cx="185.2" cy="371.7" r="2.5"/><circle cx="186.9" cy="371.6" r="2.5"/><circle cx="188.7" cy="371.7" r="2.5"/><circle cx="190.4" cy="372.8" r="2.5"/><circle cx="192.2" cy="371.7" r="2.5"/><circle cx="193.9" cy="371.6" r="2.5"/><circle cx="195.7" cy="371.6" r="2.5"/><circle cx="197.4" cy="371.8" r="2.5"/><circle cx="199.2" cy="371.9" r="2.5"/><circle cx="200.9" cy="371.3" r="2.5"/><circle cx="202.7" cy="371" r="2.5"/><circle cx="204.4" cy="372" r="2.5"/><circle cx="206.2" cy="371.2" r="2.5"/><circle cx="207.9" cy="372" r="2.5"/><circle cx="209.7" cy="372" r="2.5"/><circle cx="211.4" cy="372.4" r="2.5"/><circle cx="213.2" cy="372.7" r="2.5"/><circle cx="214.9" cy="372.1" r="2.5"/></g>
<g fill="none" stroke="#338236" stroke-width="0.7"><circle cx="24.2" cy="348.6" r="2.5"/><circle cx="25.9" cy="348.3" r="2.5"/><circle cx="27.7" cy="348.4" r="2.5"/><circle cx="29.4" cy="348.8" r="2.5"/><circle cx="31.2" cy="347.9" r="2.5"/><circle cx="33" cy="348.8" r="2.5"/><circle cx="34.7" cy="348.8" r="2.5"/><circle cx="36.5" cy="349.1" r="2.5"/><circle cx="38.2" cy="348.7" r="2.5"/><circle cx="40" cy="348.8" r="2.5"/><circle cx="41.7" cy="348.5" r="2.5"/><circle cx="43.5" cy="348.6" r="2.5"/><circle cx="45.2" cy="348" r="2.5"/><circle cx="47" cy="348.9" r="2.5"/><circle cx="48.7" cy="349.5" r="2.5"/><circle cx="50.5" cy="348.9" r="2.5"/><circle cx="52.2" cy="349" r="2.5"/><circle cx="54" cy="348.2" r="2.5"/><circle cx="55.7" cy="348.8" r="2.5"/><circle cx="57.5" cy="347" r="2.5"/><circle cx="59.2" cy="346.8" r="2.5"/><circle cx="61" cy="345.5" r="2.5"/><circle cx="62.7" cy="344.1" r="2.5"/><circle cx="64.5" cy="343.9" r="2.5"/><circle cx="66.2" cy="342.2" r="2.5"/><circle cx="68" cy="341" r="2.5"/><circle cx="69.7" cy="339.7" r="2.5"/><circle cx="71.5" cy="338.2" r="2.5"/><circle cx="73.2" cy="336.7" r="2.5"/><circle cx="75" cy="335.8" r="2.5"/><circle cx="76.7" cy="334.1" r="2.5"/><circle cx="78.5" cy="333.1" r="2.5"/><circle cx="80.2" cy="331.5" r="2.5"/><circle cx="82" cy="329.8" r="2.5"/><circle cx="83.7" cy="328.8" r="2.5"/><circle cx="85.5" cy="327.5" r="2.5"/><circle cx="87.2" cy="326.3" r="2.5"/><circle cx="89" cy="325.3" r="2.5"/><circle cx="90.7" cy="322.3" r="2.5"/><circle cx="92.5" cy="321.3" r="2.5"/><circle cx="94.2" cy="318.4" r="2.5"/><circle cx="96" cy="317.1" r="2.5"/><circle cx="97.7" cy="315.6" r="2.5"/><circle cx="99.5" cy="313.1" r="2.5"/><circle cx="101.2" cy="311.6" r="2.5"/><circle cx="103" cy="310.7" r="2.5"/><circle cx="104.7" cy="309" r="2.5"/><circle cx="106.5" cy="307.4" r="2.5"/><circle cx="108.2" cy="305.9" r="2.5"/><circle cx="110" cy="306.1" r="2.5"/><circle cx="111.7" cy="304.1" r="2.5"/><circle cx="113.5" cy="303.2" r="2.5"/><circle cx="115.2" cy="304.3" r="2.5"/><circle cx="117" cy="304" r="2.5"/><circle cx="118.7" cy="303.9" r="2.5"/><circle cx="120.5" cy="305.8" r="2.5"/><circle cx="122.2" cy="307.3" r="2.5"/><circle cx="124" cy="309.9" r="2.5"/><circle cx="125.7" cy="312.1" r="2.5"/><circle cx="127.5" cy="314.3" r="2.5"/><circle cx="129.2" cy="318.2" r="2.5"/><circle cx="130.9" cy="320.6" r="2.5"/><circle cx="132.7" cy="322.9" r="2.5"/><circle cx="134.4" cy="325.6" r="2.5"/><circle cx="136.2" cy="328.7" r="2.5"/><circle cx="137.9" cy="330.2" r="2.5"/><circle cx="139.7" cy="332.3" r="2.5"/><circle cx="141.4" cy="334.3" r="2.5"/><circle cx="143.2" cy="335.5" r="2.5"/><circle cx="144.9" cy="336.1" r="2.5"/><circle cx="146.7" cy="338.2" r="2.5"/><circle cx="148.4" cy="339.4" r="2.5"/><circle cx="150.2" cy="340.4" r="2.5"/><circle cx="151.9" cy="341.7" r="2.5"/><circle cx="153.7" cy="342" r="2.5"/><circle cx="155.4" cy="343.1" r="2.5"/><circle cx="157.2" cy="344.3" r="2.5"/><circle cx="158.9" cy="344.3" r="2.5"/><circle cx="160.7" cy="345.9" r="2.5"/><circle cx="162.4" cy="346.7" r="2.5"/><circle cx="164.2" cy="347" r="2.5"/><circle cx="165.9" cy="348.2" r="2.5"/><circle cx="167.7" cy="348.4" r="2.5"/><circle cx="169.4" cy="348.4" r="2.5"/><circle cx="171.2" cy="350.1" r="2.5"/><circle cx="172.9" cy="350.4" r="2.5"/><circle cx="174.7" cy="351" r="2.5"/><circle cx="176.4" cy="351.2" r="2.5"/><circle cx="178.2" cy="351.9" r="2.5"/><circle cx="179.9" cy="351.7" r="2.5"/><circle cx="181.7" cy="351.3" r="2.5"/><circle cx="183.4" cy="352" r="2.5"/><circle cx="185.2" cy="352.1" r="2.5"/><circle cx="186.9" cy="351.5" r="2.5"/><circle cx="188.7" cy="351.7" r="2.5"/><circle cx="190.4" cy="351.7" r="2.5"/><circle cx="192.2" cy="351.7" r="2.5"/><circle cx="193.9" cy="352.1" r="2.5"/><circle cx="195.7" cy="352.5" r="2.5"/><circle cx="197.4" cy="352.9" r="2.5"/><circle cx="199.2" cy="352.6" r="2.5"/><circle cx="200.9" cy="352.5" r="2.5"/><circle cx="202.7" cy="352.6" r="2.5"/><circle cx="204.4" cy="352.7" r="2.5"/><circle cx="206.2" cy="351.9" r="2.5"/><circle cx="207.9" cy="352.4" r="2.5"/><circle cx="209.7" cy="352.3" r="2.5"/><circle cx="211.4" cy="352.1" r="2.5"/><circle cx="213.2" cy="351.9" r="2.5"/><circle cx="214.9" cy="351.9" r="2.5"/></g>
<line x1="175.4" y1="352.2" x2="172.6" y2="511.5" stroke="#e07a2a" stroke-width="0.9" />
<line x1="144.5" y1="381" x2="186.7" y2="396.8" stroke="#222" stroke-width="0.9" stroke-dasharray="1.1 0.9"/>
<line x1="170" y1="392.8" x2="215.5" y2="392.8" stroke="#222" stroke-width="0.9" stroke-dasharray="1.1 0.9"/>
<line x1="138.6" y1="457.6" x2="180.8" y2="476.4" stroke="#222" stroke-width="0.9" stroke-dasharray="1.1 0.9"/>
<line x1="171.4" y1="471.7" x2="215.5" y2="471.7" stroke="#222" stroke-width="0.9" stroke-dasharray="1.1 0.9"/>
<text x="154" y="401.4" font-size="10.5" fill="#1e1e1e">1.66</text>
<text x="153.7" y="481.5" font-size="10.5" fill="#1e1e1e">1.83</text>
<line x1="115.5" y1="307" x2="115.5" y2="459" stroke="#444" stroke-width="0.8" stroke-dasharray="1 1"/>
<line x1="117.5" y1="307" x2="117.5" y2="343" stroke="#444" stroke-width="0.8" stroke-dasharray="1 1"/>
<line x1="115.5" y1="425.4" x2="117.6" y2="348.7" stroke="#1a1a1a" stroke-width="0.65" />
<path d="M117.8,343.3L119.7,348.8 115.5,348.6Z" fill="#1a1a1a"/>
<text x="199.5" y="507.4" font-size="11.2" fill="#1e1e1e" text-anchor="middle">0 h</text>
<text x="199.5" y="485.7" font-size="11.2" fill="#1e1e1e" text-anchor="middle">2 h</text>
<text x="199.5" y="464.5" font-size="11.2" fill="#1e1e1e" text-anchor="middle">4 h</text>
<text x="199.5" y="445.1" font-size="11.2" fill="#1e1e1e" text-anchor="middle">7 h</text>
<text x="200.2" y="425.2" font-size="11.2" fill="#1e1e1e" text-anchor="middle">10 h</text>
<text x="200.2" y="407" font-size="11.2" fill="#1e1e1e" text-anchor="middle">12 h</text>
<text x="200.2" y="386.9" font-size="11.2" fill="#1e1e1e" text-anchor="middle">15 h</text>
<text x="200.2" y="367.1" font-size="11.2" fill="#1e1e1e" text-anchor="middle">19 h</text>
<text x="200.2" y="345" font-size="11.2" fill="#1e1e1e" text-anchor="middle">23 h</text>
<text x="33.3" y="316.5" font-size="11" fill="#1e1e1e">VB</text>
<text x="8.6" y="406.4" font-size="11.3" fill="#1e1e1e" text-anchor="middle" textLength="103" lengthAdjust="spacingAndGlyphs" transform="rotate(-90 8.6 402.4)">Intensity (arb. units)</text>
<text x="118.4" y="544.2" font-size="11" fill="#1e1e1e" text-anchor="middle" textLength="102" lengthAdjust="spacingAndGlyphs">Binding energy (eV)</text>
<rect x="247.5" y="286.5" width="126" height="230" fill="none" stroke="#8a8a8a" stroke-width="1.0"/>
<line x1="366.6" y1="286.9" x2="366.6" y2="289.1" stroke="#8a8a8a" stroke-width="0.8" />
<line x1="356.7" y1="286.9" x2="356.7" y2="289.1" stroke="#8a8a8a" stroke-width="0.8" />
<line x1="346.8" y1="286.9" x2="346.8" y2="289.1" stroke="#8a8a8a" stroke-width="0.8" />
<line x1="336.9" y1="286.9" x2="336.9" y2="289.1" stroke="#8a8a8a" stroke-width="0.8" />
<line x1="327" y1="286.9" x2="327" y2="289.1" stroke="#8a8a8a" stroke-width="0.8" />
<line x1="317.1" y1="286.9" x2="317.1" y2="289.1" stroke="#8a8a8a" stroke-width="0.8" />
<line x1="307.2" y1="286.9" x2="307.2" y2="289.1" stroke="#8a8a8a" stroke-width="0.8" />
<line x1="297.3" y1="286.9" x2="297.3" y2="289.1" stroke="#8a8a8a" stroke-width="0.8" />
<line x1="287.4" y1="286.9" x2="287.4" y2="289.1" stroke="#8a8a8a" stroke-width="0.8" />
<line x1="277.5" y1="286.9" x2="277.5" y2="289.1" stroke="#8a8a8a" stroke-width="0.8" />
<line x1="267.6" y1="286.9" x2="267.6" y2="289.1" stroke="#8a8a8a" stroke-width="0.8" />
<line x1="257.7" y1="286.9" x2="257.7" y2="289.1" stroke="#8a8a8a" stroke-width="0.8" />
<line x1="247.8" y1="286.9" x2="247.8" y2="289.1" stroke="#8a8a8a" stroke-width="0.8" />
<line x1="366.6" y1="516.6" x2="366.6" y2="514.4" stroke="#8a8a8a" stroke-width="0.8" />
<line x1="356.7" y1="516.6" x2="356.7" y2="514.4" stroke="#8a8a8a" stroke-width="0.8" />
<line x1="346.8" y1="516.6" x2="346.8" y2="514.4" stroke="#8a8a8a" stroke-width="0.8" />
<line x1="336.9" y1="516.6" x2="336.9" y2="514.4" stroke="#8a8a8a" stroke-width="0.8" />
<line x1="327" y1="516.6" x2="327" y2="514.4" stroke="#8a8a8a" stroke-width="0.8" />
<line x1="317.1" y1="516.6" x2="317.1" y2="514.4" stroke="#8a8a8a" stroke-width="0.8" />
<line x1="307.2" y1="516.6" x2="307.2" y2="514.4" stroke="#8a8a8a" stroke-width="0.8" />
<line x1="297.3" y1="516.6" x2="297.3" y2="514.4" stroke="#8a8a8a" stroke-width="0.8" />
<line x1="287.4" y1="516.6" x2="287.4" y2="514.4" stroke="#8a8a8a" stroke-width="0.8" />
<line x1="277.5" y1="516.6" x2="277.5" y2="514.4" stroke="#8a8a8a" stroke-width="0.8" />
<line x1="267.6" y1="516.6" x2="267.6" y2="514.4" stroke="#8a8a8a" stroke-width="0.8" />
<line x1="257.7" y1="516.6" x2="257.7" y2="514.4" stroke="#8a8a8a" stroke-width="0.8" />
<line x1="247.8" y1="516.6" x2="247.8" y2="514.4" stroke="#8a8a8a" stroke-width="0.8" />
<line x1="247.3" y1="320" x2="249.3" y2="320" stroke="#8a8a8a" stroke-width="0.8" />
<line x1="247.3" y1="381" x2="249.3" y2="381" stroke="#8a8a8a" stroke-width="0.8" />
<line x1="247.3" y1="442" x2="249.3" y2="442" stroke="#8a8a8a" stroke-width="0.8" />
<line x1="247.3" y1="503" x2="249.3" y2="503" stroke="#8a8a8a" stroke-width="0.8" />
<text x="366.6" y="529.9" font-size="10.8" fill="#1e1e1e" text-anchor="middle">66</text>
<text x="346.8" y="529.9" font-size="10.8" fill="#1e1e1e" text-anchor="middle">67</text>
<text x="327" y="529.9" font-size="10.8" fill="#1e1e1e" text-anchor="middle">68</text>
<text x="307.2" y="529.9" font-size="10.8" fill="#1e1e1e" text-anchor="middle">69</text>
<text x="287.4" y="529.9" font-size="10.8" fill="#1e1e1e" text-anchor="middle">70</text>
<text x="267.6" y="529.9" font-size="10.8" fill="#1e1e1e" text-anchor="middle">71</text>
<text x="247.8" y="529.9" font-size="10.8" fill="#1e1e1e" text-anchor="middle">72</text>
<path d="M247.8,509L248.8,508.6 249.8,509.4 250.8,509.1 251.8,509.2 252.8,509.3 253.8,509.5 254.8,508.9 255.8,509.2 256.8,508.5 257.8,508.2 258.8,508.4 259.8,509.9 260.8,508.4 261.8,509.5 262.8,509.9 263.8,509.1 264.8,510 265.8,510.2 266.8,509.8 267.8,510.4 268.8,509.5 269.8,508.6 270.8,508.7 271.8,507.7 272.8,506.6 273.8,505.9 274.8,506.6 275.8,504.1 276.8,502.7 277.8,500.5 278.8,498.8 279.8,496.5 280.8,493.9 281.8,490.5 282.8,487.1 283.8,483.9 284.8,480.9 285.8,478 286.8,473.8 287.8,470.5 288.8,466.1 289.8,462 290.8,458.1 291.8,456 292.8,452.6 293.8,452.1 294.8,453.3 295.8,453.5 296.8,455 297.8,455.6 298.8,457.2 299.8,460.2 300.8,462.3 301.8,463.5 302.8,462.5 303.8,459 304.8,456.3 305.8,453.1 306.8,448.1 307.8,442.3 308.8,438.5 309.8,434.8 310.8,431.3 311.8,428 312.8,427.9 313.8,428 314.8,430.9 315.8,432.3 316.8,435.6 317.8,440.8 318.8,447.5 319.8,454.4 320.8,461 321.8,470.2 322.8,477.1 323.8,483.7 324.8,490.6 325.8,495.4 326.8,500.1 327.8,502.2 328.8,504.3 329.8,505.2 330.8,506.1 331.8,506.6 332.8,507.3 333.8,508.2 334.8,507.2 335.8,508.4 336.8,508.6 337.8,508.9 338.8,508.4 339.8,509.7 340.8,509.1 341.8,509.4 342.8,509.3 343.8,508.9 344.8,509.5 345.8,508.9 346.8,509.4 347.8,509.7 348.8,509.9 349.8,510 350.8,509.9 351.8,511 352.8,510.3 353.8,509.6 354.8,509.9 355.8,509.9 356.8,510.1 357.8,510 358.8,509.9 359.8,511.1 360.8,510.4 361.8,510.2 362.8,510.3 363.8,510.3 364.8,511.1 365.8,510.7 366.8,511 367.8,509.1 368.8,510.7 369.8,511 370.8,511.5 371.8,510.6 372.8,509.8" fill="none" stroke="#7a5a30" stroke-width="1.15" stroke-linejoin="round" />
<path d="M247.8,492.6L248.8,492.1 249.8,491.5 250.8,492.1 251.8,492.8 252.8,492.9 253.8,492.7 254.8,491.9 255.8,493.6 256.8,491.9 257.8,492.4 258.8,491.8 259.8,493.1 260.8,492.7 261.8,492.9 262.8,492.5 263.8,492.5 264.8,492.6 265.8,491.7 266.8,493 267.8,493 268.8,492.3 269.8,492.2 270.8,491.8 271.8,491.8 272.8,490.6 273.8,489.7 274.8,488.6 275.8,486.9 276.8,485.7 277.8,484.1 278.8,482 279.8,479.9 280.8,477.8 281.8,474.6 282.8,471.2 283.8,468 284.8,464.3 285.8,460.5 286.8,457 287.8,452.4 288.8,449.9 289.8,444.9 290.8,442.6 291.8,439.6 292.8,437.7 293.8,435.9 294.8,435.6 295.8,437.2 296.8,437.9 297.8,439.1 298.8,441 299.8,443.9 300.8,445.8 301.8,446 302.8,444.1 303.8,442.5 304.8,440.1 305.8,437.8 306.8,432.6 307.8,427.3 308.8,423.5 309.8,419.2 310.8,415.8 311.8,413.3 312.8,411.7 313.8,413.4 314.8,414.6 315.8,416.3 316.8,418.6 317.8,424 318.8,430.7 319.8,436.5 320.8,443 321.8,451.1 322.8,457.5 323.8,463.7 324.8,470.6 325.8,476.3 326.8,480.9 327.8,483.4 328.8,485.7 329.8,487.1 330.8,488.1 331.8,489.1 332.8,490.2 333.8,490.9 334.8,491.4 335.8,491.7 336.8,490.3 337.8,491.6 338.8,492.2 339.8,492.6 340.8,491.8 341.8,493.3 342.8,492.9 343.8,492.5 344.8,492.9 345.8,492.8 346.8,492.6 347.8,493.3 348.8,492.9 349.8,492.5 350.8,492.9 351.8,493.2 352.8,492.8 353.8,493.9 354.8,492.9 355.8,494.2 356.8,493.8 357.8,493 358.8,493.5 359.8,494.1 360.8,493.5 361.8,493 362.8,493.7 363.8,494.5 364.8,493 365.8,493.9 366.8,493.7 367.8,493.7 368.8,493.6 369.8,493.6 370.8,494.3 371.8,494.1 372.8,493.4" fill="none" stroke="#c07636" stroke-width="1.15" stroke-linejoin="round" />
<path d="M247.8,477.6L248.8,476.4 249.8,477.3 250.8,477.1 251.8,477.5 252.8,477.2 253.8,477.5 254.8,477 255.8,477.5 256.8,477.2 257.8,478 258.8,476.8 259.8,477.6 260.8,477.3 261.8,477.2 262.8,476.9 263.8,477.3 264.8,476.5 265.8,476.5 266.8,477.5 267.8,476.5 268.8,477.7 269.8,476.7 270.8,476.4 271.8,475.8 272.8,475.3 273.8,474.2 274.8,473.3 275.8,472.1 276.8,471.1 277.8,469.3 278.8,467.4 279.8,464.8 280.8,462.1 281.8,458.5 282.8,456.2 283.8,452.9 284.8,448.8 285.8,445.7 286.8,442.2 287.8,438.1 288.8,434.7 289.8,430.6 290.8,426.3 291.8,424.4 292.8,422.1 293.8,421.1 294.8,420.5 295.8,421.4 296.8,422.1 297.8,423.7 298.8,425.5 299.8,428.3 300.8,430.2 301.8,430.4 302.8,429.6 303.8,427.6 304.8,425.1 305.8,422.9 306.8,416.9 307.8,413.1 308.8,409 309.8,405.6 310.8,401.3 311.8,399.5 312.8,398.7 313.8,398.3 314.8,398.8 315.8,401.3 316.8,403.4 317.8,408.6 318.8,413.5 319.8,421 320.8,426.8 321.8,433.5 322.8,440.6 323.8,446.9 324.8,453.6 325.8,459.8 326.8,463.6 327.8,467 328.8,468.4 329.8,470.9 330.8,473.3 331.8,472.7 332.8,474.6 333.8,475.3 334.8,474.5 335.8,475.1 336.8,475.7 337.8,476.9 338.8,476.6 339.8,476.9 340.8,477.4 341.8,477.3 342.8,477.4 343.8,477.2 344.8,478 345.8,477.2 346.8,478.3 347.8,477.5 348.8,477.3 349.8,478 350.8,478 351.8,476.9 352.8,478 353.8,477.3 354.8,477.6 355.8,478.3 356.8,477.6 357.8,478.2 358.8,477.9 359.8,479 360.8,478.1 361.8,477.7 362.8,477.7 363.8,477.8 364.8,478.3 365.8,478.3 366.8,478.7 367.8,478.4 368.8,478.4 369.8,478.5 370.8,478.3 371.8,478.5 372.8,478.8" fill="none" stroke="#cf8240" stroke-width="1.15" stroke-linejoin="round" />
<path d="M247.8,461.1L248.8,460.5 249.8,460 250.8,460.4 251.8,460.9 252.8,459.7 253.8,460.6 254.8,461 255.8,460.6 256.8,460.3 257.8,461.6 258.8,461.5 259.8,460.8 260.8,461.5 261.8,461.5 262.8,460.4 263.8,462.1 264.8,460.5 265.8,460.8 266.8,460.5 267.8,461 268.8,460.3 269.8,460.6 270.8,460.6 271.8,459.6 272.8,458.7 273.8,458.8 274.8,456.8 275.8,456.4 276.8,454.3 277.8,452.7 278.8,450.7 279.8,448.6 280.8,446.1 281.8,442.8 282.8,439.6 283.8,436.7 284.8,433 285.8,428.8 286.8,425.4 287.8,421.8 288.8,418.3 289.8,414.6 290.8,411.3 291.8,408.5 292.8,406.5 293.8,404.5 294.8,403.7 295.8,405.5 296.8,405.8 297.8,407.2 298.8,408.7 299.8,411.7 300.8,412.8 301.8,414.1 302.8,413 303.8,411 304.8,408.5 305.8,406.8 306.8,403 307.8,398.5 308.8,394.7 309.8,390.3 310.8,387.2 311.8,384.5 312.8,383.4 313.8,383.1 314.8,383.7 315.8,386.6 316.8,387.1 317.8,392 318.8,397.1 319.8,402.8 320.8,408.7 321.8,415.9 322.8,422.6 323.8,428.7 324.8,435.2 325.8,440.8 326.8,445.3 327.8,449 328.8,450.9 329.8,453.8 330.8,455.1 331.8,456.7 332.8,457.4 333.8,458.3 334.8,458.3 335.8,459 336.8,459.3 337.8,460.1 338.8,460.7 339.8,461.1 340.8,460.5 341.8,460.9 342.8,460.3 343.8,460.1 344.8,460.8 345.8,461 346.8,460.6 347.8,460.6 348.8,461.7 349.8,461.1 350.8,460.8 351.8,462.6 352.8,461.7 353.8,461.5 354.8,462 355.8,461.4 356.8,462.5 357.8,461.1 358.8,461.3 359.8,461.8 360.8,461.6 361.8,462.6 362.8,461.2 363.8,461.7 364.8,462.1 365.8,462.3 366.8,462.5 367.8,462.2 368.8,463.1 369.8,461.9 370.8,462.2 371.8,462.5 372.8,462" fill="none" stroke="#f49a3e" stroke-width="1.15" stroke-linejoin="round" />
<path d="M247.8,443.3L248.8,443.2 249.8,443.1 250.8,442.9 251.8,443.2 252.8,442.8 253.8,443.6 254.8,442.8 255.8,444.4 256.8,444.3 257.8,444 258.8,443.4 259.8,443.3 260.8,444.1 261.8,443.6 262.8,443.8 263.8,443.3 264.8,444.1 265.8,443.2 266.8,443.7 267.8,442.8 268.8,443.2 269.8,443.5 270.8,442.6 271.8,442 272.8,441.9 273.8,440.8 274.8,440.5 275.8,437.6 276.8,437.4 277.8,435.6 278.8,432.7 279.8,430.7 280.8,429.3 281.8,425.5 282.8,422.4 283.8,419.6 284.8,415.8 285.8,412.5 286.8,408.2 287.8,405.1 288.8,401.7 289.8,397.6 290.8,393.2 291.8,392.1 292.8,389.6 293.8,387.8 294.8,388.5 295.8,387.6 296.8,390.2 297.8,390.1 298.8,392.6 299.8,393.9 300.8,395.2 301.8,396.6 302.8,396.1 303.8,394.6 304.8,392.8 305.8,389.4 306.8,386.6 307.8,382.4 308.8,377.7 309.8,373.8 310.8,370.7 311.8,369 312.8,367.6 313.8,366.5 314.8,366.8 315.8,369.4 316.8,370.2 317.8,374.5 318.8,378.4 319.8,383.5 320.8,390.5 321.8,397 322.8,404.3 323.8,411 324.8,416 325.8,422.2 326.8,426.8 327.8,429.6 328.8,432.4 329.8,436 330.8,437.1 331.8,438.6 332.8,439.5 333.8,440.4 334.8,440.9 335.8,442.1 336.8,442.8 337.8,442.4 338.8,442.3 339.8,443.2 340.8,442.7 341.8,443.2 342.8,444.2 343.8,444.8 344.8,444 345.8,443.4 346.8,444.3 347.8,443 348.8,443.8 349.8,444.8 350.8,444.5 351.8,443.6 352.8,443.5 353.8,444.7 354.8,444.3 355.8,444.1 356.8,444.6 357.8,444.2 358.8,443.7 359.8,444.9 360.8,444.3 361.8,444.2 362.8,444 363.8,444.8 364.8,444.3 365.8,445 366.8,444.6 367.8,445.3 368.8,444.6 369.8,444.5 370.8,443.9 371.8,444.4 372.8,445.2" fill="none" stroke="#fbcd68" stroke-width="1.15" stroke-linejoin="round" />
<path d="M247.8,428.5L248.8,426.6 249.8,426.7 250.8,427.4 251.8,427.4 252.8,426.9 253.8,427.3 254.8,426.5 255.8,427.1 256.8,427.7 257.8,428 258.8,427.2 259.8,427.2 260.8,427.5 261.8,427.8 262.8,427.6 263.8,427 264.8,427.5 265.8,427.8 266.8,427.1 267.8,426.8 268.8,427.5 269.8,427.2 270.8,427 271.8,426 272.8,425 273.8,424.4 274.8,423.3 275.8,422.1 276.8,420.7 277.8,419 278.8,417.8 279.8,414.7 280.8,412.8 281.8,409.7 282.8,407.4 283.8,403.5 284.8,399.8 285.8,396.7 286.8,392.7 287.8,388.9 288.8,386 289.8,381.9 290.8,379.1 291.8,376.5 292.8,374.2 293.8,372.5 294.8,371.5 295.8,372.8 296.8,373.3 297.8,374.6 298.8,375.7 299.8,377.3 300.8,378.9 301.8,380.5 302.8,380.3 303.8,378.3 304.8,376.7 305.8,374.9 306.8,370.8 307.8,366.9 308.8,362.4 309.8,359.8 310.8,356.5 311.8,353.7 312.8,351.6 313.8,351.5 314.8,352.3 315.8,352.9 316.8,354.8 317.8,358.3 318.8,361.4 319.8,367 320.8,373.3 321.8,379.1 322.8,385.3 323.8,392 324.8,398 325.8,403.6 326.8,408.4 327.8,412.2 328.8,415 329.8,417.9 330.8,420.6 331.8,422.4 332.8,423.6 333.8,423.6 334.8,425.2 335.8,425.7 336.8,425.8 337.8,426.4 338.8,426.9 339.8,427.6 340.8,426.6 341.8,427.5 342.8,427.4 343.8,427.5 344.8,428.2 345.8,428.1 346.8,427.3 347.8,427.7 348.8,428 349.8,427.3 350.8,428.4 351.8,428 352.8,428.2 353.8,428.3 354.8,429 355.8,428.2 356.8,428.1 357.8,429.1 358.8,428.1 359.8,428.1 360.8,427.8 361.8,428.9 362.8,428.6 363.8,428.7 364.8,428.6 365.8,428.5 366.8,428.2 367.8,428.2 368.8,428.8 369.8,428.7 370.8,429.4 371.8,428.3 372.8,428.5" fill="none" stroke="#d4e488" stroke-width="1.15" stroke-linejoin="round" />
<path d="M247.8,410.6L248.8,411.7 249.8,410.6 250.8,411.5 251.8,411.8 252.8,411.1 253.8,411.5 254.8,410.2 255.8,411 256.8,410.5 257.8,411.3 258.8,411.2 259.8,410.9 260.8,411.7 261.8,411.4 262.8,411 263.8,411.1 264.8,410.6 265.8,411.2 266.8,412.3 267.8,411 268.8,411.4 269.8,410.7 270.8,410.8 271.8,410.1 272.8,409.1 273.8,407.7 274.8,407.4 275.8,407 276.8,404.8 277.8,403.5 278.8,401.1 279.8,398.4 280.8,397.1 281.8,394.2 282.8,390.6 283.8,387.3 284.8,384.2 285.8,380.2 286.8,377 287.8,373.2 288.8,368.5 289.8,365.8 290.8,362.4 291.8,359.9 292.8,358.4 293.8,356.5 294.8,356.5 295.8,357.1 296.8,357.5 297.8,357.7 298.8,359.3 299.8,361.8 300.8,363 301.8,363.7 302.8,363.7 303.8,362.8 304.8,360.9 305.8,359.1 306.8,355.6 307.8,352 308.8,347.9 309.8,344.4 310.8,340.8 311.8,339.1 312.8,336.8 313.8,337.1 314.8,337.2 315.8,338.2 316.8,339.5 317.8,341.6 318.8,345.6 319.8,349.8 320.8,355.9 321.8,361.5 322.8,367.7 323.8,374.3 324.8,381 325.8,385.8 326.8,391.5 327.8,395.7 328.8,397.5 329.8,401.2 330.8,403.3 331.8,405.3 332.8,406.3 333.8,407.5 334.8,408.8 335.8,409.4 336.8,409.6 337.8,409.9 338.8,410.4 339.8,410.7 340.8,411.1 341.8,411.1 342.8,411.5 343.8,410.9 344.8,411.9 345.8,412.4 346.8,411.7 347.8,411.1 348.8,412.4 349.8,411.7 350.8,410.6 351.8,411.8 352.8,412.2 353.8,412.2 354.8,412.6 355.8,412.4 356.8,412.2 357.8,411.3 358.8,411.7 359.8,412.3 360.8,412.6 361.8,411.9 362.8,412.1 363.8,412.6 364.8,411.6 365.8,411.6 366.8,412.4 367.8,412.6 368.8,412.3 369.8,411.5 370.8,412.6 371.8,412 372.8,412.9" fill="none" stroke="#cbdf7a" stroke-width="1.15" stroke-linejoin="round" />
<path d="M247.8,393.7L248.8,393.8 249.8,394 250.8,393.5 251.8,394.1 252.8,394.3 253.8,393.9 254.8,394.4 255.8,393.5 256.8,394.2 257.8,393.9 258.8,393.4 259.8,393.8 260.8,393.6 261.8,393.6 262.8,393.9 263.8,394.4 264.8,393.8 265.8,394 266.8,393.3 267.8,394 268.8,394.4 269.8,393.9 270.8,393.3 271.8,392.3 272.8,391.4 273.8,391.1 274.8,389.7 275.8,388.5 276.8,388 277.8,385.5 278.8,384.8 279.8,381.3 280.8,379.9 281.8,376.3 282.8,373.7 283.8,369.9 284.8,367 285.8,363.3 286.8,359.5 287.8,356.4 288.8,353.1 289.8,348.5 290.8,346 291.8,343.4 292.8,341.3 293.8,340.8 294.8,338.2 295.8,339.2 296.8,339.4 297.8,341 298.8,342.2 299.8,345.6 300.8,345.7 301.8,347.3 302.8,347 303.8,345.2 304.8,344.1 305.8,342.7 306.8,339.6 307.8,336 308.8,332.1 309.8,327.6 310.8,325.3 311.8,323.4 312.8,321.5 313.8,319.6 314.8,319.7 315.8,320.5 316.8,322 317.8,324.7 318.8,327.2 319.8,331.6 320.8,336.5 321.8,342.7 322.8,349 323.8,354.3 324.8,361.2 325.8,366.4 326.8,371 327.8,375.9 328.8,379.2 329.8,382.6 330.8,385.4 331.8,387.4 332.8,389.9 333.8,388.8 334.8,390.7 335.8,391.3 336.8,392.4 337.8,392.2 338.8,391.7 339.8,393.7 340.8,392.9 341.8,393.6 342.8,393.3 343.8,393.5 344.8,393.9 345.8,394.6 346.8,394.6 347.8,394 348.8,394.6 349.8,394.2 350.8,394.5 351.8,394.6 352.8,394.8 353.8,394.3 354.8,394.6 355.8,394.8 356.8,394.8 357.8,394.4 358.8,395.6 359.8,394.6 360.8,395.2 361.8,395 362.8,395.5 363.8,394 364.8,395.9 365.8,394.9 366.8,394.5 367.8,395.1 368.8,396.1 369.8,395.3 370.8,394.6 371.8,395 372.8,395.8" fill="none" stroke="#86b652" stroke-width="1.15" stroke-linejoin="round" />
<path d="M247.8,378.6L248.8,379.1 249.8,379.1 250.8,380.2 251.8,379.1 252.8,379.8 253.8,379 254.8,378.9 255.8,379.7 256.8,379.6 257.8,378.5 258.8,379.6 259.8,379.6 260.8,379.1 261.8,379.5 262.8,379.5 263.8,379.2 264.8,379.1 265.8,379.1 266.8,379.3 267.8,378.8 268.8,379.3 269.8,378.4 270.8,378.6 271.8,378 272.8,376.9 273.8,377 274.8,376.6 275.8,375.2 276.8,372.5 277.8,372 278.8,369.6 279.8,367.5 280.8,364.9 281.8,362.4 282.8,359.8 283.8,356.1 284.8,352.3 285.8,348.6 286.8,345.1 287.8,342 288.8,338.8 289.8,333.8 290.8,331.1 291.8,328.7 292.8,326.6 293.8,325.5 294.8,324.9 295.8,324.2 296.8,325.1 297.8,327 298.8,327.6 299.8,329.2 300.8,330.4 301.8,331.5 302.8,331.9 303.8,330.6 304.8,328.9 305.8,327.7 306.8,326 307.8,321.7 308.8,318.6 309.8,314.9 310.8,311.7 311.8,309.7 312.8,307.5 313.8,306.3 314.8,305.8 315.8,305.5 316.8,306.8 317.8,309.7 318.8,311.6 319.8,315.8 320.8,321.2 321.8,327.6 322.8,332 323.8,339 324.8,344.3 325.8,350.7 326.8,355.7 327.8,359 328.8,364 329.8,367.4 330.8,370.3 331.8,372.4 332.8,373.3 333.8,374.5 334.8,376.2 335.8,377 336.8,377 337.8,377 338.8,379.1 339.8,379 340.8,379 341.8,378.6 342.8,379.1 343.8,379.6 344.8,379.2 345.8,380.4 346.8,379.8 347.8,380 348.8,379.4 349.8,379.5 350.8,379.6 351.8,380.1 352.8,379.9 353.8,380 354.8,380.3 355.8,380.3 356.8,380.9 357.8,380.2 358.8,379.9 359.8,380.3 360.8,381 361.8,380.2 362.8,380.5 363.8,380.3 364.8,380.7 365.8,380.6 366.8,380.2 367.8,380.5 368.8,381 369.8,381.1 370.8,381 371.8,381 372.8,380.5" fill="none" stroke="#529840" stroke-width="1.15" stroke-linejoin="round" />
<line x1="294.5" y1="308" x2="294.5" y2="482" stroke="#444" stroke-width="0.8" stroke-dasharray="1 1"/>
<line x1="296.5" y1="308" x2="296.5" y2="373" stroke="#444" stroke-width="0.8" stroke-dasharray="1 1"/>
<line x1="313.5" y1="294" x2="313.5" y2="470" stroke="#444" stroke-width="0.8" stroke-dasharray="1 1"/>
<line x1="316.5" y1="294" x2="316.5" y2="352" stroke="#444" stroke-width="0.8" stroke-dasharray="1 1"/>
<line x1="294.4" y1="435.5" x2="296.1" y2="378.8" stroke="#111" stroke-width="0.8" />
<path d="M296.3,372.6L298.6,378.9 293.6,378.7Z" fill="#111"/>
<line x1="313.6" y1="423.2" x2="315.4" y2="357.9" stroke="#111" stroke-width="0.8" />
<path d="M315.6,351.7L317.9,358 312.9,357.8Z" fill="#111"/>
<text x="359.1" y="506.4" font-size="11.2" fill="#1e1e1e" text-anchor="middle">0 h</text>
<text x="359.1" y="490.1" font-size="11.2" fill="#1e1e1e" text-anchor="middle">2 h</text>
<text x="359.1" y="473.9" font-size="11.2" fill="#1e1e1e" text-anchor="middle">4 h</text>
<text x="359.1" y="457.3" font-size="11.2" fill="#1e1e1e" text-anchor="middle">7 h</text>
<text x="359.1" y="440.1" font-size="11.2" fill="#1e1e1e" text-anchor="middle">10 h</text>
<text x="359.1" y="424.2" font-size="11.2" fill="#1e1e1e" text-anchor="middle">12 h</text>
<text x="359.1" y="407.6" font-size="11.2" fill="#1e1e1e" text-anchor="middle">15 h</text>
<text x="359.1" y="392.3" font-size="11.2" fill="#1e1e1e" text-anchor="middle">19 h</text>
<text x="359.1" y="377" font-size="11.2" fill="#1e1e1e" text-anchor="middle">23 h</text>
<text x="253.5" y="312.4" font-size="11" fill="#1e1e1e">Br 3 <tspan font-style="italic">d</tspan></text>
<text x="235.6" y="406.2" font-size="11.3" fill="#1e1e1e" text-anchor="middle" textLength="109.6" lengthAdjust="spacingAndGlyphs" transform="rotate(-90 235.6 402.2)">Intensity (arb. units)</text>
<text x="309.3" y="544.6" font-size="11" fill="#1e1e1e" text-anchor="middle" textLength="103.8" lengthAdjust="spacingAndGlyphs">Binding energy (eV)</text>
<defs>
<radialGradient id="sph" cx="0.38" cy="0.35" r="0.65"><stop offset="0" stop-color="#c8c8c8"/><stop offset="0.3" stop-color="#3a3a3a"/><stop offset="1" stop-color="#000"/></radialGradient>
<radialGradient id="sphg" cx="0.38" cy="0.35" r="0.65"><stop offset="0" stop-color="#dddddd"/><stop offset="0.35" stop-color="#7a7f84"/><stop offset="1" stop-color="#33383c"/></radialGradient>
<radialGradient id="dot" cx="0.4" cy="0.38" r="0.62"><stop offset="0" stop-color="#9a9a9a"/><stop offset="0.45" stop-color="#222"/><stop offset="1" stop-color="#000"/></radialGradient>
</defs>
<rect x="419" y="287.2" width="191.29999999999995" height="89.2" fill="#cde3ef"/>
<rect x="419" y="376.4" width="191.29999999999995" height="98.2" fill="#fdf7d9"/>
<rect x="419" y="474.6" width="191.29999999999995" height="44.6" fill="#efefef"/>
<line x1="419" y1="510.3" x2="422.5" y2="510.3" stroke="#222" stroke-width="0.8" />
<line x1="419" y1="496.9" x2="421" y2="496.9" stroke="#222" stroke-width="0.8" />
<line x1="419" y1="483.5" x2="422.5" y2="483.5" stroke="#222" stroke-width="0.8" />
<line x1="419" y1="470.1" x2="421" y2="470.1" stroke="#222" stroke-width="0.8" />
<line x1="419" y1="456.7" x2="422.5" y2="456.7" stroke="#222" stroke-width="0.8" />
<line x1="419" y1="443.3" x2="421" y2="443.3" stroke="#222" stroke-width="0.8" />
<line x1="419" y1="429.9" x2="422.5" y2="429.9" stroke="#222" stroke-width="0.8" />
<line x1="419" y1="416.5" x2="421" y2="416.5" stroke="#222" stroke-width="0.8" />
<line x1="419" y1="403.1" x2="422.5" y2="403.1" stroke="#222" stroke-width="0.8" />
<line x1="419" y1="389.7" x2="421" y2="389.7" stroke="#222" stroke-width="0.8" />
<line x1="419" y1="376.4" x2="422.5" y2="376.4" stroke="#222" stroke-width="0.8" />
<line x1="419" y1="363" x2="421" y2="363" stroke="#222" stroke-width="0.8" />
<line x1="419" y1="349.6" x2="422.5" y2="349.6" stroke="#222" stroke-width="0.8" />
<line x1="419" y1="336.2" x2="421" y2="336.2" stroke="#222" stroke-width="0.8" />
<line x1="419" y1="322.8" x2="422.5" y2="322.8" stroke="#222" stroke-width="0.8" />
<line x1="419" y1="309.4" x2="421" y2="309.4" stroke="#222" stroke-width="0.8" />
<line x1="419" y1="296" x2="422.5" y2="296" stroke="#222" stroke-width="0.8" />
<line x1="495.4" y1="510.3" x2="491.9" y2="510.3" stroke="#222" stroke-width="0.8" />
<line x1="495.4" y1="510.3" x2="498.9" y2="510.3" stroke="#222" stroke-width="0.8" />
<line x1="495.4" y1="496.9" x2="493.4" y2="496.9" stroke="#222" stroke-width="0.8" />
<line x1="495.4" y1="496.9" x2="497.4" y2="496.9" stroke="#222" stroke-width="0.8" />
<line x1="495.4" y1="483.5" x2="491.9" y2="483.5" stroke="#222" stroke-width="0.8" />
<line x1="495.4" y1="483.5" x2="498.9" y2="483.5" stroke="#222" stroke-width="0.8" />
<line x1="495.4" y1="470.1" x2="493.4" y2="470.1" stroke="#222" stroke-width="0.8" />
<line x1="495.4" y1="470.1" x2="497.4" y2="470.1" stroke="#222" stroke-width="0.8" />
<line x1="495.4" y1="456.7" x2="491.9" y2="456.7" stroke="#222" stroke-width="0.8" />
<line x1="495.4" y1="456.7" x2="498.9" y2="456.7" stroke="#222" stroke-width="0.8" />
<line x1="495.4" y1="443.3" x2="493.4" y2="443.3" stroke="#222" stroke-width="0.8" />
<line x1="495.4" y1="443.3" x2="497.4" y2="443.3" stroke="#222" stroke-width="0.8" />
<line x1="495.4" y1="429.9" x2="491.9" y2="429.9" stroke="#222" stroke-width="0.8" />
<line x1="495.4" y1="429.9" x2="498.9" y2="429.9" stroke="#222" stroke-width="0.8" />
<line x1="495.4" y1="416.5" x2="493.4" y2="416.5" stroke="#222" stroke-width="0.8" />
<line x1="495.4" y1="416.5" x2="497.4" y2="416.5" stroke="#222" stroke-width="0.8" />
<line x1="495.4" y1="403.1" x2="491.9" y2="403.1" stroke="#222" stroke-width="0.8" />
<line x1="495.4" y1="403.1" x2="498.9" y2="403.1" stroke="#222" stroke-width="0.8" />
<line x1="495.4" y1="389.7" x2="493.4" y2="389.7" stroke="#222" stroke-width="0.8" />
<line x1="495.4" y1="389.7" x2="497.4" y2="389.7" stroke="#222" stroke-width="0.8" />
<line x1="495.4" y1="376.4" x2="491.9" y2="376.4" stroke="#222" stroke-width="0.8" />
<line x1="495.4" y1="376.4" x2="498.9" y2="376.4" stroke="#222" stroke-width="0.8" />
<line x1="495.4" y1="363" x2="493.4" y2="363" stroke="#222" stroke-width="0.8" />
<line x1="495.4" y1="363" x2="497.4" y2="363" stroke="#222" stroke-width="0.8" />
<line x1="495.4" y1="349.6" x2="491.9" y2="349.6" stroke="#222" stroke-width="0.8" />
<line x1="495.4" y1="349.6" x2="498.9" y2="349.6" stroke="#222" stroke-width="0.8" />
<line x1="495.4" y1="336.2" x2="493.4" y2="336.2" stroke="#222" stroke-width="0.8" />
<line x1="495.4" y1="336.2" x2="497.4" y2="336.2" stroke="#222" stroke-width="0.8" />
<line x1="495.4" y1="322.8" x2="491.9" y2="322.8" stroke="#222" stroke-width="0.8" />
<line x1="495.4" y1="322.8" x2="498.9" y2="322.8" stroke="#222" stroke-width="0.8" />
<line x1="495.4" y1="309.4" x2="493.4" y2="309.4" stroke="#222" stroke-width="0.8" />
<line x1="495.4" y1="309.4" x2="497.4" y2="309.4" stroke="#222" stroke-width="0.8" />
<line x1="495.4" y1="296" x2="491.9" y2="296" stroke="#222" stroke-width="0.8" />
<line x1="495.4" y1="296" x2="498.9" y2="296" stroke="#222" stroke-width="0.8" />
<line x1="533.2" y1="510.3" x2="529.7" y2="510.3" stroke="#222" stroke-width="0.8" />
<line x1="533.2" y1="510.3" x2="536.7" y2="510.3" stroke="#222" stroke-width="0.8" />
<line x1="533.2" y1="496.9" x2="531.2" y2="496.9" stroke="#222" stroke-width="0.8" />
<line x1="533.2" y1="496.9" x2="535.2" y2="496.9" stroke="#222" stroke-width="0.8" />
<line x1="533.2" y1="483.5" x2="529.7" y2="483.5" stroke="#222" stroke-width="0.8" />
<line x1="533.2" y1="483.5" x2="536.7" y2="483.5" stroke="#222" stroke-width="0.8" />
<line x1="533.2" y1="470.1" x2="531.2" y2="470.1" stroke="#222" stroke-width="0.8" />
<line x1="533.2" y1="470.1" x2="535.2" y2="470.1" stroke="#222" stroke-width="0.8" />
<line x1="533.2" y1="456.7" x2="529.7" y2="456.7" stroke="#222" stroke-width="0.8" />
<line x1="533.2" y1="456.7" x2="536.7" y2="456.7" stroke="#222" stroke-width="0.8" />
<line x1="533.2" y1="443.3" x2="531.2" y2="443.3" stroke="#222" stroke-width="0.8" />
<line x1="533.2" y1="443.3" x2="535.2" y2="443.3" stroke="#222" stroke-width="0.8" />
<line x1="533.2" y1="429.9" x2="529.7" y2="429.9" stroke="#222" stroke-width="0.8" />
<line x1="533.2" y1="429.9" x2="536.7" y2="429.9" stroke="#222" stroke-width="0.8" />
<line x1="533.2" y1="416.5" x2="531.2" y2="416.5" stroke="#222" stroke-width="0.8" />
<line x1="533.2" y1="416.5" x2="535.2" y2="416.5" stroke="#222" stroke-width="0.8" />
<line x1="533.2" y1="403.1" x2="529.7" y2="403.1" stroke="#222" stroke-width="0.8" />
<line x1="533.2" y1="403.1" x2="536.7" y2="403.1" stroke="#222" stroke-width="0.8" />
<line x1="533.2" y1="389.7" x2="531.2" y2="389.7" stroke="#222" stroke-width="0.8" />
<line x1="533.2" y1="389.7" x2="535.2" y2="389.7" stroke="#222" stroke-width="0.8" />
<line x1="533.2" y1="376.4" x2="529.7" y2="376.4" stroke="#222" stroke-width="0.8" />
<line x1="533.2" y1="376.4" x2="536.7" y2="376.4" stroke="#222" stroke-width="0.8" />
<line x1="533.2" y1="363" x2="531.2" y2="363" stroke="#222" stroke-width="0.8" />
<line x1="533.2" y1="363" x2="535.2" y2="363" stroke="#222" stroke-width="0.8" />
<line x1="533.2" y1="349.6" x2="529.7" y2="349.6" stroke="#222" stroke-width="0.8" />
<line x1="533.2" y1="349.6" x2="536.7" y2="349.6" stroke="#222" stroke-width="0.8" />
<line x1="533.2" y1="336.2" x2="531.2" y2="336.2" stroke="#222" stroke-width="0.8" />
<line x1="533.2" y1="336.2" x2="535.2" y2="336.2" stroke="#222" stroke-width="0.8" />
<line x1="533.2" y1="322.8" x2="529.7" y2="322.8" stroke="#222" stroke-width="0.8" />
<line x1="533.2" y1="322.8" x2="536.7" y2="322.8" stroke="#222" stroke-width="0.8" />
<line x1="533.2" y1="309.4" x2="531.2" y2="309.4" stroke="#222" stroke-width="0.8" />
<line x1="533.2" y1="309.4" x2="535.2" y2="309.4" stroke="#222" stroke-width="0.8" />
<line x1="533.2" y1="296" x2="529.7" y2="296" stroke="#222" stroke-width="0.8" />
<line x1="533.2" y1="296" x2="536.7" y2="296" stroke="#222" stroke-width="0.8" />
<line x1="571.8" y1="510.3" x2="568.3" y2="510.3" stroke="#222" stroke-width="0.8" />
<line x1="571.8" y1="510.3" x2="575.3" y2="510.3" stroke="#222" stroke-width="0.8" />
<line x1="571.8" y1="496.9" x2="569.8" y2="496.9" stroke="#222" stroke-width="0.8" />
<line x1="571.8" y1="496.9" x2="573.8" y2="496.9" stroke="#222" stroke-width="0.8" />
<line x1="571.8" y1="483.5" x2="568.3" y2="483.5" stroke="#222" stroke-width="0.8" />
<line x1="571.8" y1="483.5" x2="575.3" y2="483.5" stroke="#222" stroke-width="0.8" />
<line x1="571.8" y1="470.1" x2="569.8" y2="470.1" stroke="#222" stroke-width="0.8" />
<line x1="571.8" y1="470.1" x2="573.8" y2="470.1" stroke="#222" stroke-width="0.8" />
<line x1="571.8" y1="456.7" x2="568.3" y2="456.7" stroke="#222" stroke-width="0.8" />
<line x1="571.8" y1="456.7" x2="575.3" y2="456.7" stroke="#222" stroke-width="0.8" />
<line x1="571.8" y1="443.3" x2="569.8" y2="443.3" stroke="#222" stroke-width="0.8" />
<line x1="571.8" y1="443.3" x2="573.8" y2="443.3" stroke="#222" stroke-width="0.8" />
<line x1="571.8" y1="429.9" x2="568.3" y2="429.9" stroke="#222" stroke-width="0.8" />
<line x1="571.8" y1="429.9" x2="575.3" y2="429.9" stroke="#222" stroke-width="0.8" />
<line x1="571.8" y1="416.5" x2="569.8" y2="416.5" stroke="#222" stroke-width="0.8" />
<line x1="571.8" y1="416.5" x2="573.8" y2="416.5" stroke="#222" stroke-width="0.8" />
<line x1="571.8" y1="403.1" x2="568.3" y2="403.1" stroke="#222" stroke-width="0.8" />
<line x1="571.8" y1="403.1" x2="575.3" y2="403.1" stroke="#222" stroke-width="0.8" />
<line x1="571.8" y1="389.7" x2="569.8" y2="389.7" stroke="#222" stroke-width="0.8" />
<line x1="571.8" y1="389.7" x2="573.8" y2="389.7" stroke="#222" stroke-width="0.8" />
<line x1="571.8" y1="376.4" x2="568.3" y2="376.4" stroke="#222" stroke-width="0.8" />
<line x1="571.8" y1="376.4" x2="575.3" y2="376.4" stroke="#222" stroke-width="0.8" />
<line x1="571.8" y1="363" x2="569.8" y2="363" stroke="#222" stroke-width="0.8" />
<line x1="571.8" y1="363" x2="573.8" y2="363" stroke="#222" stroke-width="0.8" />
<line x1="571.8" y1="349.6" x2="568.3" y2="349.6" stroke="#222" stroke-width="0.8" />
<line x1="571.8" y1="349.6" x2="575.3" y2="349.6" stroke="#222" stroke-width="0.8" />
<line x1="571.8" y1="336.2" x2="569.8" y2="336.2" stroke="#222" stroke-width="0.8" />
<line x1="571.8" y1="336.2" x2="573.8" y2="336.2" stroke="#222" stroke-width="0.8" />
<line x1="571.8" y1="322.8" x2="568.3" y2="322.8" stroke="#222" stroke-width="0.8" />
<line x1="571.8" y1="322.8" x2="575.3" y2="322.8" stroke="#222" stroke-width="0.8" />
<line x1="571.8" y1="309.4" x2="569.8" y2="309.4" stroke="#222" stroke-width="0.8" />
<line x1="571.8" y1="309.4" x2="573.8" y2="309.4" stroke="#222" stroke-width="0.8" />
<line x1="571.8" y1="296" x2="568.3" y2="296" stroke="#222" stroke-width="0.8" />
<line x1="571.8" y1="296" x2="575.3" y2="296" stroke="#222" stroke-width="0.8" />
<line x1="610.3" y1="510.3" x2="606.8" y2="510.3" stroke="#222" stroke-width="0.8" />
<line x1="610.3" y1="510.3" x2="613.8" y2="510.3" stroke="#222" stroke-width="0.8" />
<line x1="610.3" y1="496.9" x2="608.3" y2="496.9" stroke="#222" stroke-width="0.8" />
<line x1="610.3" y1="496.9" x2="612.3" y2="496.9" stroke="#222" stroke-width="0.8" />
<line x1="610.3" y1="483.5" x2="606.8" y2="483.5" stroke="#222" stroke-width="0.8" />
<line x1="610.3" y1="483.5" x2="613.8" y2="483.5" stroke="#222" stroke-width="0.8" />
<line x1="610.3" y1="470.1" x2="608.3" y2="470.1" stroke="#222" stroke-width="0.8" />
<line x1="610.3" y1="470.1" x2="612.3" y2="470.1" stroke="#222" stroke-width="0.8" />
<line x1="610.3" y1="456.7" x2="606.8" y2="456.7" stroke="#222" stroke-width="0.8" />
<line x1="610.3" y1="456.7" x2="613.8" y2="456.7" stroke="#222" stroke-width="0.8" />
<line x1="610.3" y1="443.3" x2="608.3" y2="443.3" stroke="#222" stroke-width="0.8" />
<line x1="610.3" y1="443.3" x2="612.3" y2="443.3" stroke="#222" stroke-width="0.8" />
<line x1="610.3" y1="429.9" x2="606.8" y2="429.9" stroke="#222" stroke-width="0.8" />
<line x1="610.3" y1="429.9" x2="613.8" y2="429.9" stroke="#222" stroke-width="0.8" />
<line x1="610.3" y1="416.5" x2="608.3" y2="416.5" stroke="#222" stroke-width="0.8" />
<line x1="610.3" y1="416.5" x2="612.3" y2="416.5" stroke="#222" stroke-width="0.8" />
<line x1="610.3" y1="403.1" x2="606.8" y2="403.1" stroke="#222" stroke-width="0.8" />
<line x1="610.3" y1="403.1" x2="613.8" y2="403.1" stroke="#222" stroke-width="0.8" />
<line x1="610.3" y1="389.7" x2="608.3" y2="389.7" stroke="#222" stroke-width="0.8" />
<line x1="610.3" y1="389.7" x2="612.3" y2="389.7" stroke="#222" stroke-width="0.8" />
<line x1="610.3" y1="376.4" x2="606.8" y2="376.4" stroke="#222" stroke-width="0.8" />
<line x1="610.3" y1="376.4" x2="613.8" y2="376.4" stroke="#222" stroke-width="0.8" />
<line x1="610.3" y1="363" x2="608.3" y2="363" stroke="#222" stroke-width="0.8" />
<line x1="610.3" y1="363" x2="612.3" y2="363" stroke="#222" stroke-width="0.8" />
<line x1="610.3" y1="349.6" x2="606.8" y2="349.6" stroke="#222" stroke-width="0.8" />
<line x1="610.3" y1="349.6" x2="613.8" y2="349.6" stroke="#222" stroke-width="0.8" />
<line x1="610.3" y1="336.2" x2="608.3" y2="336.2" stroke="#222" stroke-width="0.8" />
<line x1="610.3" y1="336.2" x2="612.3" y2="336.2" stroke="#222" stroke-width="0.8" />
<line x1="610.3" y1="322.8" x2="606.8" y2="322.8" stroke="#222" stroke-width="0.8" />
<line x1="610.3" y1="322.8" x2="613.8" y2="322.8" stroke="#222" stroke-width="0.8" />
<line x1="610.3" y1="309.4" x2="608.3" y2="309.4" stroke="#222" stroke-width="0.8" />
<line x1="610.3" y1="309.4" x2="612.3" y2="309.4" stroke="#222" stroke-width="0.8" />
<line x1="610.3" y1="296" x2="606.8" y2="296" stroke="#222" stroke-width="0.8" />
<line x1="610.3" y1="296" x2="613.8" y2="296" stroke="#222" stroke-width="0.8" />
<line x1="648.4" y1="510.3" x2="644.9" y2="510.3" stroke="#222" stroke-width="0.8" />
<line x1="648.4" y1="496.9" x2="646.4" y2="496.9" stroke="#222" stroke-width="0.8" />
<line x1="648.4" y1="483.5" x2="644.9" y2="483.5" stroke="#222" stroke-width="0.8" />
<line x1="648.4" y1="470.1" x2="646.4" y2="470.1" stroke="#222" stroke-width="0.8" />
<line x1="648.4" y1="456.7" x2="644.9" y2="456.7" stroke="#222" stroke-width="0.8" />
<line x1="648.4" y1="443.3" x2="646.4" y2="443.3" stroke="#222" stroke-width="0.8" />
<line x1="648.4" y1="429.9" x2="644.9" y2="429.9" stroke="#222" stroke-width="0.8" />
<line x1="648.4" y1="416.5" x2="646.4" y2="416.5" stroke="#222" stroke-width="0.8" />
<line x1="648.4" y1="403.1" x2="644.9" y2="403.1" stroke="#222" stroke-width="0.8" />
<line x1="648.4" y1="389.7" x2="646.4" y2="389.7" stroke="#222" stroke-width="0.8" />
<line x1="648.4" y1="376.4" x2="644.9" y2="376.4" stroke="#222" stroke-width="0.8" />
<line x1="648.4" y1="363" x2="646.4" y2="363" stroke="#222" stroke-width="0.8" />
<line x1="648.4" y1="349.6" x2="644.9" y2="349.6" stroke="#222" stroke-width="0.8" />
<line x1="648.4" y1="336.2" x2="646.4" y2="336.2" stroke="#222" stroke-width="0.8" />
<line x1="648.4" y1="322.8" x2="644.9" y2="322.8" stroke="#222" stroke-width="0.8" />
<line x1="648.4" y1="309.4" x2="646.4" y2="309.4" stroke="#222" stroke-width="0.8" />
<line x1="648.4" y1="296" x2="644.9" y2="296" stroke="#222" stroke-width="0.8" />
<line x1="457.3" y1="295.3" x2="454.1" y2="295.3" stroke="#222" stroke-width="0.8" />
<line x1="457.3" y1="303.9" x2="455.5" y2="303.9" stroke="#222" stroke-width="0.8" />
<line x1="457.3" y1="312.4" x2="454.1" y2="312.4" stroke="#222" stroke-width="0.8" />
<line x1="457.3" y1="321" x2="455.5" y2="321" stroke="#222" stroke-width="0.8" />
<line x1="457.3" y1="329.5" x2="454.1" y2="329.5" stroke="#222" stroke-width="0.8" />
<line x1="457.3" y1="338.1" x2="455.5" y2="338.1" stroke="#222" stroke-width="0.8" />
<line x1="457.3" y1="346.6" x2="454.1" y2="346.6" stroke="#222" stroke-width="0.8" />
<line x1="457.3" y1="355.2" x2="455.5" y2="355.2" stroke="#222" stroke-width="0.8" />
<line x1="457.3" y1="363.7" x2="454.1" y2="363.7" stroke="#222" stroke-width="0.8" />
<line x1="457.3" y1="372.3" x2="455.5" y2="372.3" stroke="#222" stroke-width="0.8" />
<line x1="457.3" y1="380.8" x2="454.1" y2="380.8" stroke="#222" stroke-width="0.8" />
<line x1="457.3" y1="389.4" x2="455.5" y2="389.4" stroke="#222" stroke-width="0.8" />
<line x1="457.3" y1="397.9" x2="454.1" y2="397.9" stroke="#222" stroke-width="0.8" />
<line x1="457.3" y1="406.5" x2="455.5" y2="406.5" stroke="#222" stroke-width="0.8" />
<line x1="457.3" y1="415" x2="454.1" y2="415" stroke="#222" stroke-width="0.8" />
<line x1="457.3" y1="423.6" x2="455.5" y2="423.6" stroke="#222" stroke-width="0.8" />
<line x1="457.3" y1="432.1" x2="454.1" y2="432.1" stroke="#222" stroke-width="0.8" />
<line x1="457.3" y1="440.7" x2="455.5" y2="440.7" stroke="#222" stroke-width="0.8" />
<line x1="457.3" y1="449.2" x2="454.1" y2="449.2" stroke="#222" stroke-width="0.8" />
<line x1="457.3" y1="457.8" x2="455.5" y2="457.8" stroke="#222" stroke-width="0.8" />
<line x1="457.3" y1="466.3" x2="454.1" y2="466.3" stroke="#222" stroke-width="0.8" />
<line x1="457.3" y1="474.9" x2="455.5" y2="474.9" stroke="#222" stroke-width="0.8" />
<line x1="457.3" y1="483.4" x2="454.1" y2="483.4" stroke="#222" stroke-width="0.8" />
<line x1="457.3" y1="492" x2="455.5" y2="492" stroke="#222" stroke-width="0.8" />
<line x1="457.3" y1="500.5" x2="454.1" y2="500.5" stroke="#222" stroke-width="0.8" />
<line x1="457.3" y1="509.1" x2="455.5" y2="509.1" stroke="#222" stroke-width="0.8" />
<line x1="457.3" y1="517.6" x2="454.1" y2="517.6" stroke="#222" stroke-width="0.8" />
<line x1="457.3" y1="287.2" x2="457.3" y2="519.2" stroke="#1a1a1a" stroke-width="1.1" />
<line x1="495.4" y1="287.2" x2="495.4" y2="519.2" stroke="#1a1a1a" stroke-width="1.1" />
<line x1="533.2" y1="287.2" x2="533.2" y2="519.2" stroke="#1a1a1a" stroke-width="1.1" />
<line x1="571.8" y1="287.2" x2="571.8" y2="519.2" stroke="#1a1a1a" stroke-width="1.1" />
<line x1="610.3" y1="287.2" x2="610.3" y2="519.2" stroke="#1a1a1a" stroke-width="1.1" />
<line x1="648.4" y1="287.2" x2="648.4" y2="519.2" stroke="#1a1a1a" stroke-width="1.1" />
<line x1="419" y1="287.2" x2="419" y2="519.2" stroke="#222" stroke-width="1.1" stroke-opacity="0.65"/>
<line x1="419" y1="287.2" x2="648.4" y2="287.2" stroke="#1a1a1a" stroke-width="1.1" />
<line x1="419" y1="519.2" x2="648.4" y2="519.2" stroke="#1a1a1a" stroke-width="1.1" />
<text x="415" y="514.1" font-size="10.5" fill="#1e1e1e" text-anchor="end">0</text>
<text x="415" y="487.3" font-size="10.5" fill="#1e1e1e" text-anchor="end">3</text>
<text x="415" y="460.5" font-size="10.5" fill="#1e1e1e" text-anchor="end">6</text>
<text x="415" y="433.7" font-size="10.5" fill="#1e1e1e" text-anchor="end">9</text>
<text x="415" y="406.9" font-size="10.5" fill="#1e1e1e" text-anchor="end">12</text>
<text x="415" y="380.1" font-size="10.5" fill="#1e1e1e" text-anchor="end">15</text>
<text x="415" y="353.3" font-size="10.5" fill="#1e1e1e" text-anchor="end">18</text>
<text x="415" y="326.5" font-size="10.5" fill="#1e1e1e" text-anchor="end">21</text>
<text x="415" y="299.7" font-size="10.5" fill="#1e1e1e" text-anchor="end">24</text>
<line x1="429.3" y1="519.2" x2="429.3" y2="516" stroke="#222" stroke-width="0.8" />
<line x1="449" y1="519.2" x2="449" y2="516" stroke="#222" stroke-width="0.8" />
<line x1="439.1" y1="519.2" x2="439.1" y2="517.2" stroke="#222" stroke-width="0.8" />
<text x="440.6" y="527.5" font-size="10.8" fill="#1e1e1e" text-anchor="end" transform="rotate(-45 440.6 527.5)">143.5</text>
<text x="460.3" y="527.5" font-size="10.8" fill="#1e1e1e" text-anchor="end" transform="rotate(-45 460.3 527.5)">143.6</text>
<line x1="463.5" y1="519.2" x2="463.5" y2="522.4" stroke="#222" stroke-width="0.8" />
<line x1="483.7" y1="519.2" x2="483.7" y2="522.4" stroke="#222" stroke-width="0.8" />
<line x1="473.6" y1="519.2" x2="473.6" y2="521.2" stroke="#222" stroke-width="0.8" />
<text x="474.8" y="527.5" font-size="10.8" fill="#1e1e1e" text-anchor="end" transform="rotate(-45 474.8 527.5)">69.4</text>
<text x="495.0" y="527.5" font-size="10.8" fill="#1e1e1e" text-anchor="end" transform="rotate(-45 495.0 527.5)">69.6</text>
<line x1="499" y1="519.2" x2="499" y2="516" stroke="#222" stroke-width="0.8" />
<line x1="520.5" y1="519.2" x2="520.5" y2="516" stroke="#222" stroke-width="0.8" />
<line x1="509.8" y1="519.2" x2="509.8" y2="517.2" stroke="#222" stroke-width="0.8" />
<text x="510.3" y="527.5" font-size="10.8" fill="#1e1e1e" text-anchor="end" transform="rotate(-45 510.3 527.5)">4.0</text>
<text x="531.8" y="527.5" font-size="10.8" fill="#1e1e1e" text-anchor="end" transform="rotate(-45 531.8 527.5)">4.2</text>
<line x1="539.7" y1="519.2" x2="539.7" y2="516" stroke="#222" stroke-width="0.8" />
<line x1="558" y1="519.2" x2="558" y2="516" stroke="#222" stroke-width="0.8" />
<line x1="548.9" y1="519.2" x2="548.9" y2="517.2" stroke="#222" stroke-width="0.8" />
<text x="551.0" y="527.5" font-size="10.8" fill="#1e1e1e" text-anchor="end" transform="rotate(-45 551.0 527.5)">286.2</text>
<text x="569.3" y="527.5" font-size="10.8" fill="#1e1e1e" text-anchor="end" transform="rotate(-45 569.3 527.5)">286.3</text>
<line x1="579.1" y1="519.2" x2="579.1" y2="516" stroke="#222" stroke-width="0.8" />
<line x1="597.7" y1="519.2" x2="597.7" y2="516" stroke="#222" stroke-width="0.8" />
<line x1="588.4" y1="519.2" x2="588.4" y2="517.2" stroke="#222" stroke-width="0.8" />
<text x="590.4" y="527.5" font-size="10.8" fill="#1e1e1e" text-anchor="end" transform="rotate(-45 590.4 527.5)">402.2</text>
<text x="609.0" y="527.5" font-size="10.8" fill="#1e1e1e" text-anchor="end" transform="rotate(-45 609.0 527.5)">402.3</text>
<line x1="624.3" y1="519.2" x2="624.3" y2="516" stroke="#222" stroke-width="0.8" />
<line x1="644" y1="519.2" x2="644" y2="516" stroke="#222" stroke-width="0.8" />
<line x1="634.2" y1="519.2" x2="634.2" y2="517.2" stroke="#222" stroke-width="0.8" />
<text x="635.6" y="527.5" font-size="10.8" fill="#1e1e1e" text-anchor="end" transform="rotate(-45 635.6 527.5)">532.5</text>
<text x="655.3" y="527.5" font-size="10.8" fill="#1e1e1e" text-anchor="end" transform="rotate(-45 655.3 527.5)">532.6</text>
<text x="426.4" y="300.1" font-size="10.5" fill="#1e1e1e">Pb 4 <tspan font-style="italic">f</tspan></text>
<text x="461.5" y="300.1" font-size="10.5" fill="#1e1e1e">Br 3 <tspan font-style="italic">d</tspan></text>
<text x="502.6" y="300.1" font-size="10.5" fill="#1e1e1e">VB</text>
<text x="539.3" y="300.1" font-size="10.5" fill="#1e1e1e">C 1 <tspan font-style="italic">s</tspan></text>
<text x="579" y="300.1" font-size="10.5" fill="#1e1e1e">N 1 <tspan font-style="italic">s</tspan></text>
<text x="616.3" y="300.1" font-size="10.5" fill="#1e1e1e">O 1 <tspan font-style="italic">s</tspan></text>
<path d="M433.6,304.9L431.5,340.6 435.8,376.4 437.6,403.1 439.6,421 438.5,447.8 444.6,474.6 445.7,492.4 447.9,510.3" fill="none" stroke="#334" stroke-width="0.6" stroke-linejoin="round" stroke-opacity="0.7"/>
<circle cx="433.6" cy="304.9" r="2.4" fill="url(#sph)"/>
<circle cx="431.5" cy="340.6" r="2.4" fill="url(#sph)"/>
<circle cx="435.8" cy="376.4" r="2.4" fill="url(#sph)"/>
<circle cx="437.6" cy="403.1" r="2.4" fill="url(#sph)"/>
<circle cx="439.6" cy="421.0" r="2.4" fill="url(#sph)"/>
<circle cx="438.5" cy="447.8" r="2.4" fill="url(#sph)"/>
<circle cx="444.6" cy="474.6" r="2.4" fill="url(#sph)"/>
<circle cx="445.7" cy="492.4" r="2.4" fill="url(#sph)"/>
<circle cx="447.9" cy="510.3" r="2.4" fill="url(#sph)"/>
<path d="M473,304L475.2,338 477.9,371 484.4,396 486.9,413.9 486.9,438.9 493.2,463.9 493.2,481.7 491.7,498.7" fill="none" stroke="#556" stroke-width="0.6" stroke-linejoin="round" stroke-opacity="0.7"/>
<circle cx="473.0" cy="304.0" r="2.4" fill="url(#sphg)"/>
<circle cx="475.2" cy="338.0" r="2.4" fill="url(#sphg)"/>
<circle cx="477.9" cy="371.0" r="2.4" fill="url(#sphg)"/>
<circle cx="484.4" cy="396.0" r="2.4" fill="url(#sphg)"/>
<circle cx="486.9" cy="413.9" r="2.4" fill="url(#sphg)"/>
<circle cx="486.9" cy="438.9" r="2.4" fill="url(#sphg)"/>
<circle cx="493.2" cy="463.9" r="2.4" fill="url(#sphg)"/>
<circle cx="493.2" cy="481.7" r="2.4" fill="url(#sphg)"/>
<circle cx="491.7" cy="498.7" r="2.4" fill="url(#sphg)"/>
<path d="M508.7,304.9L506.6,340.6 507.4,376.4 511,403.1 512.9,421 518.4,447.8 521.4,474.6 521.4,492.4 523.4,510.3" fill="none" stroke="#334" stroke-width="0.6" stroke-linejoin="round" stroke-opacity="0.7"/>
<circle cx="508.7" cy="304.9" r="2.4" fill="url(#sph)"/>
<circle cx="506.6" cy="340.6" r="2.4" fill="url(#sph)"/>
<circle cx="507.4" cy="376.4" r="2.4" fill="url(#sph)"/>
<circle cx="511.0" cy="403.1" r="2.4" fill="url(#sph)"/>
<circle cx="512.9" cy="421.0" r="2.4" fill="url(#sph)"/>
<circle cx="518.4" cy="447.8" r="2.4" fill="url(#sph)"/>
<circle cx="521.4" cy="474.6" r="2.4" fill="url(#sph)"/>
<circle cx="521.4" cy="492.4" r="2.4" fill="url(#sph)"/>
<circle cx="523.4" cy="510.3" r="2.4" fill="url(#sph)"/>
<path d="M543.4,304.9L543.4,340.6 539.3,376.4 547.7,403.1 547.7,421 559.7,447.8 559.7,474.6 563.8,492.4 562.1,510.3" fill="none" stroke="#334" stroke-width="0.6" stroke-linejoin="round" stroke-opacity="0.7"/>
<circle cx="543.4" cy="304.9" r="2.4" fill="url(#sph)"/>
<circle cx="543.4" cy="340.6" r="2.4" fill="url(#sph)"/>
<circle cx="539.3" cy="376.4" r="2.4" fill="url(#sph)"/>
<circle cx="547.7" cy="403.1" r="2.4" fill="url(#sph)"/>
<circle cx="547.7" cy="421.0" r="2.4" fill="url(#sph)"/>
<circle cx="559.7" cy="447.8" r="2.4" fill="url(#sph)"/>
<circle cx="559.7" cy="474.6" r="2.4" fill="url(#sph)"/>
<circle cx="563.8" cy="492.4" r="2.4" fill="url(#sph)"/>
<circle cx="562.1" cy="510.3" r="2.4" fill="url(#sph)"/>
<path d="M583.1,304.9L585,340.6 581.4,376.4 584.5,403.1 592.3,421 597.8,447.8 605.5,474.6 601.4,492.4 603.6,510.3" fill="none" stroke="#334" stroke-width="0.6" stroke-linejoin="round" stroke-opacity="0.7"/>
<circle cx="583.1" cy="304.9" r="2.4" fill="url(#sph)"/>
<circle cx="585.0" cy="340.6" r="2.4" fill="url(#sph)"/>
<circle cx="581.4" cy="376.4" r="2.4" fill="url(#sph)"/>
<circle cx="584.5" cy="403.1" r="2.4" fill="url(#sph)"/>
<circle cx="592.3" cy="421.0" r="2.4" fill="url(#sph)"/>
<circle cx="597.8" cy="447.8" r="2.4" fill="url(#sph)"/>
<circle cx="605.5" cy="474.6" r="2.4" fill="url(#sph)"/>
<circle cx="601.4" cy="492.4" r="2.4" fill="url(#sph)"/>
<circle cx="603.6" cy="510.3" r="2.4" fill="url(#sph)"/>
<path d="M624.3,304.9L624.3,340.6 633.9,376.4 624.3,403.1 634.4,421 629.1,447.8 634.4,474.6 629.1,492.4 638.7,510.3" fill="none" stroke="#334" stroke-width="0.6" stroke-linejoin="round" stroke-opacity="0.7"/>
<circle cx="624.3" cy="304.9" r="2.4" fill="url(#sph)"/>
<circle cx="624.3" cy="340.6" r="2.4" fill="url(#sph)"/>
<circle cx="633.9" cy="376.4" r="2.4" fill="url(#sph)"/>
<circle cx="624.3" cy="403.1" r="2.4" fill="url(#sph)"/>
<circle cx="634.4" cy="421.0" r="2.4" fill="url(#sph)"/>
<circle cx="629.1" cy="447.8" r="2.4" fill="url(#sph)"/>
<circle cx="634.4" cy="474.6" r="2.4" fill="url(#sph)"/>
<circle cx="629.1" cy="492.4" r="2.4" fill="url(#sph)"/>
<circle cx="638.7" cy="510.3" r="2.4" fill="url(#sph)"/>
<text x="392.2" y="407.3" font-size="11.3" fill="#1e1e1e" text-anchor="middle" textLength="151" lengthAdjust="spacingAndGlyphs" transform="rotate(-90 392.2 403.3)">Vacuum exposure duration (h)</text>
<text x="534.2" y="281.3" font-size="11" fill="#1e1e1e" text-anchor="middle" textLength="95" lengthAdjust="spacingAndGlyphs">Binding energy (eV)</text>
<rect x="23.5" y="555.5" width="166" height="219" fill="none" stroke="#8a8a8a" stroke-width="1.0"/>
<line x1="189.5" y1="555.3" x2="189.5" y2="557.5" stroke="#8a8a8a" stroke-width="0.8" />
<line x1="175.7" y1="555.3" x2="175.7" y2="557.5" stroke="#8a8a8a" stroke-width="0.8" />
<line x1="162" y1="555.3" x2="162" y2="557.5" stroke="#8a8a8a" stroke-width="0.8" />
<line x1="148.2" y1="555.3" x2="148.2" y2="557.5" stroke="#8a8a8a" stroke-width="0.8" />
<line x1="134.4" y1="555.3" x2="134.4" y2="557.5" stroke="#8a8a8a" stroke-width="0.8" />
<line x1="120.7" y1="555.3" x2="120.7" y2="557.5" stroke="#8a8a8a" stroke-width="0.8" />
<line x1="106.9" y1="555.3" x2="106.9" y2="557.5" stroke="#8a8a8a" stroke-width="0.8" />
<line x1="93.1" y1="555.3" x2="93.1" y2="557.5" stroke="#8a8a8a" stroke-width="0.8" />
<line x1="79.4" y1="555.3" x2="79.4" y2="557.5" stroke="#8a8a8a" stroke-width="0.8" />
<line x1="65.6" y1="555.3" x2="65.6" y2="557.5" stroke="#8a8a8a" stroke-width="0.8" />
<line x1="51.8" y1="555.3" x2="51.8" y2="557.5" stroke="#8a8a8a" stroke-width="0.8" />
<line x1="38.1" y1="555.3" x2="38.1" y2="557.5" stroke="#8a8a8a" stroke-width="0.8" />
<line x1="24.3" y1="555.3" x2="24.3" y2="557.5" stroke="#8a8a8a" stroke-width="0.8" />
<line x1="189.5" y1="774.3" x2="189.5" y2="772.1" stroke="#8a8a8a" stroke-width="0.8" />
<line x1="175.7" y1="774.3" x2="175.7" y2="772.1" stroke="#8a8a8a" stroke-width="0.8" />
<line x1="162" y1="774.3" x2="162" y2="772.1" stroke="#8a8a8a" stroke-width="0.8" />
<line x1="148.2" y1="774.3" x2="148.2" y2="772.1" stroke="#8a8a8a" stroke-width="0.8" />
<line x1="134.4" y1="774.3" x2="134.4" y2="772.1" stroke="#8a8a8a" stroke-width="0.8" />
<line x1="120.7" y1="774.3" x2="120.7" y2="772.1" stroke="#8a8a8a" stroke-width="0.8" />
<line x1="106.9" y1="774.3" x2="106.9" y2="772.1" stroke="#8a8a8a" stroke-width="0.8" />
<line x1="93.1" y1="774.3" x2="93.1" y2="772.1" stroke="#8a8a8a" stroke-width="0.8" />
<line x1="79.4" y1="774.3" x2="79.4" y2="772.1" stroke="#8a8a8a" stroke-width="0.8" />
<line x1="65.6" y1="774.3" x2="65.6" y2="772.1" stroke="#8a8a8a" stroke-width="0.8" />
<line x1="51.8" y1="774.3" x2="51.8" y2="772.1" stroke="#8a8a8a" stroke-width="0.8" />
<line x1="38.1" y1="774.3" x2="38.1" y2="772.1" stroke="#8a8a8a" stroke-width="0.8" />
<line x1="24.3" y1="774.3" x2="24.3" y2="772.1" stroke="#8a8a8a" stroke-width="0.8" />
<line x1="23.6" y1="587" x2="21.4" y2="587" stroke="#8a8a8a" stroke-width="0.8" />
<line x1="23.6" y1="617.5" x2="21.4" y2="617.5" stroke="#8a8a8a" stroke-width="0.8" />
<line x1="23.6" y1="648" x2="21.4" y2="648" stroke="#8a8a8a" stroke-width="0.8" />
<line x1="23.6" y1="678.5" x2="21.4" y2="678.5" stroke="#8a8a8a" stroke-width="0.8" />
<line x1="23.6" y1="709" x2="21.4" y2="709" stroke="#8a8a8a" stroke-width="0.8" />
<line x1="23.6" y1="739.5" x2="21.4" y2="739.5" stroke="#8a8a8a" stroke-width="0.8" />
<line x1="189.5" y1="587" x2="187.5" y2="587" stroke="#8a8a8a" stroke-width="0.8" />
<line x1="189.5" y1="617.5" x2="187.5" y2="617.5" stroke="#8a8a8a" stroke-width="0.8" />
<line x1="189.5" y1="648" x2="187.5" y2="648" stroke="#8a8a8a" stroke-width="0.8" />
<line x1="189.5" y1="678.5" x2="187.5" y2="678.5" stroke="#8a8a8a" stroke-width="0.8" />
<line x1="189.5" y1="709" x2="187.5" y2="709" stroke="#8a8a8a" stroke-width="0.8" />
<line x1="189.5" y1="739.5" x2="187.5" y2="739.5" stroke="#8a8a8a" stroke-width="0.8" />
<text x="189.5" y="788.6" font-size="10.8" fill="#1e1e1e" text-anchor="middle">66</text>
<text x="162" y="788.6" font-size="10.8" fill="#1e1e1e" text-anchor="middle">67</text>
<text x="134.4" y="788.6" font-size="10.8" fill="#1e1e1e" text-anchor="middle">68</text>
<text x="106.9" y="788.6" font-size="10.8" fill="#1e1e1e" text-anchor="middle">69</text>
<text x="79.4" y="788.6" font-size="10.8" fill="#1e1e1e" text-anchor="middle">70</text>
<text x="51.8" y="788.6" font-size="10.8" fill="#1e1e1e" text-anchor="middle">71</text>
<text x="24.3" y="788.6" font-size="10.8" fill="#1e1e1e" text-anchor="middle">72</text>
<path d="M24.1,754.9L25.1,756 26.1,754.2 27.1,755.2 28.1,753.6 29.1,755 30.1,754.7 31.1,754.3 32.1,755.9 33.1,754.8 34.1,755.1 35.1,755.2 36.1,754.8 37.1,756.8 38.1,755.1 39.1,755.7 40.1,754.4 41.1,755.2 42.1,755.4 43.1,755.4 44.1,755.2 45.1,755.8 46.1,757.1 47.1,755.6 48.1,755.7 49.1,755.5 50.1,758.1 51.1,757.3 52.1,756.4 53.1,756.4 54.1,754.8 55.1,754.7 56.1,754.3 57.1,753.2 58.1,751.3 59.1,750.2 60.1,750.2 61.1,748.7 62.1,744.8 63.1,744.6 64.1,743 65.1,738.4 66.1,736 67.1,731.1 68.1,729.5 69.1,724 70.1,719.7 71.1,715.6 72.1,712.5 73.1,704.1 74.1,697.7 75.1,693.5 76.1,687.2 77.1,682.3 78.1,673.4 79.1,666.9 80.1,661.9 81.1,656.1 82.1,649.6 83.1,644.1 84.1,636.3 85.1,632.5 86.1,628.8 87.1,625.8 88.1,623.4 89.1,622.6 90.1,623 91.1,626.2 92.1,628.1 93.1,631.8 94.1,631.5 95.1,636.7 96.1,638.6 97.1,643.5 98.1,646.4 99.1,647.5 100.1,645.8 101.1,643.2 102.1,639.6 103.1,634.5 104.1,630.6 105.1,623.8 106.1,615.6 107.1,607.8 108.1,598.1 109.1,590.8 110.1,584.4 111.1,578.1 112.1,572.8 113.1,567.4 114.1,567.1 115.1,567.8 116.1,569.2 117.1,570.5 118.1,573 119.1,578.1 120.1,583.5 121.1,592.1 122.1,601.6 123.1,613.2 124.1,626.8 125.1,636.2 126.1,649.9 127.1,662.6 128.1,673.5 129.1,687 130.1,696.9 131.1,706.8 132.1,716 133.1,725.4 134.1,734.3 135.1,737.9 136.1,741.4 137.1,742.7 138.1,745.4 139.1,747.2 140.1,747.6 141.1,748.7 142.1,751.5 143.1,752 144.1,751.8 145.1,753.3 146.1,754.6 147.1,756.2 148.1,754.3 149.1,756.1 150.1,757.8 151.1,756.3 152.1,757.8 153.1,754.3 154.1,758 155.1,756.8 156.1,755.2 157.1,757.7 158.1,758 159.1,758.3 160.1,758.4 161.1,757.4 162.1,756.8 163.1,757.2 164.1,757.6 165.1,758.1 166.1,757.4 167.1,758 168.1,758.8 169.1,758.4 170.1,760.2 171.1,760.1 172.1,757.3 173.1,757.9 174.1,757.3 175.1,757.5 176.1,759 177.1,757.7 178.1,757.8 179.1,758.5 180.1,759.5 181.1,758.5 182.1,758.6 183.1,759.8 184.1,759.4 185.1,759.5 186.1,759.9 187.1,758.3 188.1,759.4 189.1,758.7" fill="none" stroke="#7a5a30" stroke-width="1.1" stroke-linejoin="round" />
<g fill="#7a5a30" stroke="#000" stroke-opacity="0.25" stroke-width="0.4"><circle cx="24.1" cy="754.9" r="1.1"/><circle cx="27.1" cy="755.2" r="1.1"/><circle cx="30.1" cy="754.7" r="1.1"/><circle cx="33.1" cy="754.8" r="1.1"/><circle cx="36.1" cy="754.8" r="1.1"/><circle cx="39.1" cy="755.7" r="1.1"/><circle cx="42.1" cy="755.4" r="1.1"/><circle cx="45.1" cy="755.8" r="1.1"/><circle cx="48.1" cy="755.7" r="1.1"/><circle cx="51.1" cy="757.3" r="1.1"/><circle cx="54.1" cy="754.8" r="1.1"/><circle cx="57.1" cy="753.2" r="1.1"/><circle cx="60.1" cy="750.2" r="1.1"/><circle cx="63.1" cy="744.6" r="1.1"/><circle cx="66.1" cy="736" r="1.1"/><circle cx="69.1" cy="724" r="1.1"/><circle cx="72.1" cy="712.5" r="1.1"/><circle cx="75.1" cy="693.5" r="1.1"/><circle cx="78.1" cy="673.4" r="1.1"/><circle cx="81.1" cy="656.1" r="1.1"/><circle cx="84.1" cy="636.3" r="1.1"/><circle cx="87.1" cy="625.8" r="1.1"/><circle cx="90.1" cy="623" r="1.1"/><circle cx="93.1" cy="631.8" r="1.1"/><circle cx="96.1" cy="638.6" r="1.1"/><circle cx="99.1" cy="647.5" r="1.1"/><circle cx="102.1" cy="639.6" r="1.1"/><circle cx="105.1" cy="623.8" r="1.1"/><circle cx="108.1" cy="598.1" r="1.1"/><circle cx="111.1" cy="578.1" r="1.1"/><circle cx="114.1" cy="567.1" r="1.1"/><circle cx="117.1" cy="570.5" r="1.1"/><circle cx="120.1" cy="583.5" r="1.1"/><circle cx="123.1" cy="613.2" r="1.1"/><circle cx="126.1" cy="649.9" r="1.1"/><circle cx="129.1" cy="687" r="1.1"/><circle cx="132.1" cy="716" r="1.1"/><circle cx="135.1" cy="737.9" r="1.1"/><circle cx="138.1" cy="745.4" r="1.1"/><circle cx="141.1" cy="748.7" r="1.1"/><circle cx="144.1" cy="751.8" r="1.1"/><circle cx="147.1" cy="756.2" r="1.1"/><circle cx="150.1" cy="757.8" r="1.1"/><circle cx="153.1" cy="754.3" r="1.1"/><circle cx="156.1" cy="755.2" r="1.1"/><circle cx="159.1" cy="758.3" r="1.1"/><circle cx="162.1" cy="756.8" r="1.1"/><circle cx="165.1" cy="758.1" r="1.1"/><circle cx="168.1" cy="758.8" r="1.1"/><circle cx="171.1" cy="760.1" r="1.1"/><circle cx="174.1" cy="757.3" r="1.1"/><circle cx="177.1" cy="757.7" r="1.1"/><circle cx="180.1" cy="759.5" r="1.1"/><circle cx="183.1" cy="759.8" r="1.1"/><circle cx="186.1" cy="759.9" r="1.1"/><circle cx="189.1" cy="758.7" r="1.1"/></g>
<path d="M24.1,756.1L25.1,755.9 26.1,754.3 27.1,756.4 28.1,754.3 29.1,756.3 30.1,755.5 31.1,754.6 32.1,754.4 33.1,755.1 34.1,755.4 35.1,754.8 36.1,756 37.1,754.3 38.1,755.5 39.1,755.6 40.1,753.9 41.1,755.9 42.1,754.5 43.1,753.5 44.1,755.1 45.1,755.5 46.1,756.5 47.1,755.3 48.1,757.1 49.1,757.1 50.1,756.8 51.1,757 52.1,756.2 53.1,755.4 54.1,756.1 55.1,755.9 56.1,754.5 57.1,753.2 58.1,751 59.1,751.9 60.1,750.4 61.1,747.7 62.1,747.3 63.1,745.8 64.1,742.6 65.1,740.6 66.1,737.5 67.1,732.2 68.1,729.7 69.1,726.8 70.1,723.2 71.1,718.9 72.1,710.7 73.1,706.7 74.1,701.6 75.1,696.4 76.1,690.9 77.1,682.4 78.1,676.7 79.1,669.9 80.1,665.5 81.1,657.3 82.1,653.1 83.1,646.7 84.1,640.7 85.1,633.7 86.1,630.8 87.1,628.1 88.1,623.5 89.1,624 90.1,624.8 91.1,627 92.1,628.2 93.1,630.2 94.1,631.6 95.1,635.2 96.1,639.3 97.1,644.3 98.1,646.9 99.1,649.5 100.1,646.3 101.1,646.5 102.1,641.7 103.1,638.4 104.1,632.8 105.1,628.1 106.1,621.2 107.1,610.6 108.1,602.5 109.1,594.7 110.1,588.9 111.1,581 112.1,576.4 113.1,571.7 114.1,568.5 115.1,568.7 116.1,568.7 117.1,573.6 118.1,575.9 119.1,581 120.1,582.8 121.1,589.4 122.1,600.1 123.1,609.3 124.1,622.6 125.1,633 126.1,644.9 127.1,657.9 128.1,670.4 129.1,684.1 130.1,694 131.1,702.3 132.1,714.4 133.1,721.7 134.1,730.7 135.1,734.7 136.1,738.3 137.1,743 138.1,743.8 139.1,745.7 140.1,747.5 141.1,749.1 142.1,751.7 143.1,750.3 144.1,751 145.1,753.4 146.1,752.2 147.1,753.9 148.1,755.8 149.1,755.3 150.1,755.3 151.1,755.4 152.1,755.5 153.1,755.9 154.1,756.7 155.1,757.8 156.1,757.7 157.1,756.5 158.1,756.4 159.1,757.8 160.1,755.6 161.1,757 162.1,757.2 163.1,756.5 164.1,756.7 165.1,758 166.1,756.3 167.1,757.1 168.1,757.4 169.1,758.1 170.1,756.9 171.1,759.1 172.1,758 173.1,758.1 174.1,758.1 175.1,757.9 176.1,757.6 177.1,759.6 178.1,758.8 179.1,758.6 180.1,759.6 181.1,758.2 182.1,759.4 183.1,758.9 184.1,758.2 185.1,759.7 186.1,757.7 187.1,759.7 188.1,758.4 189.1,759.6" fill="none" stroke="#c87838" stroke-width="1.1" stroke-linejoin="round" />
<g fill="#c87838" stroke="#000" stroke-opacity="0.25" stroke-width="0.4"><circle cx="24.1" cy="756.1" r="1.1"/><circle cx="27.1" cy="756.4" r="1.1"/><circle cx="30.1" cy="755.5" r="1.1"/><circle cx="33.1" cy="755.1" r="1.1"/><circle cx="36.1" cy="756" r="1.1"/><circle cx="39.1" cy="755.6" r="1.1"/><circle cx="42.1" cy="754.5" r="1.1"/><circle cx="45.1" cy="755.5" r="1.1"/><circle cx="48.1" cy="757.1" r="1.1"/><circle cx="51.1" cy="757" r="1.1"/><circle cx="54.1" cy="756.1" r="1.1"/><circle cx="57.1" cy="753.2" r="1.1"/><circle cx="60.1" cy="750.4" r="1.1"/><circle cx="63.1" cy="745.8" r="1.1"/><circle cx="66.1" cy="737.5" r="1.1"/><circle cx="69.1" cy="726.8" r="1.1"/><circle cx="72.1" cy="710.7" r="1.1"/><circle cx="75.1" cy="696.4" r="1.1"/><circle cx="78.1" cy="676.7" r="1.1"/><circle cx="81.1" cy="657.3" r="1.1"/><circle cx="84.1" cy="640.7" r="1.1"/><circle cx="87.1" cy="628.1" r="1.1"/><circle cx="90.1" cy="624.8" r="1.1"/><circle cx="93.1" cy="630.2" r="1.1"/><circle cx="96.1" cy="639.3" r="1.1"/><circle cx="99.1" cy="649.5" r="1.1"/><circle cx="102.1" cy="641.7" r="1.1"/><circle cx="105.1" cy="628.1" r="1.1"/><circle cx="108.1" cy="602.5" r="1.1"/><circle cx="111.1" cy="581" r="1.1"/><circle cx="114.1" cy="568.5" r="1.1"/><circle cx="117.1" cy="573.6" r="1.1"/><circle cx="120.1" cy="582.8" r="1.1"/><circle cx="123.1" cy="609.3" r="1.1"/><circle cx="126.1" cy="644.9" r="1.1"/><circle cx="129.1" cy="684.1" r="1.1"/><circle cx="132.1" cy="714.4" r="1.1"/><circle cx="135.1" cy="734.7" r="1.1"/><circle cx="138.1" cy="743.8" r="1.1"/><circle cx="141.1" cy="749.1" r="1.1"/><circle cx="144.1" cy="751" r="1.1"/><circle cx="147.1" cy="753.9" r="1.1"/><circle cx="150.1" cy="755.3" r="1.1"/><circle cx="153.1" cy="755.9" r="1.1"/><circle cx="156.1" cy="757.7" r="1.1"/><circle cx="159.1" cy="757.8" r="1.1"/><circle cx="162.1" cy="757.2" r="1.1"/><circle cx="165.1" cy="758" r="1.1"/><circle cx="168.1" cy="757.4" r="1.1"/><circle cx="171.1" cy="759.1" r="1.1"/><circle cx="174.1" cy="758.1" r="1.1"/><circle cx="177.1" cy="759.6" r="1.1"/><circle cx="180.1" cy="759.6" r="1.1"/><circle cx="183.1" cy="758.9" r="1.1"/><circle cx="186.1" cy="757.7" r="1.1"/><circle cx="189.1" cy="759.6" r="1.1"/></g>
<path d="M24.1,756.4L25.1,755.7 26.1,754.7 27.1,755.2 28.1,754.9 29.1,754.2 30.1,754.3 31.1,755.4 32.1,755.8 33.1,753.8 34.1,755.3 35.1,755.9 36.1,755.5 37.1,754.6 38.1,756.4 39.1,754.4 40.1,756.1 41.1,757 42.1,753.8 43.1,755.8 44.1,755.9 45.1,755.9 46.1,755 47.1,755.4 48.1,754.5 49.1,755.9 50.1,756.3 51.1,755.2 52.1,755 53.1,755.4 54.1,755.6 55.1,755.2 56.1,754.4 57.1,753.7 58.1,751.5 59.1,749.1 60.1,750.9 61.1,750.4 62.1,746.4 63.1,745.2 64.1,743.7 65.1,741.6 66.1,738.4 67.1,735.7 68.1,731.1 69.1,727.9 70.1,724.1 71.1,718.9 72.1,715.2 73.1,709.1 74.1,703.8 75.1,696.9 76.1,692.4 77.1,684.5 78.1,679.6 79.1,670.8 80.1,666.2 81.1,661.6 82.1,654.1 83.1,648.4 84.1,641 85.1,639 86.1,634 87.1,629.4 88.1,626.7 89.1,625.5 90.1,626.9 91.1,626.9 92.1,627 93.1,630 94.1,633.4 95.1,635.4 96.1,638.4 97.1,643.5 98.1,646.7 99.1,649.3 100.1,647.2 101.1,645.9 102.1,644.1 103.1,639.3 104.1,635.3 105.1,631.8 106.1,623.1 107.1,615.4 108.1,606 109.1,598.1 110.1,592.3 111.1,584.9 112.1,578.4 113.1,576.6 114.1,572 115.1,572 116.1,571.8 117.1,573.6 118.1,576.8 119.1,580.3 120.1,582.5 121.1,590.5 122.1,597 123.1,608.2 124.1,621.4 125.1,630.4 126.1,642.9 127.1,653.2 128.1,666.5 129.1,678.1 130.1,689.6 131.1,698.5 132.1,708.5 133.1,719.2 134.1,725.7 135.1,732.3 136.1,737.3 137.1,739.3 138.1,741.8 139.1,744 140.1,747 141.1,748.1 142.1,749.8 143.1,750.5 144.1,753.2 145.1,752 146.1,751.4 147.1,753.9 148.1,754.4 149.1,755.1 150.1,754 151.1,756.8 152.1,756 153.1,756.2 154.1,755 155.1,757 156.1,756.7 157.1,758 158.1,756.6 159.1,756 160.1,757.3 161.1,756.5 162.1,757.7 163.1,756.5 164.1,757.4 165.1,757.4 166.1,757.7 167.1,757.4 168.1,757.2 169.1,757.9 170.1,757.5 171.1,758.3 172.1,758 173.1,756.3 174.1,758.3 175.1,759.6 176.1,758.7 177.1,759.1 178.1,759 179.1,758.2 180.1,757.5 181.1,759.5 182.1,759.7 183.1,759.4 184.1,759.3 185.1,759.3 186.1,759 187.1,759.3 188.1,759.1 189.1,759.5" fill="none" stroke="#f39638" stroke-width="1.1" stroke-linejoin="round" />
<g fill="#f39638" stroke="#000" stroke-opacity="0.25" stroke-width="0.4"><circle cx="24.1" cy="756.4" r="1.1"/><circle cx="27.1" cy="755.2" r="1.1"/><circle cx="30.1" cy="754.3" r="1.1"/><circle cx="33.1" cy="753.8" r="1.1"/><circle cx="36.1" cy="755.5" r="1.1"/><circle cx="39.1" cy="754.4" r="1.1"/><circle cx="42.1" cy="753.8" r="1.1"/><circle cx="45.1" cy="755.9" r="1.1"/><circle cx="48.1" cy="754.5" r="1.1"/><circle cx="51.1" cy="755.2" r="1.1"/><circle cx="54.1" cy="755.6" r="1.1"/><circle cx="57.1" cy="753.7" r="1.1"/><circle cx="60.1" cy="750.9" r="1.1"/><circle cx="63.1" cy="745.2" r="1.1"/><circle cx="66.1" cy="738.4" r="1.1"/><circle cx="69.1" cy="727.9" r="1.1"/><circle cx="72.1" cy="715.2" r="1.1"/><circle cx="75.1" cy="696.9" r="1.1"/><circle cx="78.1" cy="679.6" r="1.1"/><circle cx="81.1" cy="661.6" r="1.1"/><circle cx="84.1" cy="641" r="1.1"/><circle cx="87.1" cy="629.4" r="1.1"/><circle cx="90.1" cy="626.9" r="1.1"/><circle cx="93.1" cy="630" r="1.1"/><circle cx="96.1" cy="638.4" r="1.1"/><circle cx="99.1" cy="649.3" r="1.1"/><circle cx="102.1" cy="644.1" r="1.1"/><circle cx="105.1" cy="631.8" r="1.1"/><circle cx="108.1" cy="606" r="1.1"/><circle cx="111.1" cy="584.9" r="1.1"/><circle cx="114.1" cy="572" r="1.1"/><circle cx="117.1" cy="573.6" r="1.1"/><circle cx="120.1" cy="582.5" r="1.1"/><circle cx="123.1" cy="608.2" r="1.1"/><circle cx="126.1" cy="642.9" r="1.1"/><circle cx="129.1" cy="678.1" r="1.1"/><circle cx="132.1" cy="708.5" r="1.1"/><circle cx="135.1" cy="732.3" r="1.1"/><circle cx="138.1" cy="741.8" r="1.1"/><circle cx="141.1" cy="748.1" r="1.1"/><circle cx="144.1" cy="753.2" r="1.1"/><circle cx="147.1" cy="753.9" r="1.1"/><circle cx="150.1" cy="754" r="1.1"/><circle cx="153.1" cy="756.2" r="1.1"/><circle cx="156.1" cy="756.7" r="1.1"/><circle cx="159.1" cy="756" r="1.1"/><circle cx="162.1" cy="757.7" r="1.1"/><circle cx="165.1" cy="757.4" r="1.1"/><circle cx="168.1" cy="757.2" r="1.1"/><circle cx="171.1" cy="758.3" r="1.1"/><circle cx="174.1" cy="758.3" r="1.1"/><circle cx="177.1" cy="759.1" r="1.1"/><circle cx="180.1" cy="757.5" r="1.1"/><circle cx="183.1" cy="759.4" r="1.1"/><circle cx="186.1" cy="759" r="1.1"/><circle cx="189.1" cy="759.5" r="1.1"/></g>
<path d="M24.1,754.3L25.1,754.6 26.1,755.7 27.1,754.9 28.1,753.1 29.1,755.4 30.1,753.3 31.1,757 32.1,756 33.1,755.9 34.1,754.8 35.1,754.4 36.1,755.2 37.1,755.5 38.1,754.8 39.1,755.6 40.1,756.1 41.1,756.1 42.1,754.7 43.1,753.7 44.1,755.6 45.1,755.1 46.1,756.1 47.1,757.1 48.1,757.2 49.1,756 50.1,756.7 51.1,757.2 52.1,755.9 53.1,756.1 54.1,756.4 55.1,755.3 56.1,754.2 57.1,753.2 58.1,753 59.1,751.4 60.1,751.4 61.1,749.3 62.1,749.5 63.1,747.5 64.1,743.1 65.1,742.6 66.1,738.4 67.1,736.8 68.1,732.7 69.1,728.7 70.1,725.6 71.1,720.3 72.1,716.2 73.1,710.8 74.1,704.7 75.1,699.6 76.1,692.7 77.1,688.1 78.1,680.5 79.1,675.9 80.1,669.8 81.1,664 82.1,656.6 83.1,653.3 84.1,644.7 85.1,639.9 86.1,635 87.1,632.8 88.1,627.8 89.1,627.3 90.1,625.7 91.1,627.7 92.1,628.5 93.1,631.4 94.1,632.3 95.1,634.1 96.1,638.8 97.1,641.4 98.1,645.4 99.1,649.5 100.1,647.7 101.1,648.6 102.1,644.9 103.1,640.7 104.1,637.4 105.1,633.3 106.1,626.2 107.1,618.9 108.1,611.4 109.1,603.4 110.1,596.1 111.1,589.3 112.1,583.3 113.1,578.5 114.1,575.8 115.1,573.9 116.1,573.8 117.1,576 118.1,576.9 119.1,580 120.1,583.6 121.1,590.5 122.1,594.6 123.1,606 124.1,616.6 125.1,627.2 126.1,639.9 127.1,650.6 128.1,662.5 129.1,673 130.1,685.5 131.1,694.9 132.1,705.3 133.1,715.1 134.1,723.1 135.1,730.7 136.1,735.9 137.1,738.8 138.1,741.2 139.1,742 140.1,746.7 141.1,748.5 142.1,748.8 143.1,749.7 144.1,751.6 145.1,751.3 146.1,753.5 147.1,752.6 148.1,753.4 149.1,754.7 150.1,754 151.1,755.6 152.1,756.4 153.1,755.1 154.1,757.2 155.1,756.1 156.1,757.2 157.1,757.1 158.1,756.6 159.1,756.7 160.1,755.8 161.1,756.7 162.1,756.8 163.1,758.9 164.1,758.5 165.1,756.5 166.1,758.5 167.1,758.1 168.1,757.6 169.1,758.4 170.1,758.8 171.1,757.7 172.1,758 173.1,758.5 174.1,757.6 175.1,758.6 176.1,758.5 177.1,758 178.1,758 179.1,759 180.1,759.5 181.1,759.1 182.1,758.2 183.1,759.6 184.1,759.2 185.1,759.6 186.1,760.1 187.1,758.4 188.1,759.1 189.1,758.7" fill="none" stroke="#fbcb62" stroke-width="1.1" stroke-linejoin="round" />
<g fill="#fbcb62" stroke="#000" stroke-opacity="0.25" stroke-width="0.4"><circle cx="24.1" cy="754.3" r="1.1"/><circle cx="27.1" cy="754.9" r="1.1"/><circle cx="30.1" cy="753.3" r="1.1"/><circle cx="33.1" cy="755.9" r="1.1"/><circle cx="36.1" cy="755.2" r="1.1"/><circle cx="39.1" cy="755.6" r="1.1"/><circle cx="42.1" cy="754.7" r="1.1"/><circle cx="45.1" cy="755.1" r="1.1"/><circle cx="48.1" cy="757.2" r="1.1"/><circle cx="51.1" cy="757.2" r="1.1"/><circle cx="54.1" cy="756.4" r="1.1"/><circle cx="57.1" cy="753.2" r="1.1"/><circle cx="60.1" cy="751.4" r="1.1"/><circle cx="63.1" cy="747.5" r="1.1"/><circle cx="66.1" cy="738.4" r="1.1"/><circle cx="69.1" cy="728.7" r="1.1"/><circle cx="72.1" cy="716.2" r="1.1"/><circle cx="75.1" cy="699.6" r="1.1"/><circle cx="78.1" cy="680.5" r="1.1"/><circle cx="81.1" cy="664" r="1.1"/><circle cx="84.1" cy="644.7" r="1.1"/><circle cx="87.1" cy="632.8" r="1.1"/><circle cx="90.1" cy="625.7" r="1.1"/><circle cx="93.1" cy="631.4" r="1.1"/><circle cx="96.1" cy="638.8" r="1.1"/><circle cx="99.1" cy="649.5" r="1.1"/><circle cx="102.1" cy="644.9" r="1.1"/><circle cx="105.1" cy="633.3" r="1.1"/><circle cx="108.1" cy="611.4" r="1.1"/><circle cx="111.1" cy="589.3" r="1.1"/><circle cx="114.1" cy="575.8" r="1.1"/><circle cx="117.1" cy="576" r="1.1"/><circle cx="120.1" cy="583.6" r="1.1"/><circle cx="123.1" cy="606" r="1.1"/><circle cx="126.1" cy="639.9" r="1.1"/><circle cx="129.1" cy="673" r="1.1"/><circle cx="132.1" cy="705.3" r="1.1"/><circle cx="135.1" cy="730.7" r="1.1"/><circle cx="138.1" cy="741.2" r="1.1"/><circle cx="141.1" cy="748.5" r="1.1"/><circle cx="144.1" cy="751.6" r="1.1"/><circle cx="147.1" cy="752.6" r="1.1"/><circle cx="150.1" cy="754" r="1.1"/><circle cx="153.1" cy="755.1" r="1.1"/><circle cx="156.1" cy="757.2" r="1.1"/><circle cx="159.1" cy="756.7" r="1.1"/><circle cx="162.1" cy="756.8" r="1.1"/><circle cx="165.1" cy="756.5" r="1.1"/><circle cx="168.1" cy="757.6" r="1.1"/><circle cx="171.1" cy="757.7" r="1.1"/><circle cx="174.1" cy="757.6" r="1.1"/><circle cx="177.1" cy="758" r="1.1"/><circle cx="180.1" cy="759.5" r="1.1"/><circle cx="183.1" cy="759.6" r="1.1"/><circle cx="186.1" cy="760.1" r="1.1"/><circle cx="189.1" cy="758.7" r="1.1"/></g>
<path d="M24.1,754.5L25.1,756.9 26.1,756.1 27.1,753.8 28.1,755.7 29.1,754.9 30.1,756.3 31.1,755.5 32.1,755.3 33.1,755.6 34.1,755.8 35.1,755.5 36.1,755.3 37.1,755.4 38.1,756 39.1,754.6 40.1,755.6 41.1,755.5 42.1,755.3 43.1,756.3 44.1,754.6 45.1,755.4 46.1,755.1 47.1,756.3 48.1,755.4 49.1,755.9 50.1,756.2 51.1,754.6 52.1,756.3 53.1,755.3 54.1,755.6 55.1,755.4 56.1,755.6 57.1,754.8 58.1,754.8 59.1,752.4 60.1,750.8 61.1,749.6 62.1,749.3 63.1,748.4 64.1,745.3 65.1,742 66.1,740 67.1,736.9 68.1,733.5 69.1,729.3 70.1,724.3 71.1,721.9 72.1,718.5 73.1,712.6 74.1,705 75.1,701.3 76.1,694.2 77.1,691.5 78.1,684 79.1,676.7 80.1,672.4 81.1,665.1 82.1,660.1 83.1,653.3 84.1,646.3 85.1,642.6 86.1,636.7 87.1,634.9 88.1,630.2 89.1,627 90.1,626 91.1,629.5 92.1,630.6 93.1,630 94.1,634.3 95.1,635.1 96.1,637.9 97.1,641.9 98.1,645.6 99.1,650 100.1,650 101.1,647.5 102.1,648.5 103.1,644.2 104.1,638.5 105.1,634.8 106.1,629.1 107.1,622.9 108.1,615.1 109.1,607 110.1,599.4 111.1,593.1 112.1,588.6 113.1,582.5 114.1,580.4 115.1,575.4 116.1,576.3 117.1,576.4 118.1,577.6 119.1,582.1 120.1,584.5 121.1,587.8 122.1,594.9 123.1,604.7 124.1,612.5 125.1,625.3 126.1,635.2 127.1,645.7 128.1,658.9 129.1,671 130.1,681.4 131.1,691.4 132.1,702.8 133.1,712.3 134.1,719.1 135.1,726.9 136.1,731.9 137.1,735.5 138.1,737.9 139.1,742.9 140.1,744.7 141.1,746.7 142.1,749.4 143.1,748.9 144.1,750.4 145.1,751.7 146.1,752 147.1,753.1 148.1,754.5 149.1,754.4 150.1,756.1 151.1,754.8 152.1,755.9 153.1,754.9 154.1,756.2 155.1,755.9 156.1,757.8 157.1,757.5 158.1,757.4 159.1,758.7 160.1,758.4 161.1,757.9 162.1,756.8 163.1,756.3 164.1,757.6 165.1,757.4 166.1,757.2 167.1,757.6 168.1,756.5 169.1,759.3 170.1,757.1 171.1,757.6 172.1,758.7 173.1,756.9 174.1,759.2 175.1,759.3 176.1,758.3 177.1,757.7 178.1,758.3 179.1,757.1 180.1,760 181.1,758.9 182.1,758.3 183.1,758.2 184.1,759.5 185.1,760.3 186.1,758 187.1,758.7 188.1,757.7 189.1,759.8" fill="none" stroke="#d8e78e" stroke-width="1.1" stroke-linejoin="round" />
<g fill="#d8e78e" stroke="#000" stroke-opacity="0.25" stroke-width="0.4"><circle cx="24.1" cy="754.5" r="1.1"/><circle cx="27.1" cy="753.8" r="1.1"/><circle cx="30.1" cy="756.3" r="1.1"/><circle cx="33.1" cy="755.6" r="1.1"/><circle cx="36.1" cy="755.3" r="1.1"/><circle cx="39.1" cy="754.6" r="1.1"/><circle cx="42.1" cy="755.3" r="1.1"/><circle cx="45.1" cy="755.4" r="1.1"/><circle cx="48.1" cy="755.4" r="1.1"/><circle cx="51.1" cy="754.6" r="1.1"/><circle cx="54.1" cy="755.6" r="1.1"/><circle cx="57.1" cy="754.8" r="1.1"/><circle cx="60.1" cy="750.8" r="1.1"/><circle cx="63.1" cy="748.4" r="1.1"/><circle cx="66.1" cy="740" r="1.1"/><circle cx="69.1" cy="729.3" r="1.1"/><circle cx="72.1" cy="718.5" r="1.1"/><circle cx="75.1" cy="701.3" r="1.1"/><circle cx="78.1" cy="684" r="1.1"/><circle cx="81.1" cy="665.1" r="1.1"/><circle cx="84.1" cy="646.3" r="1.1"/><circle cx="87.1" cy="634.9" r="1.1"/><circle cx="90.1" cy="626" r="1.1"/><circle cx="93.1" cy="630" r="1.1"/><circle cx="96.1" cy="637.9" r="1.1"/><circle cx="99.1" cy="650" r="1.1"/><circle cx="102.1" cy="648.5" r="1.1"/><circle cx="105.1" cy="634.8" r="1.1"/><circle cx="108.1" cy="615.1" r="1.1"/><circle cx="111.1" cy="593.1" r="1.1"/><circle cx="114.1" cy="580.4" r="1.1"/><circle cx="117.1" cy="576.4" r="1.1"/><circle cx="120.1" cy="584.5" r="1.1"/><circle cx="123.1" cy="604.7" r="1.1"/><circle cx="126.1" cy="635.2" r="1.1"/><circle cx="129.1" cy="671" r="1.1"/><circle cx="132.1" cy="702.8" r="1.1"/><circle cx="135.1" cy="726.9" r="1.1"/><circle cx="138.1" cy="737.9" r="1.1"/><circle cx="141.1" cy="746.7" r="1.1"/><circle cx="144.1" cy="750.4" r="1.1"/><circle cx="147.1" cy="753.1" r="1.1"/><circle cx="150.1" cy="756.1" r="1.1"/><circle cx="153.1" cy="754.9" r="1.1"/><circle cx="156.1" cy="757.8" r="1.1"/><circle cx="159.1" cy="758.7" r="1.1"/><circle cx="162.1" cy="756.8" r="1.1"/><circle cx="165.1" cy="757.4" r="1.1"/><circle cx="168.1" cy="756.5" r="1.1"/><circle cx="171.1" cy="757.6" r="1.1"/><circle cx="174.1" cy="759.2" r="1.1"/><circle cx="177.1" cy="757.7" r="1.1"/><circle cx="180.1" cy="760" r="1.1"/><circle cx="183.1" cy="758.2" r="1.1"/><circle cx="186.1" cy="758" r="1.1"/><circle cx="189.1" cy="759.8" r="1.1"/></g>
<path d="M24.1,755.3L25.1,757.2 26.1,755.2 27.1,754.9 28.1,754.7 29.1,756.1 30.1,754 31.1,756 32.1,755.6 33.1,755 34.1,754.7 35.1,756.4 36.1,757.1 37.1,755.2 38.1,756 39.1,757.1 40.1,755.1 41.1,755.4 42.1,754.6 43.1,755.6 44.1,755.6 45.1,755.4 46.1,755.1 47.1,754.4 48.1,754.7 49.1,755 50.1,756.4 51.1,755.5 52.1,755.2 53.1,756.5 54.1,756.4 55.1,755 56.1,754.6 57.1,755 58.1,753.9 59.1,751.9 60.1,751.7 61.1,750.3 62.1,750 63.1,746.8 64.1,746.3 65.1,743.6 66.1,739.7 67.1,738.5 68.1,735.2 69.1,729.9 70.1,729.1 71.1,722.7 72.1,718.3 73.1,713.7 74.1,709.2 75.1,703.4 76.1,697.3 77.1,692.8 78.1,686 79.1,680.8 80.1,675.9 81.1,667.8 82.1,659.3 83.1,654.8 84.1,648.2 85.1,643.7 86.1,639.2 87.1,634.2 88.1,630.5 89.1,628.5 90.1,627.7 91.1,626 92.1,630.1 93.1,630.9 94.1,632.6 95.1,634.8 96.1,636.4 97.1,640.9 98.1,645.7 99.1,648.9 100.1,650.1 101.1,649.2 102.1,646.9 103.1,645.7 104.1,641.2 105.1,636.3 106.1,630.1 107.1,624.9 108.1,616.3 109.1,611.1 110.1,602.9 111.1,596 112.1,590.4 113.1,587.6 114.1,581.9 115.1,576.7 116.1,576.7 117.1,576 118.1,577 119.1,581 120.1,586.1 121.1,589 122.1,593.5 123.1,600.9 124.1,610.5 125.1,621.4 126.1,629.5 127.1,640 128.1,655 129.1,665.3 130.1,677.8 131.1,687.2 132.1,698.2 133.1,706.2 134.1,716.4 135.1,725 136.1,730.3 137.1,733.1 138.1,737.9 139.1,739.8 140.1,742 141.1,746 142.1,748.5 143.1,749.4 144.1,748.7 145.1,751.7 146.1,752.5 147.1,752.3 148.1,751.2 149.1,755 150.1,755.4 151.1,755.6 152.1,754 153.1,754.5 154.1,757 155.1,757.1 156.1,757 157.1,756.5 158.1,757.3 159.1,756.6 160.1,756.9 161.1,756.5 162.1,757.6 163.1,757.1 164.1,758.4 165.1,758.3 166.1,757 167.1,759.5 168.1,756.9 169.1,758.4 170.1,759 171.1,759.3 172.1,756.2 173.1,759.2 174.1,759.5 175.1,759.7 176.1,756.5 177.1,758 178.1,758.6 179.1,758.3 180.1,760 181.1,758.2 182.1,760 183.1,759.4 184.1,757.7 185.1,758.2 186.1,758.7 187.1,759.2 188.1,760.1 189.1,759.1" fill="none" stroke="#cde07a" stroke-width="1.1" stroke-linejoin="round" />
<g fill="#cde07a" stroke="#000" stroke-opacity="0.25" stroke-width="0.4"><circle cx="24.1" cy="755.3" r="1.1"/><circle cx="27.1" cy="754.9" r="1.1"/><circle cx="30.1" cy="754" r="1.1"/><circle cx="33.1" cy="755" r="1.1"/><circle cx="36.1" cy="757.1" r="1.1"/><circle cx="39.1" cy="757.1" r="1.1"/><circle cx="42.1" cy="754.6" r="1.1"/><circle cx="45.1" cy="755.4" r="1.1"/><circle cx="48.1" cy="754.7" r="1.1"/><circle cx="51.1" cy="755.5" r="1.1"/><circle cx="54.1" cy="756.4" r="1.1"/><circle cx="57.1" cy="755" r="1.1"/><circle cx="60.1" cy="751.7" r="1.1"/><circle cx="63.1" cy="746.8" r="1.1"/><circle cx="66.1" cy="739.7" r="1.1"/><circle cx="69.1" cy="729.9" r="1.1"/><circle cx="72.1" cy="718.3" r="1.1"/><circle cx="75.1" cy="703.4" r="1.1"/><circle cx="78.1" cy="686" r="1.1"/><circle cx="81.1" cy="667.8" r="1.1"/><circle cx="84.1" cy="648.2" r="1.1"/><circle cx="87.1" cy="634.2" r="1.1"/><circle cx="90.1" cy="627.7" r="1.1"/><circle cx="93.1" cy="630.9" r="1.1"/><circle cx="96.1" cy="636.4" r="1.1"/><circle cx="99.1" cy="648.9" r="1.1"/><circle cx="102.1" cy="646.9" r="1.1"/><circle cx="105.1" cy="636.3" r="1.1"/><circle cx="108.1" cy="616.3" r="1.1"/><circle cx="111.1" cy="596" r="1.1"/><circle cx="114.1" cy="581.9" r="1.1"/><circle cx="117.1" cy="576" r="1.1"/><circle cx="120.1" cy="586.1" r="1.1"/><circle cx="123.1" cy="600.9" r="1.1"/><circle cx="126.1" cy="629.5" r="1.1"/><circle cx="129.1" cy="665.3" r="1.1"/><circle cx="132.1" cy="698.2" r="1.1"/><circle cx="135.1" cy="725" r="1.1"/><circle cx="138.1" cy="737.9" r="1.1"/><circle cx="141.1" cy="746" r="1.1"/><circle cx="144.1" cy="748.7" r="1.1"/><circle cx="147.1" cy="752.3" r="1.1"/><circle cx="150.1" cy="755.4" r="1.1"/><circle cx="153.1" cy="754.5" r="1.1"/><circle cx="156.1" cy="757" r="1.1"/><circle cx="159.1" cy="756.6" r="1.1"/><circle cx="162.1" cy="757.6" r="1.1"/><circle cx="165.1" cy="758.3" r="1.1"/><circle cx="168.1" cy="756.9" r="1.1"/><circle cx="171.1" cy="759.3" r="1.1"/><circle cx="174.1" cy="759.5" r="1.1"/><circle cx="177.1" cy="758" r="1.1"/><circle cx="180.1" cy="760" r="1.1"/><circle cx="183.1" cy="759.4" r="1.1"/><circle cx="186.1" cy="758.7" r="1.1"/><circle cx="189.1" cy="759.1" r="1.1"/></g>
<path d="M24.1,756L25.1,753.8 26.1,752.5 27.1,755 28.1,755.7 29.1,755 30.1,754.5 31.1,755.8 32.1,757.2 33.1,755.3 34.1,754.8 35.1,754.7 36.1,757.3 37.1,755.5 38.1,756.1 39.1,756.7 40.1,756.6 41.1,754.8 42.1,756.5 43.1,756.5 44.1,756.2 45.1,756.7 46.1,755.3 47.1,755.7 48.1,755.3 49.1,756.5 50.1,755.3 51.1,756.3 52.1,754.9 53.1,755.8 54.1,755.6 55.1,755.6 56.1,755.4 57.1,754.5 58.1,753.6 59.1,751 60.1,752.8 61.1,750.1 62.1,749.2 63.1,747.3 64.1,747.1 65.1,743.1 66.1,741.8 67.1,739.6 68.1,736.9 69.1,733.1 70.1,729.1 71.1,723.8 72.1,721.7 73.1,716.7 74.1,711 75.1,705.4 76.1,699.3 77.1,693.1 78.1,688.6 79.1,682.8 80.1,674.6 81.1,670.5 82.1,663.9 83.1,658.2 84.1,651.5 85.1,646.6 86.1,641.8 87.1,637.8 88.1,631.9 89.1,630.9 90.1,628.8 91.1,627.7 92.1,630.2 93.1,629.8 94.1,633.5 95.1,636.1 96.1,636.4 97.1,641.1 98.1,644.4 99.1,648 100.1,648.4 101.1,650.4 102.1,648.6 103.1,646.6 104.1,642.5 105.1,639.5 106.1,634.5 107.1,629.1 108.1,622.6 109.1,613.8 110.1,607 111.1,600.1 112.1,594.4 113.1,588 114.1,584.5 115.1,581.5 116.1,578.6 117.1,579.2 118.1,579.8 119.1,580.4 120.1,584.5 121.1,588.7 122.1,592 123.1,597.9 124.1,608.1 125.1,616.8 126.1,629.2 127.1,637.9 128.1,649.3 129.1,660.3 130.1,672.3 131.1,682.3 132.1,692 133.1,702.6 134.1,711.4 135.1,721.4 136.1,725.5 137.1,731 138.1,734.5 139.1,737.5 140.1,743.3 141.1,742.5 142.1,747.7 143.1,746.7 144.1,749.3 145.1,752.3 146.1,749.5 147.1,751.1 148.1,754.3 149.1,753.9 150.1,753.9 151.1,754.9 152.1,754.5 153.1,755.8 154.1,757.3 155.1,755.9 156.1,756.6 157.1,757.8 158.1,758.6 159.1,756.5 160.1,757.4 161.1,756.8 162.1,756.8 163.1,757.1 164.1,757 165.1,756.1 166.1,756 167.1,757.2 168.1,758 169.1,759.1 170.1,757.6 171.1,758 172.1,758.8 173.1,759 174.1,758.3 175.1,758.4 176.1,760.2 177.1,758.3 178.1,758.2 179.1,757.3 180.1,759.2 181.1,758.6 182.1,760.6 183.1,758.7 184.1,759.7 185.1,759.9 186.1,760.6 187.1,758 188.1,760.6 189.1,759.3" fill="none" stroke="#9cc45c" stroke-width="1.1" stroke-linejoin="round" />
<g fill="#9cc45c" stroke="#000" stroke-opacity="0.25" stroke-width="0.4"><circle cx="24.1" cy="756" r="1.1"/><circle cx="27.1" cy="755" r="1.1"/><circle cx="30.1" cy="754.5" r="1.1"/><circle cx="33.1" cy="755.3" r="1.1"/><circle cx="36.1" cy="757.3" r="1.1"/><circle cx="39.1" cy="756.7" r="1.1"/><circle cx="42.1" cy="756.5" r="1.1"/><circle cx="45.1" cy="756.7" r="1.1"/><circle cx="48.1" cy="755.3" r="1.1"/><circle cx="51.1" cy="756.3" r="1.1"/><circle cx="54.1" cy="755.6" r="1.1"/><circle cx="57.1" cy="754.5" r="1.1"/><circle cx="60.1" cy="752.8" r="1.1"/><circle cx="63.1" cy="747.3" r="1.1"/><circle cx="66.1" cy="741.8" r="1.1"/><circle cx="69.1" cy="733.1" r="1.1"/><circle cx="72.1" cy="721.7" r="1.1"/><circle cx="75.1" cy="705.4" r="1.1"/><circle cx="78.1" cy="688.6" r="1.1"/><circle cx="81.1" cy="670.5" r="1.1"/><circle cx="84.1" cy="651.5" r="1.1"/><circle cx="87.1" cy="637.8" r="1.1"/><circle cx="90.1" cy="628.8" r="1.1"/><circle cx="93.1" cy="629.8" r="1.1"/><circle cx="96.1" cy="636.4" r="1.1"/><circle cx="99.1" cy="648" r="1.1"/><circle cx="102.1" cy="648.6" r="1.1"/><circle cx="105.1" cy="639.5" r="1.1"/><circle cx="108.1" cy="622.6" r="1.1"/><circle cx="111.1" cy="600.1" r="1.1"/><circle cx="114.1" cy="584.5" r="1.1"/><circle cx="117.1" cy="579.2" r="1.1"/><circle cx="120.1" cy="584.5" r="1.1"/><circle cx="123.1" cy="597.9" r="1.1"/><circle cx="126.1" cy="629.2" r="1.1"/><circle cx="129.1" cy="660.3" r="1.1"/><circle cx="132.1" cy="692" r="1.1"/><circle cx="135.1" cy="721.4" r="1.1"/><circle cx="138.1" cy="734.5" r="1.1"/><circle cx="141.1" cy="742.5" r="1.1"/><circle cx="144.1" cy="749.3" r="1.1"/><circle cx="147.1" cy="751.1" r="1.1"/><circle cx="150.1" cy="753.9" r="1.1"/><circle cx="153.1" cy="755.8" r="1.1"/><circle cx="156.1" cy="756.6" r="1.1"/><circle cx="159.1" cy="756.5" r="1.1"/><circle cx="162.1" cy="756.8" r="1.1"/><circle cx="165.1" cy="756.1" r="1.1"/><circle cx="168.1" cy="758" r="1.1"/><circle cx="171.1" cy="758" r="1.1"/><circle cx="174.1" cy="758.3" r="1.1"/><circle cx="177.1" cy="758.3" r="1.1"/><circle cx="180.1" cy="759.2" r="1.1"/><circle cx="183.1" cy="758.7" r="1.1"/><circle cx="186.1" cy="760.6" r="1.1"/><circle cx="189.1" cy="759.3" r="1.1"/></g>
<path d="M24.1,755.2L25.1,755 26.1,754.9 27.1,755 28.1,753.3 29.1,755.8 30.1,755.5 31.1,754.6 32.1,755.4 33.1,757.5 34.1,755.8 35.1,755.2 36.1,757.1 37.1,754.9 38.1,755.5 39.1,755.1 40.1,755.4 41.1,756.3 42.1,756.2 43.1,755.1 44.1,755.6 45.1,755.9 46.1,755.4 47.1,755.8 48.1,755.2 49.1,755.2 50.1,755.9 51.1,755 52.1,756.3 53.1,755.8 54.1,755.2 55.1,755.3 56.1,755 57.1,754.7 58.1,754.2 59.1,753 60.1,751.4 61.1,752.3 62.1,750.6 63.1,748.6 64.1,747.6 65.1,745 66.1,742 67.1,739.5 68.1,738.7 69.1,734 70.1,730.6 71.1,725.8 72.1,722.6 73.1,719.2 74.1,712.4 75.1,707.5 76.1,702.1 77.1,696.1 78.1,691 79.1,683.9 80.1,678.1 81.1,671.2 82.1,668.2 83.1,659.9 84.1,653.6 85.1,648.9 86.1,642.3 87.1,638.8 88.1,634.2 89.1,631.7 90.1,629.4 91.1,629.9 92.1,629.9 93.1,630.7 94.1,632.6 95.1,634.5 96.1,636.2 97.1,640.5 98.1,643.9 99.1,646.9 100.1,648.3 101.1,650.7 102.1,648.2 103.1,647.3 104.1,644 105.1,639.8 106.1,635.6 107.1,630.6 108.1,626.5 109.1,616.9 110.1,609.4 111.1,603.9 112.1,597.5 113.1,592.6 114.1,585.8 115.1,582.1 116.1,583.6 117.1,580 118.1,580.2 119.1,582.1 120.1,585.3 121.1,586.5 122.1,591.9 123.1,597.9 124.1,606.3 125.1,614.7 126.1,623.8 127.1,633.6 128.1,643.3 129.1,657.6 130.1,666.6 131.1,678.3 132.1,690.1 133.1,698.2 134.1,708.7 135.1,716.5 136.1,724.1 137.1,728.6 138.1,732.4 139.1,738 140.1,740 141.1,742 142.1,745.1 143.1,747.6 144.1,747.5 145.1,750.4 146.1,751.5 147.1,753.7 148.1,752.1 149.1,754 150.1,752.6 151.1,754.2 152.1,755.2 153.1,755.9 154.1,755.8 155.1,756 156.1,755.8 157.1,756.2 158.1,757.1 159.1,757.5 160.1,757.7 161.1,758.1 162.1,758.4 163.1,755.9 164.1,757.1 165.1,757.5 166.1,757.2 167.1,758.7 168.1,758.5 169.1,757.9 170.1,758.2 171.1,759.2 172.1,757.9 173.1,758 174.1,759.1 175.1,758.8 176.1,759.7 177.1,758.9 178.1,759.3 179.1,758.2 180.1,758 181.1,758.8 182.1,756.6 183.1,759.3 184.1,759.8 185.1,759.1 186.1,758.9 187.1,760.1 188.1,759.2 189.1,760.1" fill="none" stroke="#62a646" stroke-width="1.1" stroke-linejoin="round" />
<g fill="#62a646" stroke="#000" stroke-opacity="0.25" stroke-width="0.4"><circle cx="24.1" cy="755.2" r="1.1"/><circle cx="27.1" cy="755" r="1.1"/><circle cx="30.1" cy="755.5" r="1.1"/><circle cx="33.1" cy="757.5" r="1.1"/><circle cx="36.1" cy="757.1" r="1.1"/><circle cx="39.1" cy="755.1" r="1.1"/><circle cx="42.1" cy="756.2" r="1.1"/><circle cx="45.1" cy="755.9" r="1.1"/><circle cx="48.1" cy="755.2" r="1.1"/><circle cx="51.1" cy="755" r="1.1"/><circle cx="54.1" cy="755.2" r="1.1"/><circle cx="57.1" cy="754.7" r="1.1"/><circle cx="60.1" cy="751.4" r="1.1"/><circle cx="63.1" cy="748.6" r="1.1"/><circle cx="66.1" cy="742" r="1.1"/><circle cx="69.1" cy="734" r="1.1"/><circle cx="72.1" cy="722.6" r="1.1"/><circle cx="75.1" cy="707.5" r="1.1"/><circle cx="78.1" cy="691" r="1.1"/><circle cx="81.1" cy="671.2" r="1.1"/><circle cx="84.1" cy="653.6" r="1.1"/><circle cx="87.1" cy="638.8" r="1.1"/><circle cx="90.1" cy="629.4" r="1.1"/><circle cx="93.1" cy="630.7" r="1.1"/><circle cx="96.1" cy="636.2" r="1.1"/><circle cx="99.1" cy="646.9" r="1.1"/><circle cx="102.1" cy="648.2" r="1.1"/><circle cx="105.1" cy="639.8" r="1.1"/><circle cx="108.1" cy="626.5" r="1.1"/><circle cx="111.1" cy="603.9" r="1.1"/><circle cx="114.1" cy="585.8" r="1.1"/><circle cx="117.1" cy="580" r="1.1"/><circle cx="120.1" cy="585.3" r="1.1"/><circle cx="123.1" cy="597.9" r="1.1"/><circle cx="126.1" cy="623.8" r="1.1"/><circle cx="129.1" cy="657.6" r="1.1"/><circle cx="132.1" cy="690.1" r="1.1"/><circle cx="135.1" cy="716.5" r="1.1"/><circle cx="138.1" cy="732.4" r="1.1"/><circle cx="141.1" cy="742" r="1.1"/><circle cx="144.1" cy="747.5" r="1.1"/><circle cx="147.1" cy="753.7" r="1.1"/><circle cx="150.1" cy="752.6" r="1.1"/><circle cx="153.1" cy="755.9" r="1.1"/><circle cx="156.1" cy="755.8" r="1.1"/><circle cx="159.1" cy="757.5" r="1.1"/><circle cx="162.1" cy="758.4" r="1.1"/><circle cx="165.1" cy="757.5" r="1.1"/><circle cx="168.1" cy="758.5" r="1.1"/><circle cx="171.1" cy="759.2" r="1.1"/><circle cx="174.1" cy="759.1" r="1.1"/><circle cx="177.1" cy="758.9" r="1.1"/><circle cx="180.1" cy="758" r="1.1"/><circle cx="183.1" cy="759.3" r="1.1"/><circle cx="186.1" cy="758.9" r="1.1"/><circle cx="189.1" cy="760.1" r="1.1"/></g>
<path d="M24.1,757.1L25.1,755.9 26.1,756.1 27.1,755.7 28.1,755.6 29.1,755.6 30.1,755.4 31.1,756.3 32.1,754 33.1,755.2 34.1,756.1 35.1,754.8 36.1,755.4 37.1,755 38.1,756 39.1,756.4 40.1,756.9 41.1,756.1 42.1,755.1 43.1,755.9 44.1,756.2 45.1,757 46.1,753.9 47.1,756.1 48.1,754.3 49.1,756.5 50.1,756.3 51.1,756.3 52.1,756.7 53.1,756.3 54.1,755.4 55.1,756.2 56.1,756.6 57.1,754.9 58.1,754.3 59.1,752.4 60.1,753.4 61.1,750.9 62.1,749.5 63.1,748.5 64.1,746.6 65.1,745.1 66.1,744 67.1,740.9 68.1,738.5 69.1,735.3 70.1,729.9 71.1,727.6 72.1,724.6 73.1,720.7 74.1,712.4 75.1,706.9 76.1,703.1 77.1,696.9 78.1,690.6 79.1,685.8 80.1,678.8 81.1,671.6 82.1,667.7 83.1,661.7 84.1,655.9 85.1,650.3 86.1,644.4 87.1,639.9 88.1,635.8 89.1,631.4 90.1,630.1 91.1,630.6 92.1,630.6 93.1,632.9 94.1,632.5 95.1,632.8 96.1,636.9 97.1,639.8 98.1,641.3 99.1,644.5 100.1,648.8 101.1,650.7 102.1,648.7 103.1,647.6 104.1,644.4 105.1,640.6 106.1,636.7 107.1,633.4 108.1,627 109.1,619.6 110.1,610.5 111.1,607.4 112.1,599 113.1,594.2 114.1,588.4 115.1,585.6 116.1,581.2 117.1,581.4 118.1,581.1 119.1,583.1 120.1,583.4 121.1,586.6 122.1,590.5 123.1,598.1 124.1,602.1 125.1,611.7 126.1,620.2 127.1,630.9 128.1,641.9 129.1,652.6 130.1,663.7 131.1,674.5 132.1,683.9 133.1,694.2 134.1,702.6 135.1,712.6 136.1,719.5 137.1,725.6 138.1,731.1 139.1,735 140.1,738.9 141.1,742.6 142.1,742.2 143.1,746.6 144.1,747.7 145.1,748.9 146.1,749.1 147.1,751.8 148.1,753.2 149.1,753.9 150.1,753.6 151.1,754.8 152.1,755.6 153.1,756.8 154.1,756.7 155.1,756.1 156.1,756.3 157.1,756.6 158.1,756.9 159.1,756.5 160.1,757.7 161.1,756.6 162.1,756.6 163.1,757.7 164.1,757 165.1,757.4 166.1,755.9 167.1,758.4 168.1,757.8 169.1,757.8 170.1,758.4 171.1,758.3 172.1,757.6 173.1,760 174.1,757.9 175.1,759.2 176.1,760 177.1,758 178.1,758.7 179.1,758 180.1,759.6 181.1,758.5 182.1,757.9 183.1,760 184.1,759.8 185.1,758.3 186.1,760.1 187.1,759.3 188.1,761.5 189.1,760.7" fill="none" stroke="#338236" stroke-width="1.1" stroke-linejoin="round" />
<g fill="#338236" stroke="#000" stroke-opacity="0.25" stroke-width="0.4"><circle cx="24.1" cy="757.1" r="1.1"/><circle cx="27.1" cy="755.7" r="1.1"/><circle cx="30.1" cy="755.4" r="1.1"/><circle cx="33.1" cy="755.2" r="1.1"/><circle cx="36.1" cy="755.4" r="1.1"/><circle cx="39.1" cy="756.4" r="1.1"/><circle cx="42.1" cy="755.1" r="1.1"/><circle cx="45.1" cy="757" r="1.1"/><circle cx="48.1" cy="754.3" r="1.1"/><circle cx="51.1" cy="756.3" r="1.1"/><circle cx="54.1" cy="755.4" r="1.1"/><circle cx="57.1" cy="754.9" r="1.1"/><circle cx="60.1" cy="753.4" r="1.1"/><circle cx="63.1" cy="748.5" r="1.1"/><circle cx="66.1" cy="744" r="1.1"/><circle cx="69.1" cy="735.3" r="1.1"/><circle cx="72.1" cy="724.6" r="1.1"/><circle cx="75.1" cy="706.9" r="1.1"/><circle cx="78.1" cy="690.6" r="1.1"/><circle cx="81.1" cy="671.6" r="1.1"/><circle cx="84.1" cy="655.9" r="1.1"/><circle cx="87.1" cy="639.9" r="1.1"/><circle cx="90.1" cy="630.1" r="1.1"/><circle cx="93.1" cy="632.9" r="1.1"/><circle cx="96.1" cy="636.9" r="1.1"/><circle cx="99.1" cy="644.5" r="1.1"/><circle cx="102.1" cy="648.7" r="1.1"/><circle cx="105.1" cy="640.6" r="1.1"/><circle cx="108.1" cy="627" r="1.1"/><circle cx="111.1" cy="607.4" r="1.1"/><circle cx="114.1" cy="588.4" r="1.1"/><circle cx="117.1" cy="581.4" r="1.1"/><circle cx="120.1" cy="583.4" r="1.1"/><circle cx="123.1" cy="598.1" r="1.1"/><circle cx="126.1" cy="620.2" r="1.1"/><circle cx="129.1" cy="652.6" r="1.1"/><circle cx="132.1" cy="683.9" r="1.1"/><circle cx="135.1" cy="712.6" r="1.1"/><circle cx="138.1" cy="731.1" r="1.1"/><circle cx="141.1" cy="742.6" r="1.1"/><circle cx="144.1" cy="747.7" r="1.1"/><circle cx="147.1" cy="751.8" r="1.1"/><circle cx="150.1" cy="753.6" r="1.1"/><circle cx="153.1" cy="756.8" r="1.1"/><circle cx="156.1" cy="756.3" r="1.1"/><circle cx="159.1" cy="756.5" r="1.1"/><circle cx="162.1" cy="756.6" r="1.1"/><circle cx="165.1" cy="757.4" r="1.1"/><circle cx="168.1" cy="757.8" r="1.1"/><circle cx="171.1" cy="758.3" r="1.1"/><circle cx="174.1" cy="757.9" r="1.1"/><circle cx="177.1" cy="758" r="1.1"/><circle cx="180.1" cy="759.6" r="1.1"/><circle cx="183.1" cy="760" r="1.1"/><circle cx="186.1" cy="760.1" r="1.1"/><circle cx="189.1" cy="760.7" r="1.1"/></g>
<line x1="121.3" y1="561.9" x2="127.3" y2="589.7" stroke="#111" stroke-width="0.9" />
<path d="M128.2,594.1L125.5,590.1 129,589.3Z" fill="#111"/>
<line x1="93.6" y1="616.6" x2="97.6" y2="631.4" stroke="#111" stroke-width="0.9" />
<path d="M98.8,635.7L95.9,631.8 99.4,630.9Z" fill="#111"/>
<text x="124.7" y="570.2" font-size="10.5" fill="#1e1e1e">0 h</text>
<text x="130" y="597.2" font-size="10.5" fill="#1e1e1e">23 h</text>
<text x="30.5" y="581.4" font-size="11" fill="#1e1e1e">Br 3 <tspan font-style="italic">d</tspan></text>
<text x="8.6" y="670.2" font-size="11.3" fill="#1e1e1e" text-anchor="middle" textLength="104.9" lengthAdjust="spacingAndGlyphs" transform="rotate(-90 8.6 666.2)">Intensity (arb. units)</text>
<text x="105.4" y="807.9" font-size="11" fill="#1e1e1e" text-anchor="middle" textLength="99.5" lengthAdjust="spacingAndGlyphs">Binding energy (eV)</text>
<rect x="217.5" y="557.5" width="190" height="217" fill="none" stroke="#8a8a8a" stroke-width="1.0"/>
<line x1="217.7" y1="666.6" x2="407.2" y2="666.6" stroke="#8a8a8a" stroke-width="1.2" />
<line x1="394.5" y1="557.5" x2="394.5" y2="559.7" stroke="#8a8a8a" stroke-width="0.8" />
<line x1="394.5" y1="666.6" x2="394.5" y2="664.1" stroke="#8a8a8a" stroke-width="0.8" />
<line x1="394.5" y1="774" x2="394.5" y2="771.5" stroke="#8a8a8a" stroke-width="0.8" />
<line x1="379.9" y1="557.5" x2="379.9" y2="559.7" stroke="#8a8a8a" stroke-width="0.8" />
<line x1="379.9" y1="666.6" x2="379.9" y2="664.1" stroke="#8a8a8a" stroke-width="0.8" />
<line x1="379.9" y1="774" x2="379.9" y2="771.5" stroke="#8a8a8a" stroke-width="0.8" />
<line x1="365.2" y1="557.5" x2="365.2" y2="559.7" stroke="#8a8a8a" stroke-width="0.8" />
<line x1="365.2" y1="666.6" x2="365.2" y2="664.1" stroke="#8a8a8a" stroke-width="0.8" />
<line x1="365.2" y1="774" x2="365.2" y2="771.5" stroke="#8a8a8a" stroke-width="0.8" />
<line x1="350.5" y1="557.5" x2="350.5" y2="559.7" stroke="#8a8a8a" stroke-width="0.8" />
<line x1="350.5" y1="666.6" x2="350.5" y2="664.1" stroke="#8a8a8a" stroke-width="0.8" />
<line x1="350.5" y1="774" x2="350.5" y2="771.5" stroke="#8a8a8a" stroke-width="0.8" />
<line x1="335.8" y1="557.5" x2="335.8" y2="559.7" stroke="#8a8a8a" stroke-width="0.8" />
<line x1="335.8" y1="666.6" x2="335.8" y2="664.1" stroke="#8a8a8a" stroke-width="0.8" />
<line x1="335.8" y1="774" x2="335.8" y2="771.5" stroke="#8a8a8a" stroke-width="0.8" />
<line x1="321.1" y1="557.5" x2="321.1" y2="559.7" stroke="#8a8a8a" stroke-width="0.8" />
<line x1="321.1" y1="666.6" x2="321.1" y2="664.1" stroke="#8a8a8a" stroke-width="0.8" />
<line x1="321.1" y1="774" x2="321.1" y2="771.5" stroke="#8a8a8a" stroke-width="0.8" />
<line x1="306.5" y1="557.5" x2="306.5" y2="559.7" stroke="#8a8a8a" stroke-width="0.8" />
<line x1="306.5" y1="666.6" x2="306.5" y2="664.1" stroke="#8a8a8a" stroke-width="0.8" />
<line x1="306.5" y1="774" x2="306.5" y2="771.5" stroke="#8a8a8a" stroke-width="0.8" />
<line x1="291.8" y1="557.5" x2="291.8" y2="559.7" stroke="#8a8a8a" stroke-width="0.8" />
<line x1="291.8" y1="666.6" x2="291.8" y2="664.1" stroke="#8a8a8a" stroke-width="0.8" />
<line x1="291.8" y1="774" x2="291.8" y2="771.5" stroke="#8a8a8a" stroke-width="0.8" />
<line x1="277.1" y1="557.5" x2="277.1" y2="559.7" stroke="#8a8a8a" stroke-width="0.8" />
<line x1="277.1" y1="666.6" x2="277.1" y2="664.1" stroke="#8a8a8a" stroke-width="0.8" />
<line x1="277.1" y1="774" x2="277.1" y2="771.5" stroke="#8a8a8a" stroke-width="0.8" />
<line x1="262.4" y1="557.5" x2="262.4" y2="559.7" stroke="#8a8a8a" stroke-width="0.8" />
<line x1="262.4" y1="666.6" x2="262.4" y2="664.1" stroke="#8a8a8a" stroke-width="0.8" />
<line x1="262.4" y1="774" x2="262.4" y2="771.5" stroke="#8a8a8a" stroke-width="0.8" />
<line x1="247.8" y1="557.5" x2="247.8" y2="559.7" stroke="#8a8a8a" stroke-width="0.8" />
<line x1="247.8" y1="666.6" x2="247.8" y2="664.1" stroke="#8a8a8a" stroke-width="0.8" />
<line x1="247.8" y1="774" x2="247.8" y2="771.5" stroke="#8a8a8a" stroke-width="0.8" />
<line x1="233.1" y1="557.5" x2="233.1" y2="559.7" stroke="#8a8a8a" stroke-width="0.8" />
<line x1="233.1" y1="666.6" x2="233.1" y2="664.1" stroke="#8a8a8a" stroke-width="0.8" />
<line x1="233.1" y1="774" x2="233.1" y2="771.5" stroke="#8a8a8a" stroke-width="0.8" />
<line x1="218.4" y1="557.5" x2="218.4" y2="559.7" stroke="#8a8a8a" stroke-width="0.8" />
<line x1="218.4" y1="666.6" x2="218.4" y2="664.1" stroke="#8a8a8a" stroke-width="0.8" />
<line x1="218.4" y1="774" x2="218.4" y2="771.5" stroke="#8a8a8a" stroke-width="0.8" />
<line x1="217.7" y1="572" x2="219.9" y2="572" stroke="#8a8a8a" stroke-width="0.8" />
<line x1="407.2" y1="572" x2="405" y2="572" stroke="#8a8a8a" stroke-width="0.8" />
<line x1="217.7" y1="586" x2="219.9" y2="586" stroke="#8a8a8a" stroke-width="0.8" />
<line x1="407.2" y1="586" x2="405" y2="586" stroke="#8a8a8a" stroke-width="0.8" />
<line x1="217.7" y1="599.5" x2="219.9" y2="599.5" stroke="#8a8a8a" stroke-width="0.8" />
<line x1="407.2" y1="599.5" x2="405" y2="599.5" stroke="#8a8a8a" stroke-width="0.8" />
<line x1="217.7" y1="613.3" x2="219.9" y2="613.3" stroke="#8a8a8a" stroke-width="0.8" />
<line x1="407.2" y1="613.3" x2="405" y2="613.3" stroke="#8a8a8a" stroke-width="0.8" />
<line x1="217.7" y1="627" x2="219.9" y2="627" stroke="#8a8a8a" stroke-width="0.8" />
<line x1="407.2" y1="627" x2="405" y2="627" stroke="#8a8a8a" stroke-width="0.8" />
<line x1="217.7" y1="640.6" x2="219.9" y2="640.6" stroke="#8a8a8a" stroke-width="0.8" />
<line x1="407.2" y1="640.6" x2="405" y2="640.6" stroke="#8a8a8a" stroke-width="0.8" />
<line x1="217.7" y1="654" x2="219.9" y2="654" stroke="#8a8a8a" stroke-width="0.8" />
<line x1="407.2" y1="654" x2="405" y2="654" stroke="#8a8a8a" stroke-width="0.8" />
<line x1="217.7" y1="680.6" x2="219.9" y2="680.6" stroke="#8a8a8a" stroke-width="0.8" />
<line x1="407.2" y1="680.6" x2="405" y2="680.6" stroke="#8a8a8a" stroke-width="0.8" />
<line x1="217.7" y1="694.3" x2="219.9" y2="694.3" stroke="#8a8a8a" stroke-width="0.8" />
<line x1="407.2" y1="694.3" x2="405" y2="694.3" stroke="#8a8a8a" stroke-width="0.8" />
<line x1="217.7" y1="708" x2="219.9" y2="708" stroke="#8a8a8a" stroke-width="0.8" />
<line x1="407.2" y1="708" x2="405" y2="708" stroke="#8a8a8a" stroke-width="0.8" />
<line x1="217.7" y1="721.6" x2="219.9" y2="721.6" stroke="#8a8a8a" stroke-width="0.8" />
<line x1="407.2" y1="721.6" x2="405" y2="721.6" stroke="#8a8a8a" stroke-width="0.8" />
<line x1="217.7" y1="735.2" x2="219.9" y2="735.2" stroke="#8a8a8a" stroke-width="0.8" />
<line x1="407.2" y1="735.2" x2="405" y2="735.2" stroke="#8a8a8a" stroke-width="0.8" />
<line x1="217.7" y1="748.7" x2="219.9" y2="748.7" stroke="#8a8a8a" stroke-width="0.8" />
<line x1="407.2" y1="748.7" x2="405" y2="748.7" stroke="#8a8a8a" stroke-width="0.8" />
<line x1="217.7" y1="762.4" x2="219.9" y2="762.4" stroke="#8a8a8a" stroke-width="0.8" />
<line x1="407.2" y1="762.4" x2="405" y2="762.4" stroke="#8a8a8a" stroke-width="0.8" />
<text x="379.9" y="786.9" font-size="10.8" fill="#1e1e1e" text-anchor="middle">67</text>
<text x="350.5" y="786.9" font-size="10.8" fill="#1e1e1e" text-anchor="middle">68</text>
<text x="321.1" y="786.9" font-size="10.8" fill="#1e1e1e" text-anchor="middle">69</text>
<text x="291.8" y="786.9" font-size="10.8" fill="#1e1e1e" text-anchor="middle">70</text>
<text x="262.4" y="786.9" font-size="10.8" fill="#1e1e1e" text-anchor="middle">71</text>
<text x="233.1" y="786.9" font-size="10.8" fill="#1e1e1e" text-anchor="middle">72</text>
<path d="M274.5,656.7L275.1,656.4 275.7,656.1 276.2,655.7 276.8,655.3 277.4,654.9 278,654.4 278.6,653.9 279.2,653.3 279.8,652.7 280.4,652 280.9,651.2 281.5,650.4 282.1,649.5 282.7,648.6 283.3,647.6 283.9,646.5 284.5,645.4 285,644.2 285.6,642.9 286.2,641.6 286.8,640.2 287.4,638.8 288,637.3 288.6,635.8 289.2,634.2 289.7,632.6 290.3,630.9 290.9,629.3 291.5,627.6 292.1,625.9 292.7,624.2 293.3,622.6 293.9,620.9 294.4,619.3 295,617.8 295.6,616.3 296.2,614.9 296.8,613.5 297.4,612.2 298,611.1 298.6,610 299.1,609.1 299.7,608.2 300.3,607.5 300.9,607 301.5,606.6 302.1,606.3 302.7,606.2 303.2,606.2 303.8,606.3 304.4,606.6 305,607.1 305.6,607.7 306.2,608.4 306.8,609.3 307.4,610.3 307.9,611.4 308.5,612.6 309.1,613.9 309.7,615.2 310.3,616.7 310.9,618.2 311.5,619.8 312.1,621.5 312.6,623.1 313.2,624.8 313.8,626.5 314.4,628.3 315,630 315.6,631.7 316.2,633.4 316.7,635 317.3,636.6 317.9,638.2 318.5,639.7 319.1,641.2 319.7,642.6 320.3,643.9 320.9,645.2 321.4,646.5 322,647.6 322.6,648.7 323.2,649.8 323.8,650.7 324.4,651.6 325,652.5 325.6,653.2 326.1,654 326.7,654.6 327.3,655.2 327.9,655.8 328.5,656.3 329.1,656.8 329.7,657.2 330.2,657.6 330.8,657.9 331.4,658.2 332,658.5 332.6,658.7 333.2,659 333.8,659.2 334.4,659.3 334.9,659.5 335.5,659.6 336.1,659.7 336.7,659.9 337.3,660 337.9,660 338.5,660.1 339.1,660.2 339.6,660.2 340.2,660.3 340.8,660.3 341.4,660.4 342,660.4 342.6,660.4 343.2,660.5 343.7,660.5 344.3,660.5 344.9,660.5 345.5,660.5 346.1,660.5 346.7,660.6 347.3,660.6 347.9,660.6 348.4,660.6 349,660.6 349.6,660.6 350.2,660.6 350.8,660.6 351.4,660.6 352,660.6 352.6,660.7 353.1,660.7 353.7,660.7 354.3,660.7 354.9,660.7 355.5,660.7 356.1,660.7 356.7,660.7 357.3,660.7 357.8,660.7 358.4,660.7 359,660.7 359.6,660.7 360.2,660.7 360.8,660.7 361.4,660.7 361.9,660.7 362.5,660.7 363.1,660.7 363.7,660.8 364.3,660.8 364.9,660.8 365.5,660.8 366.1,660.8 366.6,660.8 367.2,660.8 367.8,660.8 368.4,660.8 369,660.8 369.6,660.8 370.2,660.8 370.8,660.8 371.3,660.8 371.9,660.8 372.5,660.8 373.1,660.8 373.7,660.8 374.3,660.8 374.9,660.8 375.4,660.8 376,660.8 376.6,660.8 377.2,660.8 377.8,660.8 378.4,660.8 379,660.8 379.6,660.9 380.1,660.9 380.7,660.9 381.3,660.9 381.9,660.9 382.5,660.9 383.1,660.9 383.7,660.9 384.3,660.9 384.8,660.9 385.4,660.9 386,660.9 386.6,660.9 387.2,660.9 387.8,660.9 388.4,660.9 388.9,660.9 389.5,660.9 390.1,660.9 390.7,660.9 391.3,660.9 391.9,660.9 392.5,660.9 393.1,660.9 393.6,660.9 394.2,660.9 394.8,660.9 395.4,660.9 396,660.9 396.6,660.9 397.2,660.9 397.8,660.9 398.3,661 398.9,661 399.5,661 400.1,661 400.7,661 401.3,661 401.9,661 402.4,661 403,661 403.6,661 404.2,661 404.8,661 405.4,661 406,661" fill="none" stroke="#2a9a2a" stroke-width="0.9" stroke-linejoin="round" />
<path d="M219.9,658.4L220.5,658.4 221.1,658.4 221.7,658.4 222.2,658.4 222.8,658.4 223.4,658.4 224,658.4 224.6,658.4 225.2,658.4 225.8,658.4 226.3,658.4 226.9,658.4 227.5,658.5 228.1,658.5 228.7,658.5 229.3,658.5 229.9,658.5 230.5,658.5 231,658.5 231.6,658.5 232.2,658.5 232.8,658.5 233.4,658.5 234,658.5 234.6,658.5 235.2,658.5 235.7,658.5 236.3,658.5 236.9,658.5 237.5,658.5 238.1,658.5 238.7,658.5 239.3,658.5 239.9,658.5 240.4,658.5 241,658.5 241.6,658.5 242.2,658.5 242.8,658.5 243.4,658.5 244,658.5 244.5,658.5 245.1,658.5 245.7,658.5 246.3,658.6 246.9,658.6 247.5,658.6 248.1,658.6 248.7,658.6 249.2,658.6 249.8,658.6 250.4,658.6 251,658.6 251.6,658.6 252.2,658.6 252.8,658.6 253.4,658.6 253.9,658.6 254.5,658.6 255.1,658.6 255.7,658.6 256.3,658.6 256.9,658.6 257.5,658.6 258,658.6 258.6,658.6 259.2,658.6 259.8,658.6 260.4,658.6 261,658.6 261.6,658.6 262.2,658.6 262.7,658.6 263.3,658.6 263.9,658.7 264.5,658.7 265.1,658.7 265.7,658.7 266.3,658.7 266.9,658.7 267.4,658.7 268,658.7 268.6,658.7 269.2,658.7 269.8,658.7 270.4,658.7 271,658.7 271.5,658.7 272.1,658.7 272.7,658.7 273.3,658.7 273.9,658.7 274.5,658.7 275.1,658.7 275.7,658.7 276.2,658.7 276.8,658.7 277.4,658.7 278,658.7 278.6,658.8 279.2,658.8 279.8,658.8 280.4,658.8 280.9,658.8 281.5,658.8 282.1,658.8 282.7,658.8 283.3,658.8 283.9,658.8 284.5,658.8 285,658.8 285.6,658.8 286.2,658.8 286.8,658.8 287.4,658.8 288,658.8 288.6,658.8 289.2,658.8 289.7,658.7 290.3,658.7 290.9,658.7 291.5,658.7 292.1,658.7 292.7,658.6 293.3,658.6 293.9,658.5 294.4,658.5 295,658.4 295.6,658.3 296.2,658.3 296.8,658.1 297.4,658 298,657.9 298.6,657.7 299.1,657.6 299.7,657.4 300.3,657.2 300.9,656.9 301.5,656.6 302.1,656.3 302.7,656 303.2,655.6 303.8,655.2 304.4,654.7 305,654.2 305.6,653.7 306.2,653 306.8,652.4 307.4,651.6 307.9,650.8 308.5,650 309.1,649.1 309.7,648.1 310.3,647 310.9,645.9 311.5,644.7 312.1,643.4 312.6,642 313.2,640.6 313.8,639 314.4,637.5 315,635.8 315.6,634.1 316.2,632.2 316.7,630.4 317.3,628.4 317.9,626.5 318.5,624.4 319.1,622.4 319.7,620.2 320.3,618.1 320.9,615.9 321.4,613.8 322,611.6 322.6,609.4 323.2,607.3 323.8,605.2 324.4,603.1 325,601.1 325.6,599.2 326.1,597.3 326.7,595.5 327.3,593.9 327.9,592.3 328.5,590.8 329.1,589.5 329.7,588.3 330.2,587.3 330.8,586.4 331.4,585.6 332,585 332.6,584.6 333.2,584.4 333.8,584.3 334.4,584.4 334.9,584.7 335.5,585.1 336.1,585.8 336.7,586.5 337.3,587.5 337.9,588.5 338.5,589.8 339.1,591.1 339.6,592.6 340.2,594.2 340.8,595.9 341.4,597.8 342,599.7 342.6,601.6 343.2,603.7 343.7,605.8 344.3,607.9 344.9,610.1 345.5,612.3 346.1,614.5 346.7,616.7 347.3,618.9 347.9,621 348.4,623.2 349,625.3 349.6,627.4 350.2,629.4 350.8,631.3 351.4,633.3 352,635.1 352.6,636.9 353.1,638.6 353.7,640.2 354.3,641.7 354.9,643.2 355.5,644.6 356.1,645.9 356.7,647.1 357.3,648.3 357.8,649.4 358.4,650.4 359,651.4 359.6,652.3 360.2,653.1 360.8,653.8 361.4,654.5 361.9,655.2 362.5,655.7 363.1,656.3 363.7,656.8 364.3,657.2 364.9,657.6 365.5,658 366.1,658.3 366.6,658.6 367.2,658.9 367.8,659.1" fill="none" stroke="#e070b0" stroke-width="0.9" stroke-linejoin="round" />
<path d="M219.9,658.4L220.5,658.4 221.1,658.4 221.7,658.4 222.2,658.4 222.8,658.4 223.4,658.4 224,658.4 224.6,658.4 225.2,658.4 225.8,658.4 226.3,658.4 226.9,658.4 227.5,658.5 228.1,658.5 228.7,658.5 229.3,658.5 229.9,658.5 230.5,658.5 231,658.5 231.6,658.5 232.2,658.5 232.8,658.5 233.4,658.5 234,658.5 234.6,658.5 235.2,658.5 235.7,658.5 236.3,658.5 236.9,658.5 237.5,658.5 238.1,658.5 238.7,658.5 239.3,658.5 239.9,658.5 240.4,658.5 241,658.5 241.6,658.5 242.2,658.5 242.8,658.5 243.4,658.5 244,658.5 244.5,658.5 245.1,658.5 245.7,658.5 246.3,658.6 246.9,658.6 247.5,658.6 248.1,658.6 248.7,658.6 249.2,658.6 249.8,658.6 250.4,658.6 251,658.6 251.6,658.6 252.2,658.6 252.8,658.6 253.4,658.6 253.9,658.6 254.5,658.6 255.1,658.6 255.7,658.6 256.3,658.6 256.9,658.6 257.5,658.6 258,658.6 258.6,658.6 259.2,658.6 259.8,658.6 260.4,658.6 261,658.6 261.6,658.6 262.2,658.6 262.7,658.6 263.3,658.6 263.9,658.7 264.5,658.7 265.1,658.7 265.7,658.7 266.3,658.7 266.9,658.7 267.4,658.7 268,658.7 268.6,658.7 269.2,658.7 269.8,658.7 270.4,658.7 271,658.7 271.5,658.7 272.1,658.7 272.7,658.7 273.3,658.7 273.9,658.7 274.5,658.7 275.1,658.7 275.7,658.7 276.2,658.7 276.8,658.7 277.4,658.7 278,658.7 278.6,658.8 279.2,658.8 279.8,658.8 280.4,658.8 280.9,658.8 281.5,658.8 282.1,658.8 282.7,658.8 283.3,658.8 283.9,658.8 284.5,658.8 285,658.8 285.6,658.8 286.2,658.8 286.8,658.8 287.4,658.8 288,658.9 288.6,658.9 289.2,658.9 289.7,658.9 290.3,658.9 290.9,658.9 291.5,658.9 292.1,658.9 292.7,658.9 293.3,658.9 293.9,658.9 294.4,658.9 295,659 295.6,659 296.2,659 296.8,659 297.4,659 298,659 298.6,659 299.1,659 299.7,659.1 300.3,659.1 300.9,659.1 301.5,659.1 302.1,659.1 302.7,659.1 303.2,659.2 303.8,659.2 304.4,659.2 305,659.2 305.6,659.2 306.2,659.2 306.8,659.3 307.4,659.3 307.9,659.3 308.5,659.3 309.1,659.3 309.7,659.4 310.3,659.4 310.9,659.4 311.5,659.4 312.1,659.5 312.6,659.5 313.2,659.5 313.8,659.5 314.4,659.6 315,659.6 315.6,659.6 316.2,659.6 316.7,659.7 317.3,659.7 317.9,659.7 318.5,659.7 319.1,659.8 319.7,659.8 320.3,659.8 320.9,659.8 321.4,659.9 322,659.9 322.6,659.9 323.2,659.9 323.8,660 324.4,660 325,660 325.6,660 326.1,660.1 326.7,660.1 327.3,660.1 327.9,660.1 328.5,660.2 329.1,660.2 329.7,660.2 330.2,660.2 330.8,660.2 331.4,660.3 332,660.3 332.6,660.3 333.2,660.3 333.8,660.3 334.4,660.3 334.9,660.4 335.5,660.4 336.1,660.4 336.7,660.4 337.3,660.4 337.9,660.4 338.5,660.4 339.1,660.5 339.6,660.5 340.2,660.5 340.8,660.5 341.4,660.5 342,660.5 342.6,660.5 343.2,660.5 343.7,660.5 344.3,660.6 344.9,660.6 345.5,660.6 346.1,660.6 346.7,660.6 347.3,660.6 347.9,660.6 348.4,660.6 349,660.6 349.6,660.6 350.2,660.6 350.8,660.6 351.4,660.6 352,660.7 352.6,660.7 353.1,660.7 353.7,660.7 354.3,660.7 354.9,660.7 355.5,660.7 356.1,660.7 356.7,660.7 357.3,660.7 357.8,660.7 358.4,660.7 359,660.7 359.6,660.7 360.2,660.7 360.8,660.7 361.4,660.7 361.9,660.7 362.5,660.7 363.1,660.7 363.7,660.8 364.3,660.8 364.9,660.8 365.5,660.8 366.1,660.8 366.6,660.8 367.2,660.8 367.8,660.8 368.4,660.8 369,660.8 369.6,660.8 370.2,660.8 370.8,660.8 371.3,660.8 371.9,660.8 372.5,660.8 373.1,660.8 373.7,660.8 374.3,660.8 374.9,660.8 375.4,660.8 376,660.8 376.6,660.8 377.2,660.8 377.8,660.8 378.4,660.8 379,660.8 379.6,660.9 380.1,660.9 380.7,660.9 381.3,660.9 381.9,660.9 382.5,660.9 383.1,660.9 383.7,660.9 384.3,660.9 384.8,660.9 385.4,660.9 386,660.9 386.6,660.9 387.2,660.9 387.8,660.9 388.4,660.9 388.9,660.9 389.5,660.9 390.1,660.9 390.7,660.9 391.3,660.9 391.9,660.9 392.5,660.9 393.1,660.9 393.6,660.9 394.2,660.9 394.8,660.9 395.4,660.9 396,660.9 396.6,660.9 397.2,660.9 397.8,660.9 398.3,661 398.9,661 399.5,661 400.1,661 400.7,661 401.3,661 401.9,661 402.4,661 403,661 403.6,661 404.2,661 404.8,661 405.4,661 406,661" fill="none" stroke="#f0903a" stroke-width="1.0" stroke-linejoin="round" />
<g fill="url(#dot)" stroke="#000" stroke-width="0.35"><circle cx="219.9" cy="659.7" r="1.85"/><circle cx="221.4" cy="659.9" r="1.85"/><circle cx="222.8" cy="659.6" r="1.85"/><circle cx="224.3" cy="660.1" r="1.85"/><circle cx="225.8" cy="660.1" r="1.85"/><circle cx="227.2" cy="660.4" r="1.85"/><circle cx="228.7" cy="660.1" r="1.85"/><circle cx="230.2" cy="659.4" r="1.85"/><circle cx="231.6" cy="659.7" r="1.85"/><circle cx="233.1" cy="660.8" r="1.85"/><circle cx="234.6" cy="660.6" r="1.85"/><circle cx="236" cy="660" r="1.85"/><circle cx="237.5" cy="660" r="1.85"/><circle cx="239" cy="660" r="1.85"/><circle cx="240.4" cy="660.1" r="1.85"/><circle cx="241.9" cy="659.3" r="1.85"/><circle cx="243.4" cy="660.6" r="1.85"/><circle cx="244.8" cy="659.8" r="1.85"/><circle cx="246.3" cy="660.2" r="1.85"/><circle cx="247.8" cy="659" r="1.85"/><circle cx="249.2" cy="660.3" r="1.85"/><circle cx="250.7" cy="660.8" r="1.85"/><circle cx="252.2" cy="659.1" r="1.85"/><circle cx="253.6" cy="660.9" r="1.85"/><circle cx="255.1" cy="660.4" r="1.85"/><circle cx="256.6" cy="659.9" r="1.85"/><circle cx="258" cy="659.5" r="1.85"/><circle cx="259.5" cy="660.8" r="1.85"/><circle cx="261" cy="660.4" r="1.85"/><circle cx="262.4" cy="660.5" r="1.85"/><circle cx="263.9" cy="660" r="1.85"/><circle cx="265.4" cy="659.5" r="1.85"/><circle cx="266.9" cy="659.9" r="1.85"/><circle cx="268.3" cy="658.4" r="1.85"/><circle cx="269.8" cy="658.6" r="1.85"/><circle cx="271.3" cy="656.7" r="1.85"/><circle cx="272.7" cy="656.2" r="1.85"/><circle cx="274.2" cy="654.8" r="1.85"/><circle cx="275.7" cy="654.7" r="1.85"/><circle cx="277.1" cy="651.6" r="1.85"/><circle cx="278.6" cy="650" r="1.85"/><circle cx="280.1" cy="648.8" r="1.85"/><circle cx="281.5" cy="646.3" r="1.85"/><circle cx="283" cy="644.5" r="1.85"/><circle cx="284.5" cy="641.2" r="1.85"/><circle cx="285.9" cy="637.2" r="1.85"/><circle cx="287.4" cy="633.8" r="1.85"/><circle cx="288.9" cy="629" r="1.85"/><circle cx="290.3" cy="625.6" r="1.85"/><circle cx="291.8" cy="622.2" r="1.85"/><circle cx="293.3" cy="618.6" r="1.85"/><circle cx="294.7" cy="614.1" r="1.85"/><circle cx="296.2" cy="610.7" r="1.85"/><circle cx="297.7" cy="608.1" r="1.85"/><circle cx="299.1" cy="606.9" r="1.85"/><circle cx="300.6" cy="604.7" r="1.85"/><circle cx="302.1" cy="603.2" r="1.85"/><circle cx="303.5" cy="603" r="1.85"/><circle cx="305" cy="603.8" r="1.85"/><circle cx="306.5" cy="604.2" r="1.85"/><circle cx="307.9" cy="605.3" r="1.85"/><circle cx="309.4" cy="605.9" r="1.85"/><circle cx="310.9" cy="608.7" r="1.85"/><circle cx="312.3" cy="610.3" r="1.85"/><circle cx="313.8" cy="610.7" r="1.85"/><circle cx="315.3" cy="610.3" r="1.85"/><circle cx="316.7" cy="609.1" r="1.85"/><circle cx="318.2" cy="608.3" r="1.85"/><circle cx="319.7" cy="605.6" r="1.85"/><circle cx="321.1" cy="602.1" r="1.85"/><circle cx="322.6" cy="598.3" r="1.85"/><circle cx="324.1" cy="595.1" r="1.85"/><circle cx="325.6" cy="592.1" r="1.85"/><circle cx="327" cy="589.4" r="1.85"/><circle cx="328.5" cy="587" r="1.85"/><circle cx="330" cy="584.7" r="1.85"/><circle cx="331.4" cy="582.6" r="1.85"/><circle cx="332.9" cy="582.9" r="1.85"/><circle cx="334.4" cy="583.2" r="1.85"/><circle cx="335.8" cy="585.4" r="1.85"/><circle cx="337.3" cy="587" r="1.85"/><circle cx="338.8" cy="590.4" r="1.85"/><circle cx="340.2" cy="595" r="1.85"/><circle cx="341.7" cy="600" r="1.85"/><circle cx="343.2" cy="607.2" r="1.85"/><circle cx="344.6" cy="613" r="1.85"/><circle cx="346.1" cy="618.3" r="1.85"/><circle cx="347.6" cy="625.3" r="1.85"/><circle cx="349" cy="631.2" r="1.85"/><circle cx="350.5" cy="635.4" r="1.85"/><circle cx="352" cy="640.6" r="1.85"/><circle cx="353.4" cy="644.6" r="1.85"/><circle cx="354.9" cy="648.7" r="1.85"/><circle cx="356.4" cy="651.1" r="1.85"/><circle cx="357.8" cy="652.7" r="1.85"/><circle cx="359.3" cy="654.5" r="1.85"/><circle cx="360.8" cy="655.8" r="1.85"/><circle cx="362.2" cy="656.5" r="1.85"/><circle cx="363.7" cy="656.9" r="1.85"/><circle cx="365.2" cy="657.3" r="1.85"/><circle cx="366.6" cy="658" r="1.85"/><circle cx="368.1" cy="658.3" r="1.85"/><circle cx="369.6" cy="659" r="1.85"/><circle cx="371" cy="659.4" r="1.85"/><circle cx="372.5" cy="659.5" r="1.85"/><circle cx="374" cy="659.8" r="1.85"/><circle cx="375.4" cy="660" r="1.85"/><circle cx="376.9" cy="660.8" r="1.85"/><circle cx="378.4" cy="660.7" r="1.85"/><circle cx="379.8" cy="659.9" r="1.85"/><circle cx="381.3" cy="660.4" r="1.85"/><circle cx="382.8" cy="660.1" r="1.85"/><circle cx="384.3" cy="660.3" r="1.85"/><circle cx="385.7" cy="660.3" r="1.85"/><circle cx="387.2" cy="660.1" r="1.85"/><circle cx="388.7" cy="659.8" r="1.85"/><circle cx="390.1" cy="659.3" r="1.85"/><circle cx="391.6" cy="660.7" r="1.85"/><circle cx="393.1" cy="661.2" r="1.85"/><circle cx="394.5" cy="660.2" r="1.85"/><circle cx="396" cy="660.9" r="1.85"/><circle cx="397.5" cy="660.5" r="1.85"/><circle cx="398.9" cy="660.9" r="1.85"/><circle cx="400.4" cy="660.4" r="1.85"/><circle cx="401.9" cy="660.7" r="1.85"/><circle cx="403.3" cy="660.8" r="1.85"/><circle cx="404.8" cy="659.7" r="1.85"/><circle cx="406.3" cy="661" r="1.85"/></g>
<path d="M265.7,767.8L266.3,767.8 266.9,767.8 267.4,767.7 268,767.7 268.6,767.6 269.2,767.5 269.8,767.4 270.4,767.3 271,767.2 271.5,767.1 272.1,766.9 272.7,766.7 273.3,766.5 273.9,766.2 274.5,765.9 275.1,765.6 275.7,765.2 276.2,764.8 276.8,764.4 277.4,763.8 278,763.3 278.6,762.6 279.2,761.9 279.8,761.1 280.4,760.3 280.9,759.3 281.5,758.3 282.1,757.2 282.7,756 283.3,754.8 283.9,753.4 284.5,752 285,750.4 285.6,748.8 286.2,747.1 286.8,745.3 287.4,743.4 288,741.5 288.6,739.5 289.2,737.4 289.7,735.3 290.3,733.2 290.9,731 291.5,728.8 292.1,726.6 292.7,724.4 293.3,722.3 293.9,720.2 294.4,718.2 295,716.2 295.6,714.3 296.2,712.6 296.8,710.9 297.4,709.4 298,708 298.6,706.8 299.1,705.7 299.7,704.9 300.3,704.2 300.9,703.7 301.5,703.4 302.1,703.3 302.7,703.4 303.2,703.7 303.8,704.2 304.4,704.9 305,705.8 305.6,706.9 306.2,708.1 306.8,709.5 307.4,711 307.9,712.7 308.5,714.4 309.1,716.3 309.7,718.3 310.3,720.3 310.9,722.5 311.5,724.6 312.1,726.8 312.6,729 313.2,731.2 313.8,733.4 314.4,735.5 315,737.6 315.6,739.7 316.2,741.7 316.7,743.7 317.3,745.5 317.9,747.3 318.5,749.1 319.1,750.7 319.7,752.3 320.3,753.7 320.9,755.1 321.4,756.4 322,757.6 322.6,758.7 323.2,759.7 323.8,760.6 324.4,761.5 325,762.3 325.6,763 326.1,763.7 326.7,764.2 327.3,764.8 327.9,765.3 328.5,765.7 329.1,766.1 329.7,766.4 330.2,766.7 330.8,767 331.4,767.2 332,767.4 332.6,767.6 333.2,767.7 333.8,767.9 334.4,768 334.9,768.1 335.5,768.2 336.1,768.2 336.7,768.3 337.3,768.4 337.9,768.4 338.5,768.4 339.1,768.5 339.6,768.5 340.2,768.5 340.8,768.6 341.4,768.6 342,768.6 342.6,768.6 343.2,768.6 343.7,768.6 344.3,768.6 344.9,768.7 345.5,768.7 346.1,768.7 346.7,768.7 347.3,768.7 347.9,768.7 348.4,768.7 349,768.7 349.6,768.7 350.2,768.7 350.8,768.7 351.4,768.7 352,768.7 352.6,768.7 353.1,768.7 353.7,768.7 354.3,768.8 354.9,768.8 355.5,768.8 356.1,768.8 356.7,768.8 357.3,768.8 357.8,768.8 358.4,768.8 359,768.8 359.6,768.8 360.2,768.8 360.8,768.8 361.4,768.8 361.9,768.8 362.5,768.8 363.1,768.8 363.7,768.8 364.3,768.8 364.9,768.8 365.5,768.8 366.1,768.9 366.6,768.9 367.2,768.9 367.8,768.9 368.4,768.9 369,768.9 369.6,768.9 370.2,768.9 370.8,768.9 371.3,768.9 371.9,768.9 372.5,768.9 373.1,768.9 373.7,768.9 374.3,768.9 374.9,768.9 375.4,768.9 376,768.9 376.6,768.9 377.2,768.9 377.8,769 378.4,769 379,769 379.6,769 380.1,769 380.7,769 381.3,769 381.9,769 382.5,769 383.1,769 383.7,769 384.3,769 384.8,769 385.4,769 386,769 386.6,769 387.2,769 387.8,769 388.4,769 388.9,769 389.5,769.1 390.1,769.1 390.7,769.1 391.3,769.1 391.9,769.1 392.5,769.1 393.1,769.1 393.6,769.1 394.2,769.1 394.8,769.1 395.4,769.1 396,769.1 396.6,769.1 397.2,769.1 397.8,769.1 398.3,769.1 398.9,769.1 399.5,769.1 400.1,769.1 400.7,769.1 401.3,769.1 401.9,769.2 402.4,769.2 403,769.2 403.6,769.2 404.2,769.2 404.8,769.2 405.4,769.2 406,769.2" fill="none" stroke="#2a9a2a" stroke-width="0.9" stroke-linejoin="round" />
<path d="M219.9,767.6L220.5,767.6 221.1,767.6 221.7,767.6 222.2,767.6 222.8,767.6 223.4,767.6 224,767.7 224.6,767.7 225.2,767.7 225.8,767.7 226.3,767.7 226.9,767.7 227.5,767.7 228.1,767.7 228.7,767.7 229.3,767.7 229.9,767.7 230.5,767.7 231,767.7 231.6,767.7 232.2,767.7 232.8,767.7 233.4,767.7 234,767.7 234.6,767.7 235.2,767.7 235.7,767.8 236.3,767.8 236.9,767.8 237.5,767.8 238.1,767.8 238.7,767.8 239.3,767.8 239.9,767.8 240.4,767.8 241,767.8 241.6,767.8 242.2,767.8 242.8,767.8 243.4,767.8 244,767.8 244.5,767.8 245.1,767.8 245.7,767.8 246.3,767.8 246.9,767.8 247.5,767.9 248.1,767.9 248.7,767.9 249.2,767.9 249.8,767.9 250.4,767.9 251,767.9 251.6,767.9 252.2,767.9 252.8,767.9 253.4,767.9 253.9,767.9 254.5,767.9 255.1,767.9 255.7,767.9 256.3,767.9 256.9,767.9 257.5,767.9 258,767.9 258.6,767.9 259.2,768 259.8,768 260.4,768 261,768 261.6,768 262.2,768 262.7,768 263.3,768 263.9,768 264.5,768 265.1,768 265.7,768 266.3,768 266.9,768 267.4,768 268,768 268.6,768 269.2,768 269.8,768 270.4,768 271,768 271.5,768.1 272.1,768.1 272.7,768.1 273.3,768.1 273.9,768.1 274.5,768.1 275.1,768.1 275.7,768.1 276.2,768.1 276.8,768.1 277.4,768.1 278,768.1 278.6,768.1 279.2,768.1 279.8,768.1 280.4,768.1 280.9,768.1 281.5,768.1 282.1,768.1 282.7,768.1 283.3,768.1 283.9,768.2 284.5,768.2 285,768.2 285.6,768.2 286.2,768.2 286.8,768.2 287.4,768.2 288,768.2 288.6,768.2 289.2,768.2 289.7,768.1 290.3,768.1 290.9,768.1 291.5,768.1 292.1,768.1 292.7,768.1 293.3,768 293.9,768 294.4,767.9 295,767.9 295.6,767.8 296.2,767.7 296.8,767.6 297.4,767.5 298,767.4 298.6,767.2 299.1,767.1 299.7,766.9 300.3,766.6 300.9,766.4 301.5,766.1 302.1,765.7 302.7,765.3 303.2,764.9 303.8,764.4 304.4,763.8 305,763.2 305.6,762.5 306.2,761.7 306.8,760.8 307.4,759.9 307.9,758.8 308.5,757.7 309.1,756.5 309.7,755.1 310.3,753.6 310.9,752 311.5,750.3 312.1,748.5 312.6,746.6 313.2,744.5 313.8,742.3 314.4,740 315,737.6 315.6,735.1 316.2,732.5 316.7,729.7 317.3,726.9 317.9,724.1 318.5,721.1 319.1,718.1 319.7,715.1 320.3,712.1 320.9,709 321.4,706 322,703 322.6,700.1 323.2,697.2 323.8,694.5 324.4,691.8 325,689.3 325.6,687 326.1,684.8 326.7,682.9 327.3,681.1 327.9,679.6 328.5,678.2 329.1,677.2 329.7,676.4 330.2,675.9 330.8,675.6 331.4,675.6 332,675.9 332.6,676.4 333.2,677.2 333.8,678.3 334.4,679.6 334.9,681.2 335.5,682.9 336.1,684.9 336.7,687.1 337.3,689.4 337.9,692 338.5,694.6 339.1,697.4 339.6,700.2 340.2,703.2 340.8,706.2 341.4,709.2 342,712.2 342.6,715.3 343.2,718.3 343.7,721.3 344.3,724.3 344.9,727.2 345.5,730 346.1,732.7 346.7,735.4 347.3,737.9 347.9,740.3 348.4,742.6 349,744.8 349.6,746.9 350.2,748.8 350.8,750.7 351.4,752.4 352,754 352.6,755.5 353.1,756.8 353.7,758.1 354.3,759.2 354.9,760.3 355.5,761.3 356.1,762.1 356.7,762.9 357.3,763.6 357.8,764.3 358.4,764.8 359,765.3 359.6,765.8 360.2,766.2 360.8,766.6 361.4,766.9 361.9,767.2 362.5,767.4 363.1,767.6 363.7,767.8 364.3,768 364.9,768.1" fill="none" stroke="#e070b0" stroke-width="0.9" stroke-linejoin="round" />
<g fill="url(#dot)" stroke="#000" stroke-width="0.35"><circle cx="219.9" cy="767.5" r="1.85"/><circle cx="221.4" cy="766.4" r="1.85"/><circle cx="222.8" cy="767.9" r="1.85"/><circle cx="224.3" cy="767.6" r="1.85"/><circle cx="225.8" cy="767.8" r="1.85"/><circle cx="227.2" cy="767.8" r="1.85"/><circle cx="228.7" cy="767.5" r="1.85"/><circle cx="230.2" cy="767.2" r="1.85"/><circle cx="231.6" cy="767.5" r="1.85"/><circle cx="233.1" cy="767.5" r="1.85"/><circle cx="234.6" cy="768.8" r="1.85"/><circle cx="236" cy="768.6" r="1.85"/><circle cx="237.5" cy="767.5" r="1.85"/><circle cx="239" cy="767.6" r="1.85"/><circle cx="240.4" cy="767.9" r="1.85"/><circle cx="241.9" cy="768.1" r="1.85"/><circle cx="243.4" cy="767.5" r="1.85"/><circle cx="244.8" cy="767.3" r="1.85"/><circle cx="246.3" cy="768.8" r="1.85"/><circle cx="247.8" cy="768.4" r="1.85"/><circle cx="249.2" cy="767.1" r="1.85"/><circle cx="250.7" cy="767" r="1.85"/><circle cx="252.2" cy="767.5" r="1.85"/><circle cx="253.6" cy="768" r="1.85"/><circle cx="255.1" cy="768.2" r="1.85"/><circle cx="256.6" cy="767.8" r="1.85"/><circle cx="258" cy="767.1" r="1.85"/><circle cx="259.5" cy="768" r="1.85"/><circle cx="261" cy="768.2" r="1.85"/><circle cx="262.4" cy="768" r="1.85"/><circle cx="263.9" cy="767.7" r="1.85"/><circle cx="265.4" cy="767.9" r="1.85"/><circle cx="266.9" cy="767.1" r="1.85"/><circle cx="268.3" cy="765.9" r="1.85"/><circle cx="269.8" cy="765.8" r="1.85"/><circle cx="271.3" cy="764.3" r="1.85"/><circle cx="272.7" cy="764.5" r="1.85"/><circle cx="274.2" cy="762.9" r="1.85"/><circle cx="275.7" cy="760.4" r="1.85"/><circle cx="277.1" cy="759" r="1.85"/><circle cx="278.6" cy="757.3" r="1.85"/><circle cx="280.1" cy="753.2" r="1.85"/><circle cx="281.5" cy="751.5" r="1.85"/><circle cx="283" cy="749.2" r="1.85"/><circle cx="284.5" cy="743.9" r="1.85"/><circle cx="285.9" cy="740.6" r="1.85"/><circle cx="287.4" cy="736.1" r="1.85"/><circle cx="288.9" cy="732.7" r="1.85"/><circle cx="290.3" cy="727.3" r="1.85"/><circle cx="291.8" cy="723.5" r="1.85"/><circle cx="293.3" cy="719.9" r="1.85"/><circle cx="294.7" cy="715.8" r="1.85"/><circle cx="296.2" cy="711.9" r="1.85"/><circle cx="297.7" cy="708.6" r="1.85"/><circle cx="299.1" cy="706.1" r="1.85"/><circle cx="300.6" cy="703.6" r="1.85"/><circle cx="302.1" cy="703.3" r="1.85"/><circle cx="303.5" cy="703.1" r="1.85"/><circle cx="305" cy="704.6" r="1.85"/><circle cx="306.5" cy="707.6" r="1.85"/><circle cx="307.9" cy="708.9" r="1.85"/><circle cx="309.4" cy="711" r="1.85"/><circle cx="310.9" cy="713.8" r="1.85"/><circle cx="312.3" cy="715.5" r="1.85"/><circle cx="313.8" cy="714.3" r="1.85"/><circle cx="315.3" cy="713.4" r="1.85"/><circle cx="316.7" cy="709.4" r="1.85"/><circle cx="318.2" cy="706.2" r="1.85"/><circle cx="319.7" cy="702.8" r="1.85"/><circle cx="321.1" cy="694.8" r="1.85"/><circle cx="322.6" cy="690.1" r="1.85"/><circle cx="324.1" cy="684.6" r="1.85"/><circle cx="325.6" cy="680.9" r="1.85"/><circle cx="327" cy="677.4" r="1.85"/><circle cx="328.5" cy="675.1" r="1.85"/><circle cx="330" cy="675.4" r="1.85"/><circle cx="331.4" cy="676.2" r="1.85"/><circle cx="332.9" cy="678.7" r="1.85"/><circle cx="334.4" cy="680.9" r="1.85"/><circle cx="335.8" cy="685.3" r="1.85"/><circle cx="337.3" cy="691.4" r="1.85"/><circle cx="338.8" cy="700.3" r="1.85"/><circle cx="340.2" cy="707.2" r="1.85"/><circle cx="341.7" cy="716.2" r="1.85"/><circle cx="343.2" cy="724.3" r="1.85"/><circle cx="344.6" cy="732.7" r="1.85"/><circle cx="346.1" cy="740.7" r="1.85"/><circle cx="347.6" cy="747" r="1.85"/><circle cx="349" cy="752.3" r="1.85"/><circle cx="350.5" cy="758" r="1.85"/><circle cx="352" cy="758.7" r="1.85"/><circle cx="353.4" cy="761.9" r="1.85"/><circle cx="354.9" cy="762.9" r="1.85"/><circle cx="356.4" cy="763.5" r="1.85"/><circle cx="357.8" cy="765" r="1.85"/><circle cx="359.3" cy="765.4" r="1.85"/><circle cx="360.8" cy="767" r="1.85"/><circle cx="362.2" cy="766.3" r="1.85"/><circle cx="363.7" cy="767.9" r="1.85"/><circle cx="365.2" cy="768" r="1.85"/><circle cx="366.6" cy="767.3" r="1.85"/><circle cx="368.1" cy="767.4" r="1.85"/><circle cx="369.6" cy="768.6" r="1.85"/><circle cx="371" cy="767.9" r="1.85"/><circle cx="372.5" cy="768.1" r="1.85"/><circle cx="374" cy="768" r="1.85"/><circle cx="375.4" cy="767.6" r="1.85"/><circle cx="376.9" cy="768.1" r="1.85"/><circle cx="378.4" cy="767.8" r="1.85"/><circle cx="379.8" cy="767.6" r="1.85"/><circle cx="381.3" cy="768.3" r="1.85"/><circle cx="382.8" cy="769.4" r="1.85"/><circle cx="384.3" cy="769.3" r="1.85"/><circle cx="385.7" cy="768.5" r="1.85"/><circle cx="387.2" cy="768.7" r="1.85"/><circle cx="388.7" cy="768.9" r="1.85"/><circle cx="390.1" cy="769.4" r="1.85"/><circle cx="391.6" cy="768.9" r="1.85"/><circle cx="393.1" cy="768.6" r="1.85"/><circle cx="394.5" cy="768.6" r="1.85"/><circle cx="396" cy="769.4" r="1.85"/><circle cx="397.5" cy="770.2" r="1.85"/><circle cx="398.9" cy="768.6" r="1.85"/><circle cx="400.4" cy="768" r="1.85"/><circle cx="401.9" cy="769.4" r="1.85"/><circle cx="403.3" cy="769" r="1.85"/><circle cx="404.8" cy="769.1" r="1.85"/><circle cx="406.3" cy="769.7" r="1.85"/></g>
<line x1="302.5" y1="596" x2="302.5" y2="646" stroke="#555" stroke-width="0.8" stroke-dasharray="1 1"/>
<line x1="303.5" y1="596" x2="303.5" y2="646" stroke="#555" stroke-width="0.8" stroke-dasharray="1 1"/>
<line x1="300.5" y1="659" x2="300.5" y2="731" stroke="#333" stroke-width="0.8" stroke-dasharray="1 1"/>
<line x1="333.5" y1="575" x2="333.5" y2="623" stroke="#555" stroke-width="0.8" stroke-dasharray="1 1"/>
<line x1="330.5" y1="658" x2="330.5" y2="707" stroke="#333" stroke-width="0.8" stroke-dasharray="1 1"/>
<line x1="242.4" y1="656" x2="240.6" y2="638.2" stroke="#111" stroke-width="0.9" />
<path d="M240.1,633.7L242.4,638 238.8,638.4Z" fill="#111"/>
<line x1="265.2" y1="656" x2="262.8" y2="638.2" stroke="#111" stroke-width="0.9" />
<path d="M262.2,633.7L264.6,637.9 261,638.4Z" fill="#111"/>
<text x="235.4" y="626.5" font-size="10.5" fill="#1e1e1e">Br<tspan font-size="7" dy="3">5</tspan><tspan font-size="7" dy="-7">-</tspan></text>
<text x="255.9" y="626.5" font-size="10.5" fill="#1e1e1e">Br<tspan font-size="7" dy="3">3</tspan><tspan font-size="7" dy="-7">-</tspan></text>
<text x="284.5" y="594.4" font-size="10.5" fill="#1e1e1e">Br 3 <tspan font-style="italic">d</tspan><tspan font-size="7.5" dy="3">3/2</tspan></text>
<text x="324.8" y="574.7" font-size="10.5" fill="#1e1e1e">Br 3 <tspan font-style="italic">d</tspan><tspan font-size="7.5" dy="3">5/2</tspan></text>
<text x="400.1" y="574.3" font-size="10.5" fill="#1e1e1e" text-anchor="end">23 h</text>
<text x="400.7" y="683.8" font-size="10.5" fill="#1e1e1e" text-anchor="end">0 h</text>
<text x="203.3" y="668.3" font-size="11.3" fill="#1e1e1e" text-anchor="middle" textLength="95.4" lengthAdjust="spacingAndGlyphs" transform="rotate(-90 203.3 664.3)">Intensity (arb.units)</text>
<text x="311.5" y="804.9" font-size="11" fill="#1e1e1e" text-anchor="middle" textLength="91.1" lengthAdjust="spacingAndGlyphs">Binding energy (eV)</text>
<rect x="452.5" y="556.5" width="197" height="218" fill="none" stroke="#8a8a8a" stroke-width="1.0"/>
<line x1="452.5" y1="774.5" x2="450.5" y2="774.5" stroke="#8a8a8a" stroke-width="0.8" />
<line x1="649.2" y1="774.5" x2="651.2" y2="774.5" stroke="#8a8a8a" stroke-width="0.8" />
<line x1="452.5" y1="743.3" x2="449.3" y2="743.3" stroke="#8a8a8a" stroke-width="0.8" />
<line x1="649.2" y1="743.3" x2="652.4" y2="743.3" stroke="#8a8a8a" stroke-width="0.8" />
<line x1="452.5" y1="712.2" x2="450.5" y2="712.2" stroke="#8a8a8a" stroke-width="0.8" />
<line x1="649.2" y1="712.2" x2="651.2" y2="712.2" stroke="#8a8a8a" stroke-width="0.8" />
<line x1="452.5" y1="681" x2="449.3" y2="681" stroke="#8a8a8a" stroke-width="0.8" />
<line x1="649.2" y1="681" x2="652.4" y2="681" stroke="#8a8a8a" stroke-width="0.8" />
<line x1="452.5" y1="649.9" x2="450.5" y2="649.9" stroke="#8a8a8a" stroke-width="0.8" />
<line x1="649.2" y1="649.9" x2="651.2" y2="649.9" stroke="#8a8a8a" stroke-width="0.8" />
<line x1="452.5" y1="618.7" x2="449.3" y2="618.7" stroke="#8a8a8a" stroke-width="0.8" />
<line x1="649.2" y1="618.7" x2="652.4" y2="618.7" stroke="#8a8a8a" stroke-width="0.8" />
<line x1="452.5" y1="587.6" x2="450.5" y2="587.6" stroke="#8a8a8a" stroke-width="0.8" />
<line x1="649.2" y1="587.6" x2="651.2" y2="587.6" stroke="#8a8a8a" stroke-width="0.8" />
<line x1="452.5" y1="556.4" x2="449.3" y2="556.4" stroke="#8a8a8a" stroke-width="0.8" />
<line x1="649.2" y1="556.4" x2="652.4" y2="556.4" stroke="#8a8a8a" stroke-width="0.8" />
<line x1="452.7" y1="774.3" x2="452.7" y2="776.3" stroke="#8a8a8a" stroke-width="0.8" />
<line x1="452.7" y1="556.1" x2="452.7" y2="558.1" stroke="#8a8a8a" stroke-width="0.8" />
<line x1="484.3" y1="774.3" x2="484.3" y2="777.5" stroke="#8a8a8a" stroke-width="0.8" />
<line x1="484.3" y1="556.1" x2="484.3" y2="559.3" stroke="#8a8a8a" stroke-width="0.8" />
<line x1="515.9" y1="774.3" x2="515.9" y2="776.3" stroke="#8a8a8a" stroke-width="0.8" />
<line x1="515.9" y1="556.1" x2="515.9" y2="558.1" stroke="#8a8a8a" stroke-width="0.8" />
<line x1="547.5" y1="774.3" x2="547.5" y2="777.5" stroke="#8a8a8a" stroke-width="0.8" />
<line x1="547.5" y1="556.1" x2="547.5" y2="559.3" stroke="#8a8a8a" stroke-width="0.8" />
<line x1="579.1" y1="774.3" x2="579.1" y2="776.3" stroke="#8a8a8a" stroke-width="0.8" />
<line x1="579.1" y1="556.1" x2="579.1" y2="558.1" stroke="#8a8a8a" stroke-width="0.8" />
<line x1="610.7" y1="774.3" x2="610.7" y2="777.5" stroke="#8a8a8a" stroke-width="0.8" />
<line x1="610.7" y1="556.1" x2="610.7" y2="559.3" stroke="#8a8a8a" stroke-width="0.8" />
<line x1="642.3" y1="774.3" x2="642.3" y2="776.3" stroke="#8a8a8a" stroke-width="0.8" />
<line x1="642.3" y1="556.1" x2="642.3" y2="558.1" stroke="#8a8a8a" stroke-width="0.8" />
<text x="449" y="560.2" font-size="10.5" fill="#1e1e1e" text-anchor="end">1.2</text>
<text x="449" y="622.5" font-size="10.5" fill="#1e1e1e" text-anchor="end">1.0</text>
<text x="449" y="684.8" font-size="10.5" fill="#1e1e1e" text-anchor="end">0.8</text>
<text x="449" y="747.1" font-size="10.5" fill="#1e1e1e" text-anchor="end">0.6</text>
<text x="654" y="560.2" font-size="10.5" fill="#1e1e1e">3.2</text>
<text x="654" y="622.5" font-size="10.5" fill="#1e1e1e">3.0</text>
<text x="654" y="684.8" font-size="10.5" fill="#1e1e1e">2.8</text>
<text x="654" y="747.1" font-size="10.5" fill="#1e1e1e">2.6</text>
<text x="484.3" y="787.8" font-size="10.5" fill="#1e1e1e" text-anchor="middle">0</text>
<text x="547.5" y="787.8" font-size="10.5" fill="#1e1e1e" text-anchor="middle">10</text>
<text x="610.7" y="787.8" font-size="10.5" fill="#1e1e1e" text-anchor="middle">20</text>
<line x1="488.3" y1="619.5" x2="636.8" y2="619.5" stroke="#111" stroke-width="1.0" stroke-dasharray="1.8 1"/>
<path d="M494.3,710.5L535.3,710.5L638,737.5" fill="none" stroke="#111" stroke-width="0.9" stroke-dasharray="1.6 1"/>
<circle cx="491.1" cy="607.4" r="2.3" fill="url(#sph)"/>
<circle cx="503.5" cy="630.7" r="2.3" fill="url(#sph)"/>
<circle cx="516" cy="619.5" r="2.3" fill="url(#sph)"/>
<circle cx="535.3" cy="599.4" r="2.3" fill="url(#sph)"/>
<circle cx="554.1" cy="650.8" r="2.3" fill="url(#sph)"/>
<circle cx="566.6" cy="606.2" r="2.3" fill="url(#sph)"/>
<circle cx="585.4" cy="638.4" r="2.3" fill="url(#sph)"/>
<circle cx="610.7" cy="627.1" r="2.3" fill="url(#sph)"/>
<circle cx="636" cy="609" r="2.3" fill="url(#sph)"/>
<circle cx="491.1" cy="715.8" r="2.1" fill="#fff" stroke="#666" stroke-width="0.8"/>
<circle cx="503.5" cy="720.6" r="2.1" fill="#fff" stroke="#666" stroke-width="0.8"/>
<circle cx="516" cy="699.8" r="2.1" fill="#fff" stroke="#666" stroke-width="0.8"/>
<circle cx="535.3" cy="715.8" r="2.1" fill="#fff" stroke="#666" stroke-width="0.8"/>
<circle cx="554.1" cy="715.4" r="2.1" fill="#fff" stroke="#666" stroke-width="0.8"/>
<circle cx="566.6" cy="720.6" r="2.1" fill="#fff" stroke="#666" stroke-width="0.8"/>
<circle cx="585.4" cy="732.7" r="2.1" fill="#fff" stroke="#666" stroke-width="0.8"/>
<circle cx="610.7" cy="726.7" r="2.1" fill="#fff" stroke="#666" stroke-width="0.8"/>
<circle cx="636" cy="733.5" r="2.1" fill="#fff" stroke="#666" stroke-width="0.8"/>
<text x="590.6" y="604.1" font-size="11" fill="#1e1e1e">N/Pb</text>
<text x="602.7" y="716.5" font-size="11" fill="#1e1e1e">Br/Pb</text>
<text x="424" y="669.5" font-size="11.3" fill="#1e1e1e" text-anchor="middle" textLength="93.2" lengthAdjust="spacingAndGlyphs" transform="rotate(-90 424 665.5)">Atomic ratio (N/Pb)</text>
<text x="680" y="672.5" font-size="11.3" fill="#1e1e1e" text-anchor="middle" textLength="89" lengthAdjust="spacingAndGlyphs" transform="rotate(-90 680 668.5)">Atomic ratio (Br/Pb)</text>
<text x="549" y="808.4" font-size="11" fill="#1e1e1e" text-anchor="middle" textLength="144.7" lengthAdjust="spacingAndGlyphs">Vacuum exposure duration (h)</text>
</svg></body></html>
